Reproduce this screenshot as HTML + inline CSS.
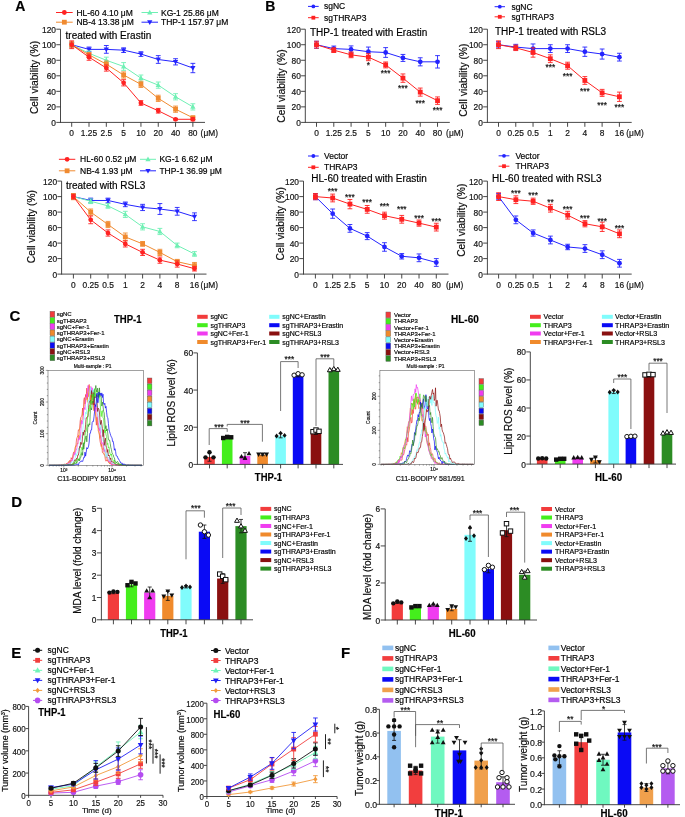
<!DOCTYPE html>
<html><head><meta charset="utf-8"><style>
html,body{margin:0;padding:0;background:#fff;width:685px;height:817px;overflow:hidden}
svg{display:block;filter:blur(0.35px)}
text{font-family:"Liberation Sans", sans-serif;stroke:currentColor;stroke-width:0.18px}
</style></head><body>
<svg width="685" height="817" viewBox="0 0 685 817">
<text x="15.30" y="10.70" font-size="14" font-weight="bold" fill="#000">A</text>
<line x1="56.00" y1="12.50" x2="72.70" y2="12.50" stroke="#ff2222" stroke-width="1.0"/>
<circle cx="64.35" cy="12.50" r="2.4" fill="#ff2222" stroke="#ff2222" stroke-width="0"/>
<text x="76.40" y="15.56" font-size="8.5" text-anchor="start" font-weight="normal" fill="#000">HL-60 4.10 μM</text>
<line x1="56.00" y1="22.20" x2="72.70" y2="22.20" stroke="#f08a30" stroke-width="1.0"/>
<rect x="61.95" y="19.80" width="4.8" height="4.8" fill="#f08a30" stroke="#f08a30" stroke-width="0"/>
<text x="76.40" y="25.26" font-size="8.5" text-anchor="start" font-weight="normal" fill="#000">NB-4 13.38 μM</text>
<line x1="141.50" y1="12.50" x2="158.00" y2="12.50" stroke="#6ff0b4" stroke-width="1.0"/>
<polygon points="149.75,9.74 147.11,14.42 152.39,14.42" fill="#6ff0b4" stroke="#6ff0b4" stroke-width="0"/>
<text x="161.00" y="15.56" font-size="8.5" text-anchor="start" font-weight="normal" fill="#000">KG-1 25.86 μM</text>
<line x1="141.50" y1="22.20" x2="158.00" y2="22.20" stroke="#2424ff" stroke-width="1.0"/>
<polygon points="149.75,24.96 147.11,20.28 152.39,20.28" fill="#2424ff" stroke="#2424ff" stroke-width="0"/>
<text x="161.00" y="25.26" font-size="8.5" text-anchor="start" font-weight="normal" fill="#000">THP-1 157.97 μM</text>
<line x1="60.50" y1="122.90" x2="60.50" y2="29.20" stroke="#333" stroke-width="0.9"/>
<line x1="56.30" y1="122.40" x2="60.50" y2="122.40" stroke="#333" stroke-width="0.9"/>
<text x="56.00" y="125.92" font-size="8.4" text-anchor="end" font-weight="normal" fill="#222">0</text>
<line x1="56.30" y1="106.87" x2="60.50" y2="106.87" stroke="#333" stroke-width="0.9"/>
<text x="56.00" y="110.39" font-size="8.4" text-anchor="end" font-weight="normal" fill="#222">20</text>
<line x1="56.30" y1="91.33" x2="60.50" y2="91.33" stroke="#333" stroke-width="0.9"/>
<text x="56.00" y="94.86" font-size="8.4" text-anchor="end" font-weight="normal" fill="#222">40</text>
<line x1="56.30" y1="75.80" x2="60.50" y2="75.80" stroke="#333" stroke-width="0.9"/>
<text x="56.00" y="79.32" font-size="8.4" text-anchor="end" font-weight="normal" fill="#222">60</text>
<line x1="56.30" y1="60.27" x2="60.50" y2="60.27" stroke="#333" stroke-width="0.9"/>
<text x="56.00" y="63.79" font-size="8.4" text-anchor="end" font-weight="normal" fill="#222">80</text>
<line x1="56.30" y1="44.73" x2="60.50" y2="44.73" stroke="#333" stroke-width="0.9"/>
<text x="56.00" y="48.26" font-size="8.4" text-anchor="end" font-weight="normal" fill="#222">100</text>
<line x1="56.30" y1="29.20" x2="60.50" y2="29.20" stroke="#333" stroke-width="0.9"/>
<text x="56.00" y="32.72" font-size="8.4" text-anchor="end" font-weight="normal" fill="#222">120</text>
<line x1="60.50" y1="122.40" x2="205.00" y2="122.40" stroke="#333" stroke-width="0.9"/>
<line x1="71.70" y1="122.40" x2="71.70" y2="126.80" stroke="#333" stroke-width="0.9"/>
<text x="71.70" y="136.32" font-size="8.4" text-anchor="middle" font-weight="normal" fill="#222">0</text>
<line x1="89.01" y1="122.40" x2="89.01" y2="126.80" stroke="#333" stroke-width="0.9"/>
<text x="89.01" y="136.32" font-size="8.4" text-anchor="middle" font-weight="normal" fill="#222">1.25</text>
<line x1="106.32" y1="122.40" x2="106.32" y2="126.80" stroke="#333" stroke-width="0.9"/>
<text x="106.32" y="136.32" font-size="8.4" text-anchor="middle" font-weight="normal" fill="#222">2.5</text>
<line x1="123.63" y1="122.40" x2="123.63" y2="126.80" stroke="#333" stroke-width="0.9"/>
<text x="123.63" y="136.32" font-size="8.4" text-anchor="middle" font-weight="normal" fill="#222">5</text>
<line x1="140.94" y1="122.40" x2="140.94" y2="126.80" stroke="#333" stroke-width="0.9"/>
<text x="140.94" y="136.32" font-size="8.4" text-anchor="middle" font-weight="normal" fill="#222">10</text>
<line x1="158.25" y1="122.40" x2="158.25" y2="126.80" stroke="#333" stroke-width="0.9"/>
<text x="158.25" y="136.32" font-size="8.4" text-anchor="middle" font-weight="normal" fill="#222">20</text>
<line x1="175.56" y1="122.40" x2="175.56" y2="126.80" stroke="#333" stroke-width="0.9"/>
<text x="175.56" y="136.32" font-size="8.4" text-anchor="middle" font-weight="normal" fill="#222">40</text>
<line x1="192.87" y1="122.40" x2="192.87" y2="126.80" stroke="#333" stroke-width="0.9"/>
<text x="192.87" y="136.32" font-size="8.4" text-anchor="middle" font-weight="normal" fill="#222">80</text>
<text x="200.60" y="136.32" font-size="8.4" text-anchor="start" font-weight="normal" fill="#222">(μM)</text>
<polyline points="71.70,44.73 89.01,49.39 106.32,49.39 123.63,50.17 140.94,54.05 158.25,59.49 175.56,61.82 192.87,68.03" fill="none" stroke="#2424ff" stroke-width="1.0"/>
<line x1="71.70" y1="42.40" x2="71.70" y2="47.06" stroke="#2424ff" stroke-width="0.9"/>
<line x1="69.30" y1="42.40" x2="74.10" y2="42.40" stroke="#2424ff" stroke-width="0.9"/>
<line x1="69.30" y1="47.06" x2="74.10" y2="47.06" stroke="#2424ff" stroke-width="0.9"/>
<line x1="89.01" y1="47.06" x2="89.01" y2="51.72" stroke="#2424ff" stroke-width="0.9"/>
<line x1="86.61" y1="47.06" x2="91.41" y2="47.06" stroke="#2424ff" stroke-width="0.9"/>
<line x1="86.61" y1="51.72" x2="91.41" y2="51.72" stroke="#2424ff" stroke-width="0.9"/>
<line x1="106.32" y1="45.51" x2="106.32" y2="53.28" stroke="#2424ff" stroke-width="0.9"/>
<line x1="103.92" y1="45.51" x2="108.72" y2="45.51" stroke="#2424ff" stroke-width="0.9"/>
<line x1="103.92" y1="53.28" x2="108.72" y2="53.28" stroke="#2424ff" stroke-width="0.9"/>
<line x1="123.63" y1="47.84" x2="123.63" y2="52.50" stroke="#2424ff" stroke-width="0.9"/>
<line x1="121.23" y1="47.84" x2="126.03" y2="47.84" stroke="#2424ff" stroke-width="0.9"/>
<line x1="121.23" y1="52.50" x2="126.03" y2="52.50" stroke="#2424ff" stroke-width="0.9"/>
<line x1="140.94" y1="51.72" x2="140.94" y2="56.38" stroke="#2424ff" stroke-width="0.9"/>
<line x1="138.54" y1="51.72" x2="143.34" y2="51.72" stroke="#2424ff" stroke-width="0.9"/>
<line x1="138.54" y1="56.38" x2="143.34" y2="56.38" stroke="#2424ff" stroke-width="0.9"/>
<line x1="158.25" y1="55.61" x2="158.25" y2="63.37" stroke="#2424ff" stroke-width="0.9"/>
<line x1="155.85" y1="55.61" x2="160.65" y2="55.61" stroke="#2424ff" stroke-width="0.9"/>
<line x1="155.85" y1="63.37" x2="160.65" y2="63.37" stroke="#2424ff" stroke-width="0.9"/>
<line x1="175.56" y1="58.71" x2="175.56" y2="64.93" stroke="#2424ff" stroke-width="0.9"/>
<line x1="173.16" y1="58.71" x2="177.96" y2="58.71" stroke="#2424ff" stroke-width="0.9"/>
<line x1="173.16" y1="64.93" x2="177.96" y2="64.93" stroke="#2424ff" stroke-width="0.9"/>
<line x1="192.87" y1="63.37" x2="192.87" y2="72.69" stroke="#2424ff" stroke-width="0.9"/>
<line x1="190.47" y1="63.37" x2="195.27" y2="63.37" stroke="#2424ff" stroke-width="0.9"/>
<line x1="190.47" y1="72.69" x2="195.27" y2="72.69" stroke="#2424ff" stroke-width="0.9"/>
<polygon points="71.70,47.49 69.06,42.81 74.34,42.81" fill="#2424ff" stroke="#2424ff" stroke-width="0"/>
<polygon points="89.01,52.15 86.37,47.47 91.65,47.47" fill="#2424ff" stroke="#2424ff" stroke-width="0"/>
<polygon points="106.32,52.15 103.68,47.47 108.96,47.47" fill="#2424ff" stroke="#2424ff" stroke-width="0"/>
<polygon points="123.63,52.93 120.99,48.25 126.27,48.25" fill="#2424ff" stroke="#2424ff" stroke-width="0"/>
<polygon points="140.94,56.81 138.30,52.13 143.58,52.13" fill="#2424ff" stroke="#2424ff" stroke-width="0"/>
<polygon points="158.25,62.25 155.61,57.57 160.89,57.57" fill="#2424ff" stroke="#2424ff" stroke-width="0"/>
<polygon points="175.56,64.58 172.92,59.90 178.20,59.90" fill="#2424ff" stroke="#2424ff" stroke-width="0"/>
<polygon points="192.87,70.79 190.23,66.11 195.51,66.11" fill="#2424ff" stroke="#2424ff" stroke-width="0"/>
<polyline points="71.70,44.73 89.01,53.28 106.32,60.27 123.63,66.48 140.94,78.13 158.25,85.12 175.56,96.77 192.87,106.87" fill="none" stroke="#6ff0b4" stroke-width="1.0"/>
<line x1="71.70" y1="42.40" x2="71.70" y2="47.06" stroke="#6ff0b4" stroke-width="0.9"/>
<line x1="69.30" y1="42.40" x2="74.10" y2="42.40" stroke="#6ff0b4" stroke-width="0.9"/>
<line x1="69.30" y1="47.06" x2="74.10" y2="47.06" stroke="#6ff0b4" stroke-width="0.9"/>
<line x1="89.01" y1="50.95" x2="89.01" y2="55.61" stroke="#6ff0b4" stroke-width="0.9"/>
<line x1="86.61" y1="50.95" x2="91.41" y2="50.95" stroke="#6ff0b4" stroke-width="0.9"/>
<line x1="86.61" y1="55.61" x2="91.41" y2="55.61" stroke="#6ff0b4" stroke-width="0.9"/>
<line x1="106.32" y1="57.16" x2="106.32" y2="63.37" stroke="#6ff0b4" stroke-width="0.9"/>
<line x1="103.92" y1="57.16" x2="108.72" y2="57.16" stroke="#6ff0b4" stroke-width="0.9"/>
<line x1="103.92" y1="63.37" x2="108.72" y2="63.37" stroke="#6ff0b4" stroke-width="0.9"/>
<line x1="123.63" y1="62.60" x2="123.63" y2="70.36" stroke="#6ff0b4" stroke-width="0.9"/>
<line x1="121.23" y1="62.60" x2="126.03" y2="62.60" stroke="#6ff0b4" stroke-width="0.9"/>
<line x1="121.23" y1="70.36" x2="126.03" y2="70.36" stroke="#6ff0b4" stroke-width="0.9"/>
<line x1="140.94" y1="75.02" x2="140.94" y2="81.24" stroke="#6ff0b4" stroke-width="0.9"/>
<line x1="138.54" y1="75.02" x2="143.34" y2="75.02" stroke="#6ff0b4" stroke-width="0.9"/>
<line x1="138.54" y1="81.24" x2="143.34" y2="81.24" stroke="#6ff0b4" stroke-width="0.9"/>
<line x1="158.25" y1="82.01" x2="158.25" y2="88.23" stroke="#6ff0b4" stroke-width="0.9"/>
<line x1="155.85" y1="82.01" x2="160.65" y2="82.01" stroke="#6ff0b4" stroke-width="0.9"/>
<line x1="155.85" y1="88.23" x2="160.65" y2="88.23" stroke="#6ff0b4" stroke-width="0.9"/>
<line x1="175.56" y1="93.66" x2="175.56" y2="99.88" stroke="#6ff0b4" stroke-width="0.9"/>
<line x1="173.16" y1="93.66" x2="177.96" y2="93.66" stroke="#6ff0b4" stroke-width="0.9"/>
<line x1="173.16" y1="99.88" x2="177.96" y2="99.88" stroke="#6ff0b4" stroke-width="0.9"/>
<line x1="192.87" y1="103.76" x2="192.87" y2="109.97" stroke="#6ff0b4" stroke-width="0.9"/>
<line x1="190.47" y1="103.76" x2="195.27" y2="103.76" stroke="#6ff0b4" stroke-width="0.9"/>
<line x1="190.47" y1="109.97" x2="195.27" y2="109.97" stroke="#6ff0b4" stroke-width="0.9"/>
<polygon points="71.70,41.97 69.06,46.65 74.34,46.65" fill="#6ff0b4" stroke="#6ff0b4" stroke-width="0"/>
<polygon points="89.01,50.52 86.37,55.20 91.65,55.20" fill="#6ff0b4" stroke="#6ff0b4" stroke-width="0"/>
<polygon points="106.32,57.51 103.68,62.19 108.96,62.19" fill="#6ff0b4" stroke="#6ff0b4" stroke-width="0"/>
<polygon points="123.63,63.72 120.99,68.40 126.27,68.40" fill="#6ff0b4" stroke="#6ff0b4" stroke-width="0"/>
<polygon points="140.94,75.37 138.30,80.05 143.58,80.05" fill="#6ff0b4" stroke="#6ff0b4" stroke-width="0"/>
<polygon points="158.25,82.36 155.61,87.04 160.89,87.04" fill="#6ff0b4" stroke="#6ff0b4" stroke-width="0"/>
<polygon points="175.56,94.01 172.92,98.69 178.20,98.69" fill="#6ff0b4" stroke="#6ff0b4" stroke-width="0"/>
<polygon points="192.87,104.11 190.23,108.79 195.51,108.79" fill="#6ff0b4" stroke="#6ff0b4" stroke-width="0"/>
<polyline points="71.70,44.73 89.01,54.83 106.32,64.15 123.63,75.02 140.94,84.34 158.25,98.32 175.56,109.20 192.87,117.74" fill="none" stroke="#f08a30" stroke-width="1.0"/>
<line x1="71.70" y1="41.63" x2="71.70" y2="47.84" stroke="#f08a30" stroke-width="0.9"/>
<line x1="69.30" y1="41.63" x2="74.10" y2="41.63" stroke="#f08a30" stroke-width="0.9"/>
<line x1="69.30" y1="47.84" x2="74.10" y2="47.84" stroke="#f08a30" stroke-width="0.9"/>
<line x1="89.01" y1="52.50" x2="89.01" y2="57.16" stroke="#f08a30" stroke-width="0.9"/>
<line x1="86.61" y1="52.50" x2="91.41" y2="52.50" stroke="#f08a30" stroke-width="0.9"/>
<line x1="86.61" y1="57.16" x2="91.41" y2="57.16" stroke="#f08a30" stroke-width="0.9"/>
<line x1="106.32" y1="61.04" x2="106.32" y2="67.26" stroke="#f08a30" stroke-width="0.9"/>
<line x1="103.92" y1="61.04" x2="108.72" y2="61.04" stroke="#f08a30" stroke-width="0.9"/>
<line x1="103.92" y1="67.26" x2="108.72" y2="67.26" stroke="#f08a30" stroke-width="0.9"/>
<line x1="123.63" y1="71.92" x2="123.63" y2="78.13" stroke="#f08a30" stroke-width="0.9"/>
<line x1="121.23" y1="71.92" x2="126.03" y2="71.92" stroke="#f08a30" stroke-width="0.9"/>
<line x1="121.23" y1="78.13" x2="126.03" y2="78.13" stroke="#f08a30" stroke-width="0.9"/>
<line x1="140.94" y1="81.24" x2="140.94" y2="87.45" stroke="#f08a30" stroke-width="0.9"/>
<line x1="138.54" y1="81.24" x2="143.34" y2="81.24" stroke="#f08a30" stroke-width="0.9"/>
<line x1="138.54" y1="87.45" x2="143.34" y2="87.45" stroke="#f08a30" stroke-width="0.9"/>
<line x1="158.25" y1="95.22" x2="158.25" y2="101.43" stroke="#f08a30" stroke-width="0.9"/>
<line x1="155.85" y1="95.22" x2="160.65" y2="95.22" stroke="#f08a30" stroke-width="0.9"/>
<line x1="155.85" y1="101.43" x2="160.65" y2="101.43" stroke="#f08a30" stroke-width="0.9"/>
<line x1="175.56" y1="106.09" x2="175.56" y2="112.30" stroke="#f08a30" stroke-width="0.9"/>
<line x1="173.16" y1="106.09" x2="177.96" y2="106.09" stroke="#f08a30" stroke-width="0.9"/>
<line x1="173.16" y1="112.30" x2="177.96" y2="112.30" stroke="#f08a30" stroke-width="0.9"/>
<line x1="192.87" y1="116.19" x2="192.87" y2="119.29" stroke="#f08a30" stroke-width="0.9"/>
<line x1="190.47" y1="116.19" x2="195.27" y2="116.19" stroke="#f08a30" stroke-width="0.9"/>
<line x1="190.47" y1="119.29" x2="195.27" y2="119.29" stroke="#f08a30" stroke-width="0.9"/>
<rect x="69.30" y="42.33" width="4.8" height="4.8" fill="#f08a30" stroke="#f08a30" stroke-width="0"/>
<rect x="86.61" y="52.43" width="4.8" height="4.8" fill="#f08a30" stroke="#f08a30" stroke-width="0"/>
<rect x="103.92" y="61.75" width="4.8" height="4.8" fill="#f08a30" stroke="#f08a30" stroke-width="0"/>
<rect x="121.23" y="72.62" width="4.8" height="4.8" fill="#f08a30" stroke="#f08a30" stroke-width="0"/>
<rect x="138.54" y="81.94" width="4.8" height="4.8" fill="#f08a30" stroke="#f08a30" stroke-width="0"/>
<rect x="155.85" y="95.92" width="4.8" height="4.8" fill="#f08a30" stroke="#f08a30" stroke-width="0"/>
<rect x="173.16" y="106.80" width="4.8" height="4.8" fill="#f08a30" stroke="#f08a30" stroke-width="0"/>
<rect x="190.47" y="115.34" width="4.8" height="4.8" fill="#f08a30" stroke="#f08a30" stroke-width="0"/>
<polyline points="71.70,44.73 89.01,57.16 106.32,68.03 123.63,82.79 140.94,102.98 158.25,110.75 175.56,119.29 192.87,119.29" fill="none" stroke="#ff2222" stroke-width="1.0"/>
<line x1="71.70" y1="40.85" x2="71.70" y2="48.62" stroke="#ff2222" stroke-width="0.9"/>
<line x1="69.30" y1="40.85" x2="74.10" y2="40.85" stroke="#ff2222" stroke-width="0.9"/>
<line x1="69.30" y1="48.62" x2="74.10" y2="48.62" stroke="#ff2222" stroke-width="0.9"/>
<line x1="89.01" y1="54.05" x2="89.01" y2="60.27" stroke="#ff2222" stroke-width="0.9"/>
<line x1="86.61" y1="54.05" x2="91.41" y2="54.05" stroke="#ff2222" stroke-width="0.9"/>
<line x1="86.61" y1="60.27" x2="91.41" y2="60.27" stroke="#ff2222" stroke-width="0.9"/>
<line x1="106.32" y1="64.93" x2="106.32" y2="71.14" stroke="#ff2222" stroke-width="0.9"/>
<line x1="103.92" y1="64.93" x2="108.72" y2="64.93" stroke="#ff2222" stroke-width="0.9"/>
<line x1="103.92" y1="71.14" x2="108.72" y2="71.14" stroke="#ff2222" stroke-width="0.9"/>
<line x1="123.63" y1="79.68" x2="123.63" y2="85.90" stroke="#ff2222" stroke-width="0.9"/>
<line x1="121.23" y1="79.68" x2="126.03" y2="79.68" stroke="#ff2222" stroke-width="0.9"/>
<line x1="121.23" y1="85.90" x2="126.03" y2="85.90" stroke="#ff2222" stroke-width="0.9"/>
<line x1="140.94" y1="100.65" x2="140.94" y2="105.31" stroke="#ff2222" stroke-width="0.9"/>
<line x1="138.54" y1="100.65" x2="143.34" y2="100.65" stroke="#ff2222" stroke-width="0.9"/>
<line x1="138.54" y1="105.31" x2="143.34" y2="105.31" stroke="#ff2222" stroke-width="0.9"/>
<line x1="158.25" y1="108.42" x2="158.25" y2="113.08" stroke="#ff2222" stroke-width="0.9"/>
<line x1="155.85" y1="108.42" x2="160.65" y2="108.42" stroke="#ff2222" stroke-width="0.9"/>
<line x1="155.85" y1="113.08" x2="160.65" y2="113.08" stroke="#ff2222" stroke-width="0.9"/>
<line x1="175.56" y1="118.52" x2="175.56" y2="120.07" stroke="#ff2222" stroke-width="0.9"/>
<line x1="173.16" y1="118.52" x2="177.96" y2="118.52" stroke="#ff2222" stroke-width="0.9"/>
<line x1="173.16" y1="120.07" x2="177.96" y2="120.07" stroke="#ff2222" stroke-width="0.9"/>
<line x1="192.87" y1="117.74" x2="192.87" y2="120.85" stroke="#ff2222" stroke-width="0.9"/>
<line x1="190.47" y1="117.74" x2="195.27" y2="117.74" stroke="#ff2222" stroke-width="0.9"/>
<line x1="190.47" y1="120.85" x2="195.27" y2="120.85" stroke="#ff2222" stroke-width="0.9"/>
<circle cx="71.70" cy="44.73" r="2.4" fill="#ff2222" stroke="#ff2222" stroke-width="0"/>
<circle cx="89.01" cy="57.16" r="2.4" fill="#ff2222" stroke="#ff2222" stroke-width="0"/>
<circle cx="106.32" cy="68.03" r="2.4" fill="#ff2222" stroke="#ff2222" stroke-width="0"/>
<circle cx="123.63" cy="82.79" r="2.4" fill="#ff2222" stroke="#ff2222" stroke-width="0"/>
<circle cx="140.94" cy="102.98" r="2.4" fill="#ff2222" stroke="#ff2222" stroke-width="0"/>
<circle cx="158.25" cy="110.75" r="2.4" fill="#ff2222" stroke="#ff2222" stroke-width="0"/>
<circle cx="175.56" cy="119.29" r="2.4" fill="#ff2222" stroke="#ff2222" stroke-width="0"/>
<circle cx="192.87" cy="119.29" r="2.4" fill="#ff2222" stroke="#ff2222" stroke-width="0"/>
<text x="65.60" y="39.00" font-size="10" text-anchor="start" font-weight="normal" fill="#000">treated with Erastin</text>
<text x="34.60" y="81.21" font-size="10.3" text-anchor="middle" fill="#111" transform="rotate(-90 34.60 77.50)">Cell viability (%)</text>
<line x1="58.90" y1="159.30" x2="75.30" y2="159.30" stroke="#ff2222" stroke-width="1.0"/>
<circle cx="67.10" cy="159.30" r="2.4" fill="#ff2222" stroke="#ff2222" stroke-width="0"/>
<text x="80.00" y="162.36" font-size="8.5" text-anchor="start" font-weight="normal" fill="#000">HL-60 0.52 μM</text>
<line x1="58.90" y1="170.80" x2="75.30" y2="170.80" stroke="#f08a30" stroke-width="1.0"/>
<rect x="64.70" y="168.40" width="4.8" height="4.8" fill="#f08a30" stroke="#f08a30" stroke-width="0"/>
<text x="80.00" y="173.86" font-size="8.5" text-anchor="start" font-weight="normal" fill="#000">NB-4 1.93 μM</text>
<line x1="140.00" y1="159.30" x2="156.00" y2="159.30" stroke="#6ff0b4" stroke-width="1.0"/>
<polygon points="148.00,156.54 145.36,161.22 150.64,161.22" fill="#6ff0b4" stroke="#6ff0b4" stroke-width="0"/>
<text x="159.40" y="162.36" font-size="8.5" text-anchor="start" font-weight="normal" fill="#000">KG-1 6.62 μM</text>
<line x1="140.00" y1="170.80" x2="156.00" y2="170.80" stroke="#2424ff" stroke-width="1.0"/>
<polygon points="148.00,173.56 145.36,168.88 150.64,168.88" fill="#2424ff" stroke="#2424ff" stroke-width="0"/>
<text x="159.40" y="173.86" font-size="8.5" text-anchor="start" font-weight="normal" fill="#000">THP-1 36.99 μM</text>
<line x1="61.60" y1="274.60" x2="61.60" y2="181.10" stroke="#333" stroke-width="0.9"/>
<line x1="57.40" y1="274.10" x2="61.60" y2="274.10" stroke="#333" stroke-width="0.9"/>
<text x="57.10" y="277.62" font-size="8.4" text-anchor="end" font-weight="normal" fill="#222">0</text>
<line x1="57.40" y1="258.60" x2="61.60" y2="258.60" stroke="#333" stroke-width="0.9"/>
<text x="57.10" y="262.12" font-size="8.4" text-anchor="end" font-weight="normal" fill="#222">20</text>
<line x1="57.40" y1="243.10" x2="61.60" y2="243.10" stroke="#333" stroke-width="0.9"/>
<text x="57.10" y="246.62" font-size="8.4" text-anchor="end" font-weight="normal" fill="#222">40</text>
<line x1="57.40" y1="227.60" x2="61.60" y2="227.60" stroke="#333" stroke-width="0.9"/>
<text x="57.10" y="231.12" font-size="8.4" text-anchor="end" font-weight="normal" fill="#222">60</text>
<line x1="57.40" y1="212.10" x2="61.60" y2="212.10" stroke="#333" stroke-width="0.9"/>
<text x="57.10" y="215.62" font-size="8.4" text-anchor="end" font-weight="normal" fill="#222">80</text>
<line x1="57.40" y1="196.60" x2="61.60" y2="196.60" stroke="#333" stroke-width="0.9"/>
<text x="57.10" y="200.12" font-size="8.4" text-anchor="end" font-weight="normal" fill="#222">100</text>
<line x1="57.40" y1="181.10" x2="61.60" y2="181.10" stroke="#333" stroke-width="0.9"/>
<text x="57.10" y="184.62" font-size="8.4" text-anchor="end" font-weight="normal" fill="#222">120</text>
<line x1="61.60" y1="274.10" x2="206.50" y2="274.10" stroke="#333" stroke-width="0.9"/>
<line x1="73.40" y1="274.10" x2="73.40" y2="278.50" stroke="#333" stroke-width="0.9"/>
<text x="73.40" y="288.02" font-size="8.4" text-anchor="middle" font-weight="normal" fill="#222">0</text>
<line x1="90.70" y1="274.10" x2="90.70" y2="278.50" stroke="#333" stroke-width="0.9"/>
<text x="90.70" y="288.02" font-size="8.4" text-anchor="middle" font-weight="normal" fill="#222">0.25</text>
<line x1="108.00" y1="274.10" x2="108.00" y2="278.50" stroke="#333" stroke-width="0.9"/>
<text x="108.00" y="288.02" font-size="8.4" text-anchor="middle" font-weight="normal" fill="#222">0.5</text>
<line x1="125.30" y1="274.10" x2="125.30" y2="278.50" stroke="#333" stroke-width="0.9"/>
<text x="125.30" y="288.02" font-size="8.4" text-anchor="middle" font-weight="normal" fill="#222">1</text>
<line x1="142.60" y1="274.10" x2="142.60" y2="278.50" stroke="#333" stroke-width="0.9"/>
<text x="142.60" y="288.02" font-size="8.4" text-anchor="middle" font-weight="normal" fill="#222">2</text>
<line x1="159.90" y1="274.10" x2="159.90" y2="278.50" stroke="#333" stroke-width="0.9"/>
<text x="159.90" y="288.02" font-size="8.4" text-anchor="middle" font-weight="normal" fill="#222">4</text>
<line x1="177.20" y1="274.10" x2="177.20" y2="278.50" stroke="#333" stroke-width="0.9"/>
<text x="177.20" y="288.02" font-size="8.4" text-anchor="middle" font-weight="normal" fill="#222">8</text>
<line x1="194.50" y1="274.10" x2="194.50" y2="278.50" stroke="#333" stroke-width="0.9"/>
<text x="194.50" y="288.02" font-size="8.4" text-anchor="middle" font-weight="normal" fill="#222">16</text>
<text x="200.60" y="288.02" font-size="8.4" text-anchor="start" font-weight="normal" fill="#222">(μM)</text>
<polyline points="73.40,196.60 90.70,200.48 108.00,200.48 125.30,204.35 142.60,207.45 159.90,209.00 177.20,211.32 194.50,216.75" fill="none" stroke="#2424ff" stroke-width="1.0"/>
<line x1="73.40" y1="194.27" x2="73.40" y2="198.93" stroke="#2424ff" stroke-width="0.9"/>
<line x1="71.00" y1="194.27" x2="75.80" y2="194.27" stroke="#2424ff" stroke-width="0.9"/>
<line x1="71.00" y1="198.93" x2="75.80" y2="198.93" stroke="#2424ff" stroke-width="0.9"/>
<line x1="90.70" y1="198.15" x2="90.70" y2="202.80" stroke="#2424ff" stroke-width="0.9"/>
<line x1="88.30" y1="198.15" x2="93.10" y2="198.15" stroke="#2424ff" stroke-width="0.9"/>
<line x1="88.30" y1="202.80" x2="93.10" y2="202.80" stroke="#2424ff" stroke-width="0.9"/>
<line x1="108.00" y1="198.15" x2="108.00" y2="202.80" stroke="#2424ff" stroke-width="0.9"/>
<line x1="105.60" y1="198.15" x2="110.40" y2="198.15" stroke="#2424ff" stroke-width="0.9"/>
<line x1="105.60" y1="202.80" x2="110.40" y2="202.80" stroke="#2424ff" stroke-width="0.9"/>
<line x1="125.30" y1="202.03" x2="125.30" y2="206.68" stroke="#2424ff" stroke-width="0.9"/>
<line x1="122.90" y1="202.03" x2="127.70" y2="202.03" stroke="#2424ff" stroke-width="0.9"/>
<line x1="122.90" y1="206.68" x2="127.70" y2="206.68" stroke="#2424ff" stroke-width="0.9"/>
<line x1="142.60" y1="204.35" x2="142.60" y2="210.55" stroke="#2424ff" stroke-width="0.9"/>
<line x1="140.20" y1="204.35" x2="145.00" y2="204.35" stroke="#2424ff" stroke-width="0.9"/>
<line x1="140.20" y1="210.55" x2="145.00" y2="210.55" stroke="#2424ff" stroke-width="0.9"/>
<line x1="159.90" y1="203.57" x2="159.90" y2="214.43" stroke="#2424ff" stroke-width="0.9"/>
<line x1="157.50" y1="203.57" x2="162.30" y2="203.57" stroke="#2424ff" stroke-width="0.9"/>
<line x1="157.50" y1="214.43" x2="162.30" y2="214.43" stroke="#2424ff" stroke-width="0.9"/>
<line x1="177.20" y1="207.45" x2="177.20" y2="215.20" stroke="#2424ff" stroke-width="0.9"/>
<line x1="174.80" y1="207.45" x2="179.60" y2="207.45" stroke="#2424ff" stroke-width="0.9"/>
<line x1="174.80" y1="215.20" x2="179.60" y2="215.20" stroke="#2424ff" stroke-width="0.9"/>
<line x1="194.50" y1="212.88" x2="194.50" y2="220.62" stroke="#2424ff" stroke-width="0.9"/>
<line x1="192.10" y1="212.88" x2="196.90" y2="212.88" stroke="#2424ff" stroke-width="0.9"/>
<line x1="192.10" y1="220.62" x2="196.90" y2="220.62" stroke="#2424ff" stroke-width="0.9"/>
<polygon points="73.40,199.36 70.76,194.68 76.04,194.68" fill="#2424ff" stroke="#2424ff" stroke-width="0"/>
<polygon points="90.70,203.24 88.06,198.56 93.34,198.56" fill="#2424ff" stroke="#2424ff" stroke-width="0"/>
<polygon points="108.00,203.24 105.36,198.56 110.64,198.56" fill="#2424ff" stroke="#2424ff" stroke-width="0"/>
<polygon points="125.30,207.11 122.66,202.43 127.94,202.43" fill="#2424ff" stroke="#2424ff" stroke-width="0"/>
<polygon points="142.60,210.21 139.96,205.53 145.24,205.53" fill="#2424ff" stroke="#2424ff" stroke-width="0"/>
<polygon points="159.90,211.76 157.26,207.08 162.54,207.08" fill="#2424ff" stroke="#2424ff" stroke-width="0"/>
<polygon points="177.20,214.08 174.56,209.41 179.84,209.41" fill="#2424ff" stroke="#2424ff" stroke-width="0"/>
<polygon points="194.50,219.51 191.86,214.83 197.14,214.83" fill="#2424ff" stroke="#2424ff" stroke-width="0"/>
<polyline points="73.40,196.60 90.70,201.25 108.00,205.90 125.30,214.43 142.60,226.83 159.90,231.48 177.20,245.43 194.50,253.95" fill="none" stroke="#6ff0b4" stroke-width="1.0"/>
<line x1="73.40" y1="194.27" x2="73.40" y2="198.93" stroke="#6ff0b4" stroke-width="0.9"/>
<line x1="71.00" y1="194.27" x2="75.80" y2="194.27" stroke="#6ff0b4" stroke-width="0.9"/>
<line x1="71.00" y1="198.93" x2="75.80" y2="198.93" stroke="#6ff0b4" stroke-width="0.9"/>
<line x1="90.70" y1="198.93" x2="90.70" y2="203.57" stroke="#6ff0b4" stroke-width="0.9"/>
<line x1="88.30" y1="198.93" x2="93.10" y2="198.93" stroke="#6ff0b4" stroke-width="0.9"/>
<line x1="88.30" y1="203.57" x2="93.10" y2="203.57" stroke="#6ff0b4" stroke-width="0.9"/>
<line x1="108.00" y1="203.57" x2="108.00" y2="208.22" stroke="#6ff0b4" stroke-width="0.9"/>
<line x1="105.60" y1="203.57" x2="110.40" y2="203.57" stroke="#6ff0b4" stroke-width="0.9"/>
<line x1="105.60" y1="208.22" x2="110.40" y2="208.22" stroke="#6ff0b4" stroke-width="0.9"/>
<line x1="125.30" y1="211.32" x2="125.30" y2="217.53" stroke="#6ff0b4" stroke-width="0.9"/>
<line x1="122.90" y1="211.32" x2="127.70" y2="211.32" stroke="#6ff0b4" stroke-width="0.9"/>
<line x1="122.90" y1="217.53" x2="127.70" y2="217.53" stroke="#6ff0b4" stroke-width="0.9"/>
<line x1="142.60" y1="223.73" x2="142.60" y2="229.93" stroke="#6ff0b4" stroke-width="0.9"/>
<line x1="140.20" y1="223.73" x2="145.00" y2="223.73" stroke="#6ff0b4" stroke-width="0.9"/>
<line x1="140.20" y1="229.93" x2="145.00" y2="229.93" stroke="#6ff0b4" stroke-width="0.9"/>
<line x1="159.90" y1="228.38" x2="159.90" y2="234.58" stroke="#6ff0b4" stroke-width="0.9"/>
<line x1="157.50" y1="228.38" x2="162.30" y2="228.38" stroke="#6ff0b4" stroke-width="0.9"/>
<line x1="157.50" y1="234.58" x2="162.30" y2="234.58" stroke="#6ff0b4" stroke-width="0.9"/>
<line x1="177.20" y1="243.10" x2="177.20" y2="247.75" stroke="#6ff0b4" stroke-width="0.9"/>
<line x1="174.80" y1="243.10" x2="179.60" y2="243.10" stroke="#6ff0b4" stroke-width="0.9"/>
<line x1="174.80" y1="247.75" x2="179.60" y2="247.75" stroke="#6ff0b4" stroke-width="0.9"/>
<line x1="194.50" y1="251.62" x2="194.50" y2="256.28" stroke="#6ff0b4" stroke-width="0.9"/>
<line x1="192.10" y1="251.62" x2="196.90" y2="251.62" stroke="#6ff0b4" stroke-width="0.9"/>
<line x1="192.10" y1="256.28" x2="196.90" y2="256.28" stroke="#6ff0b4" stroke-width="0.9"/>
<polygon points="73.40,193.84 70.76,198.52 76.04,198.52" fill="#6ff0b4" stroke="#6ff0b4" stroke-width="0"/>
<polygon points="90.70,198.49 88.06,203.17 93.34,203.17" fill="#6ff0b4" stroke="#6ff0b4" stroke-width="0"/>
<polygon points="108.00,203.14 105.36,207.82 110.64,207.82" fill="#6ff0b4" stroke="#6ff0b4" stroke-width="0"/>
<polygon points="125.30,211.67 122.66,216.34 127.94,216.34" fill="#6ff0b4" stroke="#6ff0b4" stroke-width="0"/>
<polygon points="142.60,224.07 139.96,228.75 145.24,228.75" fill="#6ff0b4" stroke="#6ff0b4" stroke-width="0"/>
<polygon points="159.90,228.72 157.26,233.40 162.54,233.40" fill="#6ff0b4" stroke="#6ff0b4" stroke-width="0"/>
<polygon points="177.20,242.67 174.56,247.34 179.84,247.34" fill="#6ff0b4" stroke="#6ff0b4" stroke-width="0"/>
<polygon points="194.50,251.19 191.86,255.87 197.14,255.87" fill="#6ff0b4" stroke="#6ff0b4" stroke-width="0"/>
<polyline points="73.40,196.60 90.70,212.10 108.00,224.50 125.30,236.90 142.60,243.88 159.90,252.40 177.20,261.70 194.50,265.58" fill="none" stroke="#f08a30" stroke-width="1.0"/>
<line x1="73.40" y1="193.50" x2="73.40" y2="199.70" stroke="#f08a30" stroke-width="0.9"/>
<line x1="71.00" y1="193.50" x2="75.80" y2="193.50" stroke="#f08a30" stroke-width="0.9"/>
<line x1="71.00" y1="199.70" x2="75.80" y2="199.70" stroke="#f08a30" stroke-width="0.9"/>
<line x1="90.70" y1="209.00" x2="90.70" y2="215.20" stroke="#f08a30" stroke-width="0.9"/>
<line x1="88.30" y1="209.00" x2="93.10" y2="209.00" stroke="#f08a30" stroke-width="0.9"/>
<line x1="88.30" y1="215.20" x2="93.10" y2="215.20" stroke="#f08a30" stroke-width="0.9"/>
<line x1="108.00" y1="221.40" x2="108.00" y2="227.60" stroke="#f08a30" stroke-width="0.9"/>
<line x1="105.60" y1="221.40" x2="110.40" y2="221.40" stroke="#f08a30" stroke-width="0.9"/>
<line x1="105.60" y1="227.60" x2="110.40" y2="227.60" stroke="#f08a30" stroke-width="0.9"/>
<line x1="125.30" y1="233.03" x2="125.30" y2="240.78" stroke="#f08a30" stroke-width="0.9"/>
<line x1="122.90" y1="233.03" x2="127.70" y2="233.03" stroke="#f08a30" stroke-width="0.9"/>
<line x1="122.90" y1="240.78" x2="127.70" y2="240.78" stroke="#f08a30" stroke-width="0.9"/>
<line x1="142.60" y1="241.55" x2="142.60" y2="246.20" stroke="#f08a30" stroke-width="0.9"/>
<line x1="140.20" y1="241.55" x2="145.00" y2="241.55" stroke="#f08a30" stroke-width="0.9"/>
<line x1="140.20" y1="246.20" x2="145.00" y2="246.20" stroke="#f08a30" stroke-width="0.9"/>
<line x1="159.90" y1="249.30" x2="159.90" y2="255.50" stroke="#f08a30" stroke-width="0.9"/>
<line x1="157.50" y1="249.30" x2="162.30" y2="249.30" stroke="#f08a30" stroke-width="0.9"/>
<line x1="157.50" y1="255.50" x2="162.30" y2="255.50" stroke="#f08a30" stroke-width="0.9"/>
<line x1="177.20" y1="259.38" x2="177.20" y2="264.03" stroke="#f08a30" stroke-width="0.9"/>
<line x1="174.80" y1="259.38" x2="179.60" y2="259.38" stroke="#f08a30" stroke-width="0.9"/>
<line x1="174.80" y1="264.03" x2="179.60" y2="264.03" stroke="#f08a30" stroke-width="0.9"/>
<line x1="194.50" y1="262.48" x2="194.50" y2="268.68" stroke="#f08a30" stroke-width="0.9"/>
<line x1="192.10" y1="262.48" x2="196.90" y2="262.48" stroke="#f08a30" stroke-width="0.9"/>
<line x1="192.10" y1="268.68" x2="196.90" y2="268.68" stroke="#f08a30" stroke-width="0.9"/>
<rect x="71.00" y="194.20" width="4.8" height="4.8" fill="#f08a30" stroke="#f08a30" stroke-width="0"/>
<rect x="88.30" y="209.70" width="4.8" height="4.8" fill="#f08a30" stroke="#f08a30" stroke-width="0"/>
<rect x="105.60" y="222.10" width="4.8" height="4.8" fill="#f08a30" stroke="#f08a30" stroke-width="0"/>
<rect x="122.90" y="234.50" width="4.8" height="4.8" fill="#f08a30" stroke="#f08a30" stroke-width="0"/>
<rect x="140.20" y="241.47" width="4.8" height="4.8" fill="#f08a30" stroke="#f08a30" stroke-width="0"/>
<rect x="157.50" y="250.00" width="4.8" height="4.8" fill="#f08a30" stroke="#f08a30" stroke-width="0"/>
<rect x="174.80" y="259.30" width="4.8" height="4.8" fill="#f08a30" stroke="#f08a30" stroke-width="0"/>
<rect x="192.10" y="263.18" width="4.8" height="4.8" fill="#f08a30" stroke="#f08a30" stroke-width="0"/>
<polyline points="73.40,196.60 90.70,219.85 108.00,233.03 125.30,243.88 142.60,252.40 159.90,260.15 177.20,264.03 194.50,268.68" fill="none" stroke="#ff2222" stroke-width="1.0"/>
<line x1="73.40" y1="194.27" x2="73.40" y2="198.93" stroke="#ff2222" stroke-width="0.9"/>
<line x1="71.00" y1="194.27" x2="75.80" y2="194.27" stroke="#ff2222" stroke-width="0.9"/>
<line x1="71.00" y1="198.93" x2="75.80" y2="198.93" stroke="#ff2222" stroke-width="0.9"/>
<line x1="90.70" y1="215.98" x2="90.70" y2="223.73" stroke="#ff2222" stroke-width="0.9"/>
<line x1="88.30" y1="215.98" x2="93.10" y2="215.98" stroke="#ff2222" stroke-width="0.9"/>
<line x1="88.30" y1="223.73" x2="93.10" y2="223.73" stroke="#ff2222" stroke-width="0.9"/>
<line x1="108.00" y1="229.93" x2="108.00" y2="236.12" stroke="#ff2222" stroke-width="0.9"/>
<line x1="105.60" y1="229.93" x2="110.40" y2="229.93" stroke="#ff2222" stroke-width="0.9"/>
<line x1="105.60" y1="236.12" x2="110.40" y2="236.12" stroke="#ff2222" stroke-width="0.9"/>
<line x1="125.30" y1="240.78" x2="125.30" y2="246.98" stroke="#ff2222" stroke-width="0.9"/>
<line x1="122.90" y1="240.78" x2="127.70" y2="240.78" stroke="#ff2222" stroke-width="0.9"/>
<line x1="122.90" y1="246.98" x2="127.70" y2="246.98" stroke="#ff2222" stroke-width="0.9"/>
<line x1="142.60" y1="249.30" x2="142.60" y2="255.50" stroke="#ff2222" stroke-width="0.9"/>
<line x1="140.20" y1="249.30" x2="145.00" y2="249.30" stroke="#ff2222" stroke-width="0.9"/>
<line x1="140.20" y1="255.50" x2="145.00" y2="255.50" stroke="#ff2222" stroke-width="0.9"/>
<line x1="159.90" y1="257.05" x2="159.90" y2="263.25" stroke="#ff2222" stroke-width="0.9"/>
<line x1="157.50" y1="257.05" x2="162.30" y2="257.05" stroke="#ff2222" stroke-width="0.9"/>
<line x1="157.50" y1="263.25" x2="162.30" y2="263.25" stroke="#ff2222" stroke-width="0.9"/>
<line x1="177.20" y1="260.93" x2="177.20" y2="267.12" stroke="#ff2222" stroke-width="0.9"/>
<line x1="174.80" y1="260.93" x2="179.60" y2="260.93" stroke="#ff2222" stroke-width="0.9"/>
<line x1="174.80" y1="267.12" x2="179.60" y2="267.12" stroke="#ff2222" stroke-width="0.9"/>
<line x1="194.50" y1="266.35" x2="194.50" y2="271.00" stroke="#ff2222" stroke-width="0.9"/>
<line x1="192.10" y1="266.35" x2="196.90" y2="266.35" stroke="#ff2222" stroke-width="0.9"/>
<line x1="192.10" y1="271.00" x2="196.90" y2="271.00" stroke="#ff2222" stroke-width="0.9"/>
<circle cx="73.40" cy="196.60" r="2.4" fill="#ff2222" stroke="#ff2222" stroke-width="0"/>
<circle cx="90.70" cy="219.85" r="2.4" fill="#ff2222" stroke="#ff2222" stroke-width="0"/>
<circle cx="108.00" cy="233.03" r="2.4" fill="#ff2222" stroke="#ff2222" stroke-width="0"/>
<circle cx="125.30" cy="243.88" r="2.4" fill="#ff2222" stroke="#ff2222" stroke-width="0"/>
<circle cx="142.60" cy="252.40" r="2.4" fill="#ff2222" stroke="#ff2222" stroke-width="0"/>
<circle cx="159.90" cy="260.15" r="2.4" fill="#ff2222" stroke="#ff2222" stroke-width="0"/>
<circle cx="177.20" cy="264.03" r="2.4" fill="#ff2222" stroke="#ff2222" stroke-width="0"/>
<circle cx="194.50" cy="268.68" r="2.4" fill="#ff2222" stroke="#ff2222" stroke-width="0"/>
<text x="65.90" y="189.10" font-size="10" text-anchor="start" font-weight="normal" fill="#000">treated with RSL3</text>
<text x="31.50" y="230.31" font-size="10.3" text-anchor="middle" fill="#111" transform="rotate(-90 31.50 226.60)">Cell viability (%)</text>
<text x="265.30" y="10.70" font-size="14" font-weight="bold" fill="#000">B</text>
<line x1="308.00" y1="6.40" x2="318.70" y2="6.40" stroke="#2424ff" stroke-width="1.0"/>
<circle cx="313.35" cy="6.40" r="1.9" fill="#2424ff" stroke="#2424ff" stroke-width="0"/>
<text x="324.00" y="9.46" font-size="8.5" text-anchor="start" font-weight="normal" fill="#000">sgNC</text>
<line x1="308.00" y1="17.70" x2="318.70" y2="17.70" stroke="#ff2222" stroke-width="1.0"/>
<rect x="311.45" y="15.80" width="3.8" height="3.8" fill="#ff2222" stroke="#ff2222" stroke-width="0"/>
<text x="324.00" y="20.76" font-size="8.5" text-anchor="start" font-weight="normal" fill="#000">sgTHRAP3</text>
<line x1="305.30" y1="122.90" x2="305.30" y2="29.20" stroke="#333" stroke-width="0.9"/>
<line x1="301.10" y1="122.40" x2="305.30" y2="122.40" stroke="#333" stroke-width="0.9"/>
<text x="300.80" y="125.92" font-size="8.4" text-anchor="end" font-weight="normal" fill="#222">0</text>
<line x1="301.10" y1="106.87" x2="305.30" y2="106.87" stroke="#333" stroke-width="0.9"/>
<text x="300.80" y="110.39" font-size="8.4" text-anchor="end" font-weight="normal" fill="#222">20</text>
<line x1="301.10" y1="91.33" x2="305.30" y2="91.33" stroke="#333" stroke-width="0.9"/>
<text x="300.80" y="94.86" font-size="8.4" text-anchor="end" font-weight="normal" fill="#222">40</text>
<line x1="301.10" y1="75.80" x2="305.30" y2="75.80" stroke="#333" stroke-width="0.9"/>
<text x="300.80" y="79.32" font-size="8.4" text-anchor="end" font-weight="normal" fill="#222">60</text>
<line x1="301.10" y1="60.27" x2="305.30" y2="60.27" stroke="#333" stroke-width="0.9"/>
<text x="300.80" y="63.79" font-size="8.4" text-anchor="end" font-weight="normal" fill="#222">80</text>
<line x1="301.10" y1="44.73" x2="305.30" y2="44.73" stroke="#333" stroke-width="0.9"/>
<text x="300.80" y="48.26" font-size="8.4" text-anchor="end" font-weight="normal" fill="#222">100</text>
<line x1="301.10" y1="29.20" x2="305.30" y2="29.20" stroke="#333" stroke-width="0.9"/>
<text x="300.80" y="32.72" font-size="8.4" text-anchor="end" font-weight="normal" fill="#222">120</text>
<line x1="305.30" y1="122.40" x2="449.80" y2="122.40" stroke="#333" stroke-width="0.9"/>
<line x1="316.50" y1="122.40" x2="316.50" y2="126.80" stroke="#333" stroke-width="0.9"/>
<text x="316.50" y="136.32" font-size="8.4" text-anchor="middle" font-weight="normal" fill="#222">0</text>
<line x1="333.79" y1="122.40" x2="333.79" y2="126.80" stroke="#333" stroke-width="0.9"/>
<text x="333.79" y="136.32" font-size="8.4" text-anchor="middle" font-weight="normal" fill="#222">1.25</text>
<line x1="351.08" y1="122.40" x2="351.08" y2="126.80" stroke="#333" stroke-width="0.9"/>
<text x="351.08" y="136.32" font-size="8.4" text-anchor="middle" font-weight="normal" fill="#222">2.5</text>
<line x1="368.37" y1="122.40" x2="368.37" y2="126.80" stroke="#333" stroke-width="0.9"/>
<text x="368.37" y="136.32" font-size="8.4" text-anchor="middle" font-weight="normal" fill="#222">5</text>
<line x1="385.66" y1="122.40" x2="385.66" y2="126.80" stroke="#333" stroke-width="0.9"/>
<text x="385.66" y="136.32" font-size="8.4" text-anchor="middle" font-weight="normal" fill="#222">10</text>
<line x1="402.95" y1="122.40" x2="402.95" y2="126.80" stroke="#333" stroke-width="0.9"/>
<text x="402.95" y="136.32" font-size="8.4" text-anchor="middle" font-weight="normal" fill="#222">20</text>
<line x1="420.24" y1="122.40" x2="420.24" y2="126.80" stroke="#333" stroke-width="0.9"/>
<text x="420.24" y="136.32" font-size="8.4" text-anchor="middle" font-weight="normal" fill="#222">40</text>
<line x1="437.53" y1="122.40" x2="437.53" y2="126.80" stroke="#333" stroke-width="0.9"/>
<text x="437.53" y="136.32" font-size="8.4" text-anchor="middle" font-weight="normal" fill="#222">80</text>
<text x="446.10" y="136.32" font-size="8.4" text-anchor="start" font-weight="normal" fill="#222">(μM)</text>
<polyline points="316.50,44.73 333.79,48.62 351.08,49.39 368.37,51.72 385.66,52.50 402.95,57.94 420.24,61.82 437.53,61.82" fill="none" stroke="#2424ff" stroke-width="1.0"/>
<line x1="316.50" y1="41.24" x2="316.50" y2="48.23" stroke="#2424ff" stroke-width="0.9"/>
<line x1="314.10" y1="41.24" x2="318.90" y2="41.24" stroke="#2424ff" stroke-width="0.9"/>
<line x1="314.10" y1="48.23" x2="318.90" y2="48.23" stroke="#2424ff" stroke-width="0.9"/>
<line x1="333.79" y1="46.05" x2="333.79" y2="51.18" stroke="#2424ff" stroke-width="0.9"/>
<line x1="331.39" y1="46.05" x2="336.19" y2="46.05" stroke="#2424ff" stroke-width="0.9"/>
<line x1="331.39" y1="51.18" x2="336.19" y2="51.18" stroke="#2424ff" stroke-width="0.9"/>
<line x1="351.08" y1="45.90" x2="351.08" y2="52.89" stroke="#2424ff" stroke-width="0.9"/>
<line x1="348.68" y1="45.90" x2="353.48" y2="45.90" stroke="#2424ff" stroke-width="0.9"/>
<line x1="348.68" y1="52.89" x2="353.48" y2="52.89" stroke="#2424ff" stroke-width="0.9"/>
<line x1="368.37" y1="47.06" x2="368.37" y2="56.38" stroke="#2424ff" stroke-width="0.9"/>
<line x1="365.97" y1="47.06" x2="370.77" y2="47.06" stroke="#2424ff" stroke-width="0.9"/>
<line x1="365.97" y1="56.38" x2="370.77" y2="56.38" stroke="#2424ff" stroke-width="0.9"/>
<line x1="385.66" y1="47.61" x2="385.66" y2="57.39" stroke="#2424ff" stroke-width="0.9"/>
<line x1="383.26" y1="47.61" x2="388.06" y2="47.61" stroke="#2424ff" stroke-width="0.9"/>
<line x1="383.26" y1="57.39" x2="388.06" y2="57.39" stroke="#2424ff" stroke-width="0.9"/>
<line x1="402.95" y1="54.44" x2="402.95" y2="61.43" stroke="#2424ff" stroke-width="0.9"/>
<line x1="400.55" y1="54.44" x2="405.35" y2="54.44" stroke="#2424ff" stroke-width="0.9"/>
<line x1="400.55" y1="61.43" x2="405.35" y2="61.43" stroke="#2424ff" stroke-width="0.9"/>
<line x1="420.24" y1="57.78" x2="420.24" y2="65.86" stroke="#2424ff" stroke-width="0.9"/>
<line x1="417.84" y1="57.78" x2="422.64" y2="57.78" stroke="#2424ff" stroke-width="0.9"/>
<line x1="417.84" y1="65.86" x2="422.64" y2="65.86" stroke="#2424ff" stroke-width="0.9"/>
<line x1="437.53" y1="55.61" x2="437.53" y2="68.03" stroke="#2424ff" stroke-width="0.9"/>
<line x1="435.13" y1="55.61" x2="439.93" y2="55.61" stroke="#2424ff" stroke-width="0.9"/>
<line x1="435.13" y1="68.03" x2="439.93" y2="68.03" stroke="#2424ff" stroke-width="0.9"/>
<circle cx="316.50" cy="44.73" r="2.4" fill="#2424ff" stroke="#2424ff" stroke-width="0"/>
<circle cx="333.79" cy="48.62" r="2.4" fill="#2424ff" stroke="#2424ff" stroke-width="0"/>
<circle cx="351.08" cy="49.39" r="2.4" fill="#2424ff" stroke="#2424ff" stroke-width="0"/>
<circle cx="368.37" cy="51.72" r="2.4" fill="#2424ff" stroke="#2424ff" stroke-width="0"/>
<circle cx="385.66" cy="52.50" r="2.4" fill="#2424ff" stroke="#2424ff" stroke-width="0"/>
<circle cx="402.95" cy="57.94" r="2.4" fill="#2424ff" stroke="#2424ff" stroke-width="0"/>
<circle cx="420.24" cy="61.82" r="2.4" fill="#2424ff" stroke="#2424ff" stroke-width="0"/>
<circle cx="437.53" cy="61.82" r="2.4" fill="#2424ff" stroke="#2424ff" stroke-width="0"/>
<polyline points="316.50,44.73 333.79,50.17 351.08,54.83 368.37,57.16 385.66,64.93 402.95,78.13 420.24,92.11 437.53,100.65" fill="none" stroke="#ff2222" stroke-width="1.0"/>
<line x1="316.50" y1="41.24" x2="316.50" y2="48.23" stroke="#ff2222" stroke-width="0.9"/>
<line x1="314.10" y1="41.24" x2="318.90" y2="41.24" stroke="#ff2222" stroke-width="0.9"/>
<line x1="314.10" y1="48.23" x2="318.90" y2="48.23" stroke="#ff2222" stroke-width="0.9"/>
<line x1="333.79" y1="47.84" x2="333.79" y2="52.50" stroke="#ff2222" stroke-width="0.9"/>
<line x1="331.39" y1="47.84" x2="336.19" y2="47.84" stroke="#ff2222" stroke-width="0.9"/>
<line x1="331.39" y1="52.50" x2="336.19" y2="52.50" stroke="#ff2222" stroke-width="0.9"/>
<line x1="351.08" y1="51.96" x2="351.08" y2="57.70" stroke="#ff2222" stroke-width="0.9"/>
<line x1="348.68" y1="51.96" x2="353.48" y2="51.96" stroke="#ff2222" stroke-width="0.9"/>
<line x1="348.68" y1="57.70" x2="353.48" y2="57.70" stroke="#ff2222" stroke-width="0.9"/>
<line x1="368.37" y1="53.67" x2="368.37" y2="60.66" stroke="#ff2222" stroke-width="0.9"/>
<line x1="365.97" y1="53.67" x2="370.77" y2="53.67" stroke="#ff2222" stroke-width="0.9"/>
<line x1="365.97" y1="60.66" x2="370.77" y2="60.66" stroke="#ff2222" stroke-width="0.9"/>
<line x1="385.66" y1="61.98" x2="385.66" y2="67.88" stroke="#ff2222" stroke-width="0.9"/>
<line x1="383.26" y1="61.98" x2="388.06" y2="61.98" stroke="#ff2222" stroke-width="0.9"/>
<line x1="383.26" y1="67.88" x2="388.06" y2="67.88" stroke="#ff2222" stroke-width="0.9"/>
<line x1="402.95" y1="73.94" x2="402.95" y2="82.32" stroke="#ff2222" stroke-width="0.9"/>
<line x1="400.55" y1="73.94" x2="405.35" y2="73.94" stroke="#ff2222" stroke-width="0.9"/>
<line x1="400.55" y1="82.32" x2="405.35" y2="82.32" stroke="#ff2222" stroke-width="0.9"/>
<line x1="420.24" y1="88.07" x2="420.24" y2="96.15" stroke="#ff2222" stroke-width="0.9"/>
<line x1="417.84" y1="88.07" x2="422.64" y2="88.07" stroke="#ff2222" stroke-width="0.9"/>
<line x1="417.84" y1="96.15" x2="422.64" y2="96.15" stroke="#ff2222" stroke-width="0.9"/>
<line x1="437.53" y1="96.93" x2="437.53" y2="104.38" stroke="#ff2222" stroke-width="0.9"/>
<line x1="435.13" y1="96.93" x2="439.93" y2="96.93" stroke="#ff2222" stroke-width="0.9"/>
<line x1="435.13" y1="104.38" x2="439.93" y2="104.38" stroke="#ff2222" stroke-width="0.9"/>
<rect x="314.10" y="42.33" width="4.8" height="4.8" fill="#ff2222" stroke="#ff2222" stroke-width="0"/>
<rect x="331.39" y="47.77" width="4.8" height="4.8" fill="#ff2222" stroke="#ff2222" stroke-width="0"/>
<rect x="348.68" y="52.43" width="4.8" height="4.8" fill="#ff2222" stroke="#ff2222" stroke-width="0"/>
<rect x="365.97" y="54.76" width="4.8" height="4.8" fill="#ff2222" stroke="#ff2222" stroke-width="0"/>
<rect x="383.26" y="62.53" width="4.8" height="4.8" fill="#ff2222" stroke="#ff2222" stroke-width="0"/>
<rect x="400.55" y="75.73" width="4.8" height="4.8" fill="#ff2222" stroke="#ff2222" stroke-width="0"/>
<rect x="417.84" y="89.71" width="4.8" height="4.8" fill="#ff2222" stroke="#ff2222" stroke-width="0"/>
<rect x="435.13" y="98.25" width="4.8" height="4.8" fill="#ff2222" stroke="#ff2222" stroke-width="0"/>
<text x="368.37" y="68.05" font-size="8.3" text-anchor="middle" fill="#222">*</text>
<text x="385.66" y="76.45" font-size="8.3" text-anchor="middle" fill="#222">***</text>
<text x="402.95" y="90.85" font-size="8.3" text-anchor="middle" fill="#222">***</text>
<text x="420.24" y="106.25" font-size="8.3" text-anchor="middle" fill="#222">***</text>
<text x="437.53" y="113.25" font-size="8.3" text-anchor="middle" fill="#222">***</text>
<text x="310.00" y="36.10" font-size="10" text-anchor="start" font-weight="normal" fill="#000">THP-1 treated with Erastin</text>
<text x="280.80" y="89.71" font-size="10.3" text-anchor="middle" fill="#111" transform="rotate(-90 280.80 86.00)">Cell viability (%)</text>
<line x1="494.60" y1="6.70" x2="505.00" y2="6.70" stroke="#2424ff" stroke-width="1.0"/>
<circle cx="499.80" cy="6.70" r="1.9" fill="#2424ff" stroke="#2424ff" stroke-width="0"/>
<text x="511.40" y="9.76" font-size="8.5" text-anchor="start" font-weight="normal" fill="#000">sgNC</text>
<line x1="494.60" y1="16.80" x2="505.00" y2="16.80" stroke="#ff2222" stroke-width="1.0"/>
<rect x="497.90" y="14.90" width="3.8" height="3.8" fill="#ff2222" stroke="#ff2222" stroke-width="0"/>
<text x="511.40" y="19.86" font-size="8.5" text-anchor="start" font-weight="normal" fill="#000">sgTHRAP3</text>
<line x1="487.40" y1="122.90" x2="487.40" y2="29.20" stroke="#333" stroke-width="0.9"/>
<line x1="483.20" y1="122.40" x2="487.40" y2="122.40" stroke="#333" stroke-width="0.9"/>
<text x="482.90" y="125.92" font-size="8.4" text-anchor="end" font-weight="normal" fill="#222">0</text>
<line x1="483.20" y1="106.87" x2="487.40" y2="106.87" stroke="#333" stroke-width="0.9"/>
<text x="482.90" y="110.39" font-size="8.4" text-anchor="end" font-weight="normal" fill="#222">20</text>
<line x1="483.20" y1="91.33" x2="487.40" y2="91.33" stroke="#333" stroke-width="0.9"/>
<text x="482.90" y="94.86" font-size="8.4" text-anchor="end" font-weight="normal" fill="#222">40</text>
<line x1="483.20" y1="75.80" x2="487.40" y2="75.80" stroke="#333" stroke-width="0.9"/>
<text x="482.90" y="79.32" font-size="8.4" text-anchor="end" font-weight="normal" fill="#222">60</text>
<line x1="483.20" y1="60.27" x2="487.40" y2="60.27" stroke="#333" stroke-width="0.9"/>
<text x="482.90" y="63.79" font-size="8.4" text-anchor="end" font-weight="normal" fill="#222">80</text>
<line x1="483.20" y1="44.73" x2="487.40" y2="44.73" stroke="#333" stroke-width="0.9"/>
<text x="482.90" y="48.26" font-size="8.4" text-anchor="end" font-weight="normal" fill="#222">100</text>
<line x1="483.20" y1="29.20" x2="487.40" y2="29.20" stroke="#333" stroke-width="0.9"/>
<text x="482.90" y="32.72" font-size="8.4" text-anchor="end" font-weight="normal" fill="#222">120</text>
<line x1="487.40" y1="122.40" x2="631.70" y2="122.40" stroke="#333" stroke-width="0.9"/>
<line x1="498.50" y1="122.40" x2="498.50" y2="126.80" stroke="#333" stroke-width="0.9"/>
<text x="498.50" y="136.32" font-size="8.4" text-anchor="middle" font-weight="normal" fill="#222">0</text>
<line x1="515.77" y1="122.40" x2="515.77" y2="126.80" stroke="#333" stroke-width="0.9"/>
<text x="515.77" y="136.32" font-size="8.4" text-anchor="middle" font-weight="normal" fill="#222">0.25</text>
<line x1="533.04" y1="122.40" x2="533.04" y2="126.80" stroke="#333" stroke-width="0.9"/>
<text x="533.04" y="136.32" font-size="8.4" text-anchor="middle" font-weight="normal" fill="#222">0.5</text>
<line x1="550.31" y1="122.40" x2="550.31" y2="126.80" stroke="#333" stroke-width="0.9"/>
<text x="550.31" y="136.32" font-size="8.4" text-anchor="middle" font-weight="normal" fill="#222">1</text>
<line x1="567.58" y1="122.40" x2="567.58" y2="126.80" stroke="#333" stroke-width="0.9"/>
<text x="567.58" y="136.32" font-size="8.4" text-anchor="middle" font-weight="normal" fill="#222">2</text>
<line x1="584.85" y1="122.40" x2="584.85" y2="126.80" stroke="#333" stroke-width="0.9"/>
<text x="584.85" y="136.32" font-size="8.4" text-anchor="middle" font-weight="normal" fill="#222">4</text>
<line x1="602.12" y1="122.40" x2="602.12" y2="126.80" stroke="#333" stroke-width="0.9"/>
<text x="602.12" y="136.32" font-size="8.4" text-anchor="middle" font-weight="normal" fill="#222">8</text>
<line x1="619.39" y1="122.40" x2="619.39" y2="126.80" stroke="#333" stroke-width="0.9"/>
<text x="619.39" y="136.32" font-size="8.4" text-anchor="middle" font-weight="normal" fill="#222">16</text>
<text x="626.30" y="136.32" font-size="8.4" text-anchor="start" font-weight="normal" fill="#222">(μM)</text>
<polyline points="498.50,44.73 515.77,47.06 533.04,48.62 550.31,48.62 567.58,48.62 584.85,51.72 602.12,54.05 619.39,57.16" fill="none" stroke="#2424ff" stroke-width="1.0"/>
<line x1="498.50" y1="41.63" x2="498.50" y2="47.84" stroke="#2424ff" stroke-width="0.9"/>
<line x1="496.10" y1="41.63" x2="500.90" y2="41.63" stroke="#2424ff" stroke-width="0.9"/>
<line x1="496.10" y1="47.84" x2="500.90" y2="47.84" stroke="#2424ff" stroke-width="0.9"/>
<line x1="515.77" y1="44.34" x2="515.77" y2="49.78" stroke="#2424ff" stroke-width="0.9"/>
<line x1="513.37" y1="44.34" x2="518.17" y2="44.34" stroke="#2424ff" stroke-width="0.9"/>
<line x1="513.37" y1="49.78" x2="518.17" y2="49.78" stroke="#2424ff" stroke-width="0.9"/>
<line x1="533.04" y1="43.96" x2="533.04" y2="53.28" stroke="#2424ff" stroke-width="0.9"/>
<line x1="530.64" y1="43.96" x2="535.44" y2="43.96" stroke="#2424ff" stroke-width="0.9"/>
<line x1="530.64" y1="53.28" x2="535.44" y2="53.28" stroke="#2424ff" stroke-width="0.9"/>
<line x1="550.31" y1="44.73" x2="550.31" y2="52.50" stroke="#2424ff" stroke-width="0.9"/>
<line x1="547.91" y1="44.73" x2="552.71" y2="44.73" stroke="#2424ff" stroke-width="0.9"/>
<line x1="547.91" y1="52.50" x2="552.71" y2="52.50" stroke="#2424ff" stroke-width="0.9"/>
<line x1="567.58" y1="44.73" x2="567.58" y2="52.50" stroke="#2424ff" stroke-width="0.9"/>
<line x1="565.18" y1="44.73" x2="569.98" y2="44.73" stroke="#2424ff" stroke-width="0.9"/>
<line x1="565.18" y1="52.50" x2="569.98" y2="52.50" stroke="#2424ff" stroke-width="0.9"/>
<line x1="584.85" y1="47.06" x2="584.85" y2="56.38" stroke="#2424ff" stroke-width="0.9"/>
<line x1="582.45" y1="47.06" x2="587.25" y2="47.06" stroke="#2424ff" stroke-width="0.9"/>
<line x1="582.45" y1="56.38" x2="587.25" y2="56.38" stroke="#2424ff" stroke-width="0.9"/>
<line x1="602.12" y1="49.01" x2="602.12" y2="59.10" stroke="#2424ff" stroke-width="0.9"/>
<line x1="599.72" y1="49.01" x2="604.52" y2="49.01" stroke="#2424ff" stroke-width="0.9"/>
<line x1="599.72" y1="59.10" x2="604.52" y2="59.10" stroke="#2424ff" stroke-width="0.9"/>
<line x1="619.39" y1="53.28" x2="619.39" y2="61.04" stroke="#2424ff" stroke-width="0.9"/>
<line x1="616.99" y1="53.28" x2="621.79" y2="53.28" stroke="#2424ff" stroke-width="0.9"/>
<line x1="616.99" y1="61.04" x2="621.79" y2="61.04" stroke="#2424ff" stroke-width="0.9"/>
<circle cx="498.50" cy="44.73" r="2.4" fill="#2424ff" stroke="#2424ff" stroke-width="0"/>
<circle cx="515.77" cy="47.06" r="2.4" fill="#2424ff" stroke="#2424ff" stroke-width="0"/>
<circle cx="533.04" cy="48.62" r="2.4" fill="#2424ff" stroke="#2424ff" stroke-width="0"/>
<circle cx="550.31" cy="48.62" r="2.4" fill="#2424ff" stroke="#2424ff" stroke-width="0"/>
<circle cx="567.58" cy="48.62" r="2.4" fill="#2424ff" stroke="#2424ff" stroke-width="0"/>
<circle cx="584.85" cy="51.72" r="2.4" fill="#2424ff" stroke="#2424ff" stroke-width="0"/>
<circle cx="602.12" cy="54.05" r="2.4" fill="#2424ff" stroke="#2424ff" stroke-width="0"/>
<circle cx="619.39" cy="57.16" r="2.4" fill="#2424ff" stroke="#2424ff" stroke-width="0"/>
<polyline points="498.50,44.73 515.77,47.84 533.04,52.50 550.31,58.71 567.58,65.70 584.85,80.46 602.12,92.89 619.39,96.77" fill="none" stroke="#ff2222" stroke-width="1.0"/>
<line x1="498.50" y1="40.85" x2="498.50" y2="48.62" stroke="#ff2222" stroke-width="0.9"/>
<line x1="496.10" y1="40.85" x2="500.90" y2="40.85" stroke="#ff2222" stroke-width="0.9"/>
<line x1="496.10" y1="48.62" x2="500.90" y2="48.62" stroke="#ff2222" stroke-width="0.9"/>
<line x1="515.77" y1="45.12" x2="515.77" y2="50.56" stroke="#ff2222" stroke-width="0.9"/>
<line x1="513.37" y1="45.12" x2="518.17" y2="45.12" stroke="#ff2222" stroke-width="0.9"/>
<line x1="513.37" y1="50.56" x2="518.17" y2="50.56" stroke="#ff2222" stroke-width="0.9"/>
<line x1="533.04" y1="47.84" x2="533.04" y2="57.16" stroke="#ff2222" stroke-width="0.9"/>
<line x1="530.64" y1="47.84" x2="535.44" y2="47.84" stroke="#ff2222" stroke-width="0.9"/>
<line x1="530.64" y1="57.16" x2="535.44" y2="57.16" stroke="#ff2222" stroke-width="0.9"/>
<line x1="550.31" y1="54.83" x2="550.31" y2="62.60" stroke="#ff2222" stroke-width="0.9"/>
<line x1="547.91" y1="54.83" x2="552.71" y2="54.83" stroke="#ff2222" stroke-width="0.9"/>
<line x1="547.91" y1="62.60" x2="552.71" y2="62.60" stroke="#ff2222" stroke-width="0.9"/>
<line x1="567.58" y1="62.21" x2="567.58" y2="69.20" stroke="#ff2222" stroke-width="0.9"/>
<line x1="565.18" y1="62.21" x2="569.98" y2="62.21" stroke="#ff2222" stroke-width="0.9"/>
<line x1="565.18" y1="69.20" x2="569.98" y2="69.20" stroke="#ff2222" stroke-width="0.9"/>
<line x1="584.85" y1="76.58" x2="584.85" y2="84.34" stroke="#ff2222" stroke-width="0.9"/>
<line x1="582.45" y1="76.58" x2="587.25" y2="76.58" stroke="#ff2222" stroke-width="0.9"/>
<line x1="582.45" y1="84.34" x2="587.25" y2="84.34" stroke="#ff2222" stroke-width="0.9"/>
<line x1="602.12" y1="89.39" x2="602.12" y2="96.38" stroke="#ff2222" stroke-width="0.9"/>
<line x1="599.72" y1="89.39" x2="604.52" y2="89.39" stroke="#ff2222" stroke-width="0.9"/>
<line x1="599.72" y1="96.38" x2="604.52" y2="96.38" stroke="#ff2222" stroke-width="0.9"/>
<line x1="619.39" y1="92.11" x2="619.39" y2="101.43" stroke="#ff2222" stroke-width="0.9"/>
<line x1="616.99" y1="92.11" x2="621.79" y2="92.11" stroke="#ff2222" stroke-width="0.9"/>
<line x1="616.99" y1="101.43" x2="621.79" y2="101.43" stroke="#ff2222" stroke-width="0.9"/>
<rect x="496.10" y="42.33" width="4.8" height="4.8" fill="#ff2222" stroke="#ff2222" stroke-width="0"/>
<rect x="513.37" y="45.44" width="4.8" height="4.8" fill="#ff2222" stroke="#ff2222" stroke-width="0"/>
<rect x="530.64" y="50.10" width="4.8" height="4.8" fill="#ff2222" stroke="#ff2222" stroke-width="0"/>
<rect x="547.91" y="56.31" width="4.8" height="4.8" fill="#ff2222" stroke="#ff2222" stroke-width="0"/>
<rect x="565.18" y="63.30" width="4.8" height="4.8" fill="#ff2222" stroke="#ff2222" stroke-width="0"/>
<rect x="582.45" y="78.06" width="4.8" height="4.8" fill="#ff2222" stroke="#ff2222" stroke-width="0"/>
<rect x="599.72" y="90.49" width="4.8" height="4.8" fill="#ff2222" stroke="#ff2222" stroke-width="0"/>
<rect x="616.99" y="94.37" width="4.8" height="4.8" fill="#ff2222" stroke="#ff2222" stroke-width="0"/>
<text x="550.31" y="69.65" font-size="8.3" text-anchor="middle" fill="#222">***</text>
<text x="567.58" y="78.65" font-size="8.3" text-anchor="middle" fill="#222">***</text>
<text x="584.85" y="94.15" font-size="8.3" text-anchor="middle" fill="#222">***</text>
<text x="602.12" y="107.55" font-size="8.3" text-anchor="middle" fill="#222">***</text>
<text x="619.39" y="110.45" font-size="8.3" text-anchor="middle" fill="#222">***</text>
<text x="495.00" y="34.60" font-size="10" text-anchor="start" font-weight="normal" fill="#000">THP-1 treated with RSL3</text>
<text x="462.90" y="83.91" font-size="10.3" text-anchor="middle" fill="#111" transform="rotate(-90 462.90 80.20)">Cell viability (%)</text>
<line x1="308.00" y1="156.00" x2="318.70" y2="156.00" stroke="#2424ff" stroke-width="1.0"/>
<circle cx="313.35" cy="156.00" r="1.9" fill="#2424ff" stroke="#2424ff" stroke-width="0"/>
<text x="324.00" y="159.06" font-size="8.5" text-anchor="start" font-weight="normal" fill="#000">Vector</text>
<line x1="308.00" y1="167.30" x2="318.70" y2="167.30" stroke="#ff2222" stroke-width="1.0"/>
<rect x="311.45" y="165.40" width="3.8" height="3.8" fill="#ff2222" stroke="#ff2222" stroke-width="0"/>
<text x="324.00" y="170.36" font-size="8.5" text-anchor="start" font-weight="normal" fill="#000">THRAP3</text>
<line x1="303.50" y1="274.60" x2="303.50" y2="181.10" stroke="#333" stroke-width="0.9"/>
<line x1="299.30" y1="274.10" x2="303.50" y2="274.10" stroke="#333" stroke-width="0.9"/>
<text x="299.00" y="277.62" font-size="8.4" text-anchor="end" font-weight="normal" fill="#222">0</text>
<line x1="299.30" y1="258.60" x2="303.50" y2="258.60" stroke="#333" stroke-width="0.9"/>
<text x="299.00" y="262.12" font-size="8.4" text-anchor="end" font-weight="normal" fill="#222">20</text>
<line x1="299.30" y1="243.10" x2="303.50" y2="243.10" stroke="#333" stroke-width="0.9"/>
<text x="299.00" y="246.62" font-size="8.4" text-anchor="end" font-weight="normal" fill="#222">40</text>
<line x1="299.30" y1="227.60" x2="303.50" y2="227.60" stroke="#333" stroke-width="0.9"/>
<text x="299.00" y="231.12" font-size="8.4" text-anchor="end" font-weight="normal" fill="#222">60</text>
<line x1="299.30" y1="212.10" x2="303.50" y2="212.10" stroke="#333" stroke-width="0.9"/>
<text x="299.00" y="215.62" font-size="8.4" text-anchor="end" font-weight="normal" fill="#222">80</text>
<line x1="299.30" y1="196.60" x2="303.50" y2="196.60" stroke="#333" stroke-width="0.9"/>
<text x="299.00" y="200.12" font-size="8.4" text-anchor="end" font-weight="normal" fill="#222">100</text>
<line x1="299.30" y1="181.10" x2="303.50" y2="181.10" stroke="#333" stroke-width="0.9"/>
<text x="299.00" y="184.62" font-size="8.4" text-anchor="end" font-weight="normal" fill="#222">120</text>
<line x1="303.50" y1="274.10" x2="448.50" y2="274.10" stroke="#333" stroke-width="0.9"/>
<line x1="315.40" y1="274.10" x2="315.40" y2="278.50" stroke="#333" stroke-width="0.9"/>
<text x="315.40" y="288.02" font-size="8.4" text-anchor="middle" font-weight="normal" fill="#222">0</text>
<line x1="332.67" y1="274.10" x2="332.67" y2="278.50" stroke="#333" stroke-width="0.9"/>
<text x="332.67" y="288.02" font-size="8.4" text-anchor="middle" font-weight="normal" fill="#222">1.25</text>
<line x1="349.94" y1="274.10" x2="349.94" y2="278.50" stroke="#333" stroke-width="0.9"/>
<text x="349.94" y="288.02" font-size="8.4" text-anchor="middle" font-weight="normal" fill="#222">2.5</text>
<line x1="367.21" y1="274.10" x2="367.21" y2="278.50" stroke="#333" stroke-width="0.9"/>
<text x="367.21" y="288.02" font-size="8.4" text-anchor="middle" font-weight="normal" fill="#222">5</text>
<line x1="384.48" y1="274.10" x2="384.48" y2="278.50" stroke="#333" stroke-width="0.9"/>
<text x="384.48" y="288.02" font-size="8.4" text-anchor="middle" font-weight="normal" fill="#222">10</text>
<line x1="401.75" y1="274.10" x2="401.75" y2="278.50" stroke="#333" stroke-width="0.9"/>
<text x="401.75" y="288.02" font-size="8.4" text-anchor="middle" font-weight="normal" fill="#222">20</text>
<line x1="419.02" y1="274.10" x2="419.02" y2="278.50" stroke="#333" stroke-width="0.9"/>
<text x="419.02" y="288.02" font-size="8.4" text-anchor="middle" font-weight="normal" fill="#222">40</text>
<line x1="436.29" y1="274.10" x2="436.29" y2="278.50" stroke="#333" stroke-width="0.9"/>
<text x="436.29" y="288.02" font-size="8.4" text-anchor="middle" font-weight="normal" fill="#222">80</text>
<text x="445.90" y="288.02" font-size="8.4" text-anchor="start" font-weight="normal" fill="#222">(μM)</text>
<polyline points="315.40,196.60 332.67,213.65 349.94,228.38 367.21,236.12 384.48,246.98 401.75,256.28 419.02,257.83 436.29,262.48" fill="none" stroke="#2424ff" stroke-width="1.0"/>
<line x1="315.40" y1="193.50" x2="315.40" y2="199.70" stroke="#2424ff" stroke-width="0.9"/>
<line x1="313.00" y1="193.50" x2="317.80" y2="193.50" stroke="#2424ff" stroke-width="0.9"/>
<line x1="313.00" y1="199.70" x2="317.80" y2="199.70" stroke="#2424ff" stroke-width="0.9"/>
<line x1="332.67" y1="209.00" x2="332.67" y2="218.30" stroke="#2424ff" stroke-width="0.9"/>
<line x1="330.27" y1="209.00" x2="335.07" y2="209.00" stroke="#2424ff" stroke-width="0.9"/>
<line x1="330.27" y1="218.30" x2="335.07" y2="218.30" stroke="#2424ff" stroke-width="0.9"/>
<line x1="349.94" y1="224.50" x2="349.94" y2="232.25" stroke="#2424ff" stroke-width="0.9"/>
<line x1="347.54" y1="224.50" x2="352.34" y2="224.50" stroke="#2424ff" stroke-width="0.9"/>
<line x1="347.54" y1="232.25" x2="352.34" y2="232.25" stroke="#2424ff" stroke-width="0.9"/>
<line x1="367.21" y1="232.64" x2="367.21" y2="239.61" stroke="#2424ff" stroke-width="0.9"/>
<line x1="364.81" y1="232.64" x2="369.61" y2="232.64" stroke="#2424ff" stroke-width="0.9"/>
<line x1="364.81" y1="239.61" x2="369.61" y2="239.61" stroke="#2424ff" stroke-width="0.9"/>
<line x1="384.48" y1="242.71" x2="384.48" y2="251.24" stroke="#2424ff" stroke-width="0.9"/>
<line x1="382.08" y1="242.71" x2="386.88" y2="242.71" stroke="#2424ff" stroke-width="0.9"/>
<line x1="382.08" y1="251.24" x2="386.88" y2="251.24" stroke="#2424ff" stroke-width="0.9"/>
<line x1="401.75" y1="253.56" x2="401.75" y2="258.99" stroke="#2424ff" stroke-width="0.9"/>
<line x1="399.35" y1="253.56" x2="404.15" y2="253.56" stroke="#2424ff" stroke-width="0.9"/>
<line x1="399.35" y1="258.99" x2="404.15" y2="258.99" stroke="#2424ff" stroke-width="0.9"/>
<line x1="419.02" y1="253.95" x2="419.02" y2="261.70" stroke="#2424ff" stroke-width="0.9"/>
<line x1="416.62" y1="253.95" x2="421.42" y2="253.95" stroke="#2424ff" stroke-width="0.9"/>
<line x1="416.62" y1="261.70" x2="421.42" y2="261.70" stroke="#2424ff" stroke-width="0.9"/>
<line x1="436.29" y1="258.60" x2="436.29" y2="266.35" stroke="#2424ff" stroke-width="0.9"/>
<line x1="433.89" y1="258.60" x2="438.69" y2="258.60" stroke="#2424ff" stroke-width="0.9"/>
<line x1="433.89" y1="266.35" x2="438.69" y2="266.35" stroke="#2424ff" stroke-width="0.9"/>
<circle cx="315.40" cy="196.60" r="2.4" fill="#2424ff" stroke="#2424ff" stroke-width="0"/>
<circle cx="332.67" cy="213.65" r="2.4" fill="#2424ff" stroke="#2424ff" stroke-width="0"/>
<circle cx="349.94" cy="228.38" r="2.4" fill="#2424ff" stroke="#2424ff" stroke-width="0"/>
<circle cx="367.21" cy="236.12" r="2.4" fill="#2424ff" stroke="#2424ff" stroke-width="0"/>
<circle cx="384.48" cy="246.98" r="2.4" fill="#2424ff" stroke="#2424ff" stroke-width="0"/>
<circle cx="401.75" cy="256.28" r="2.4" fill="#2424ff" stroke="#2424ff" stroke-width="0"/>
<circle cx="419.02" cy="257.83" r="2.4" fill="#2424ff" stroke="#2424ff" stroke-width="0"/>
<circle cx="436.29" cy="262.48" r="2.4" fill="#2424ff" stroke="#2424ff" stroke-width="0"/>
<polyline points="315.40,196.60 332.67,198.00 349.94,204.12 367.21,209.39 384.48,215.66 401.75,219.31 419.02,223.11 436.29,227.13" fill="none" stroke="#ff2222" stroke-width="1.0"/>
<line x1="315.40" y1="193.50" x2="315.40" y2="199.70" stroke="#ff2222" stroke-width="0.9"/>
<line x1="313.00" y1="193.50" x2="317.80" y2="193.50" stroke="#ff2222" stroke-width="0.9"/>
<line x1="313.00" y1="199.70" x2="317.80" y2="199.70" stroke="#ff2222" stroke-width="0.9"/>
<line x1="332.67" y1="194.12" x2="332.67" y2="201.87" stroke="#ff2222" stroke-width="0.9"/>
<line x1="330.27" y1="194.12" x2="335.07" y2="194.12" stroke="#ff2222" stroke-width="0.9"/>
<line x1="330.27" y1="201.87" x2="335.07" y2="201.87" stroke="#ff2222" stroke-width="0.9"/>
<line x1="349.94" y1="199.47" x2="349.94" y2="208.77" stroke="#ff2222" stroke-width="0.9"/>
<line x1="347.54" y1="199.47" x2="352.34" y2="199.47" stroke="#ff2222" stroke-width="0.9"/>
<line x1="347.54" y1="208.77" x2="352.34" y2="208.77" stroke="#ff2222" stroke-width="0.9"/>
<line x1="367.21" y1="205.51" x2="367.21" y2="213.26" stroke="#ff2222" stroke-width="0.9"/>
<line x1="364.81" y1="205.51" x2="369.61" y2="205.51" stroke="#ff2222" stroke-width="0.9"/>
<line x1="364.81" y1="213.26" x2="369.61" y2="213.26" stroke="#ff2222" stroke-width="0.9"/>
<line x1="384.48" y1="212.18" x2="384.48" y2="219.15" stroke="#ff2222" stroke-width="0.9"/>
<line x1="382.08" y1="212.18" x2="386.88" y2="212.18" stroke="#ff2222" stroke-width="0.9"/>
<line x1="382.08" y1="219.15" x2="386.88" y2="219.15" stroke="#ff2222" stroke-width="0.9"/>
<line x1="401.75" y1="215.43" x2="401.75" y2="223.18" stroke="#ff2222" stroke-width="0.9"/>
<line x1="399.35" y1="215.43" x2="404.15" y2="215.43" stroke="#ff2222" stroke-width="0.9"/>
<line x1="399.35" y1="223.18" x2="404.15" y2="223.18" stroke="#ff2222" stroke-width="0.9"/>
<line x1="419.02" y1="220.00" x2="419.02" y2="226.21" stroke="#ff2222" stroke-width="0.9"/>
<line x1="416.62" y1="220.00" x2="421.42" y2="220.00" stroke="#ff2222" stroke-width="0.9"/>
<line x1="416.62" y1="226.21" x2="421.42" y2="226.21" stroke="#ff2222" stroke-width="0.9"/>
<line x1="436.29" y1="223.26" x2="436.29" y2="231.01" stroke="#ff2222" stroke-width="0.9"/>
<line x1="433.89" y1="223.26" x2="438.69" y2="223.26" stroke="#ff2222" stroke-width="0.9"/>
<line x1="433.89" y1="231.01" x2="438.69" y2="231.01" stroke="#ff2222" stroke-width="0.9"/>
<rect x="313.00" y="194.20" width="4.8" height="4.8" fill="#ff2222" stroke="#ff2222" stroke-width="0"/>
<rect x="330.27" y="195.59" width="4.8" height="4.8" fill="#ff2222" stroke="#ff2222" stroke-width="0"/>
<rect x="347.54" y="201.72" width="4.8" height="4.8" fill="#ff2222" stroke="#ff2222" stroke-width="0"/>
<rect x="364.81" y="206.99" width="4.8" height="4.8" fill="#ff2222" stroke="#ff2222" stroke-width="0"/>
<rect x="382.08" y="213.26" width="4.8" height="4.8" fill="#ff2222" stroke="#ff2222" stroke-width="0"/>
<rect x="399.35" y="216.91" width="4.8" height="4.8" fill="#ff2222" stroke="#ff2222" stroke-width="0"/>
<rect x="416.62" y="220.71" width="4.8" height="4.8" fill="#ff2222" stroke="#ff2222" stroke-width="0"/>
<rect x="433.89" y="224.73" width="4.8" height="4.8" fill="#ff2222" stroke="#ff2222" stroke-width="0"/>
<text x="332.67" y="194.05" font-size="8.3" text-anchor="middle" fill="#222">***</text>
<text x="349.94" y="200.25" font-size="8.3" text-anchor="middle" fill="#222">***</text>
<text x="367.21" y="205.05" font-size="8.3" text-anchor="middle" fill="#222">***</text>
<text x="384.48" y="209.35" font-size="8.3" text-anchor="middle" fill="#222">***</text>
<text x="401.75" y="212.25" font-size="8.3" text-anchor="middle" fill="#222">***</text>
<text x="419.02" y="220.75" font-size="8.3" text-anchor="middle" fill="#222">***</text>
<text x="436.29" y="224.35" font-size="8.3" text-anchor="middle" fill="#222">***</text>
<text x="311.30" y="181.60" font-size="10" text-anchor="start" font-weight="normal" fill="#000">HL-60 treated with Erastin</text>
<text x="280.80" y="227.51" font-size="10.3" text-anchor="middle" fill="#111" transform="rotate(-90 280.80 223.80)">Cell viability (%)</text>
<line x1="498.60" y1="155.80" x2="509.40" y2="155.80" stroke="#2424ff" stroke-width="1.0"/>
<circle cx="504.00" cy="155.80" r="1.9" fill="#2424ff" stroke="#2424ff" stroke-width="0"/>
<text x="515.40" y="158.86" font-size="8.5" text-anchor="start" font-weight="normal" fill="#000">Vector</text>
<line x1="498.60" y1="166.20" x2="509.40" y2="166.20" stroke="#ff2222" stroke-width="1.0"/>
<rect x="502.10" y="164.30" width="3.8" height="3.8" fill="#ff2222" stroke="#ff2222" stroke-width="0"/>
<text x="515.40" y="169.26" font-size="8.5" text-anchor="start" font-weight="normal" fill="#000">THRAP3</text>
<line x1="487.40" y1="274.60" x2="487.40" y2="181.10" stroke="#333" stroke-width="0.9"/>
<line x1="483.20" y1="274.10" x2="487.40" y2="274.10" stroke="#333" stroke-width="0.9"/>
<text x="482.90" y="277.62" font-size="8.4" text-anchor="end" font-weight="normal" fill="#222">0</text>
<line x1="483.20" y1="258.60" x2="487.40" y2="258.60" stroke="#333" stroke-width="0.9"/>
<text x="482.90" y="262.12" font-size="8.4" text-anchor="end" font-weight="normal" fill="#222">20</text>
<line x1="483.20" y1="243.10" x2="487.40" y2="243.10" stroke="#333" stroke-width="0.9"/>
<text x="482.90" y="246.62" font-size="8.4" text-anchor="end" font-weight="normal" fill="#222">40</text>
<line x1="483.20" y1="227.60" x2="487.40" y2="227.60" stroke="#333" stroke-width="0.9"/>
<text x="482.90" y="231.12" font-size="8.4" text-anchor="end" font-weight="normal" fill="#222">60</text>
<line x1="483.20" y1="212.10" x2="487.40" y2="212.10" stroke="#333" stroke-width="0.9"/>
<text x="482.90" y="215.62" font-size="8.4" text-anchor="end" font-weight="normal" fill="#222">80</text>
<line x1="483.20" y1="196.60" x2="487.40" y2="196.60" stroke="#333" stroke-width="0.9"/>
<text x="482.90" y="200.12" font-size="8.4" text-anchor="end" font-weight="normal" fill="#222">100</text>
<line x1="483.20" y1="181.10" x2="487.40" y2="181.10" stroke="#333" stroke-width="0.9"/>
<text x="482.90" y="184.62" font-size="8.4" text-anchor="end" font-weight="normal" fill="#222">120</text>
<line x1="487.40" y1="274.10" x2="631.70" y2="274.10" stroke="#333" stroke-width="0.9"/>
<line x1="498.60" y1="274.10" x2="498.60" y2="278.50" stroke="#333" stroke-width="0.9"/>
<text x="498.60" y="288.02" font-size="8.4" text-anchor="middle" font-weight="normal" fill="#222">0</text>
<line x1="515.87" y1="274.10" x2="515.87" y2="278.50" stroke="#333" stroke-width="0.9"/>
<text x="515.87" y="288.02" font-size="8.4" text-anchor="middle" font-weight="normal" fill="#222">0.25</text>
<line x1="533.14" y1="274.10" x2="533.14" y2="278.50" stroke="#333" stroke-width="0.9"/>
<text x="533.14" y="288.02" font-size="8.4" text-anchor="middle" font-weight="normal" fill="#222">0.5</text>
<line x1="550.41" y1="274.10" x2="550.41" y2="278.50" stroke="#333" stroke-width="0.9"/>
<text x="550.41" y="288.02" font-size="8.4" text-anchor="middle" font-weight="normal" fill="#222">1</text>
<line x1="567.68" y1="274.10" x2="567.68" y2="278.50" stroke="#333" stroke-width="0.9"/>
<text x="567.68" y="288.02" font-size="8.4" text-anchor="middle" font-weight="normal" fill="#222">2</text>
<line x1="584.95" y1="274.10" x2="584.95" y2="278.50" stroke="#333" stroke-width="0.9"/>
<text x="584.95" y="288.02" font-size="8.4" text-anchor="middle" font-weight="normal" fill="#222">4</text>
<line x1="602.22" y1="274.10" x2="602.22" y2="278.50" stroke="#333" stroke-width="0.9"/>
<text x="602.22" y="288.02" font-size="8.4" text-anchor="middle" font-weight="normal" fill="#222">8</text>
<line x1="619.49" y1="274.10" x2="619.49" y2="278.50" stroke="#333" stroke-width="0.9"/>
<text x="619.49" y="288.02" font-size="8.4" text-anchor="middle" font-weight="normal" fill="#222">16</text>
<text x="626.30" y="288.02" font-size="8.4" text-anchor="start" font-weight="normal" fill="#222">(μM)</text>
<polyline points="498.60,196.60 515.87,219.85 533.14,233.03 550.41,240.00 567.68,246.98 584.95,248.53 602.22,254.73 619.49,263.25" fill="none" stroke="#2424ff" stroke-width="1.0"/>
<line x1="498.60" y1="193.50" x2="498.60" y2="199.70" stroke="#2424ff" stroke-width="0.9"/>
<line x1="496.20" y1="193.50" x2="501.00" y2="193.50" stroke="#2424ff" stroke-width="0.9"/>
<line x1="496.20" y1="199.70" x2="501.00" y2="199.70" stroke="#2424ff" stroke-width="0.9"/>
<line x1="515.87" y1="215.98" x2="515.87" y2="223.73" stroke="#2424ff" stroke-width="0.9"/>
<line x1="513.47" y1="215.98" x2="518.27" y2="215.98" stroke="#2424ff" stroke-width="0.9"/>
<line x1="513.47" y1="223.73" x2="518.27" y2="223.73" stroke="#2424ff" stroke-width="0.9"/>
<line x1="533.14" y1="229.93" x2="533.14" y2="236.12" stroke="#2424ff" stroke-width="0.9"/>
<line x1="530.74" y1="229.93" x2="535.54" y2="229.93" stroke="#2424ff" stroke-width="0.9"/>
<line x1="530.74" y1="236.12" x2="535.54" y2="236.12" stroke="#2424ff" stroke-width="0.9"/>
<line x1="550.41" y1="236.12" x2="550.41" y2="243.88" stroke="#2424ff" stroke-width="0.9"/>
<line x1="548.01" y1="236.12" x2="552.81" y2="236.12" stroke="#2424ff" stroke-width="0.9"/>
<line x1="548.01" y1="243.88" x2="552.81" y2="243.88" stroke="#2424ff" stroke-width="0.9"/>
<line x1="567.68" y1="244.26" x2="567.68" y2="249.69" stroke="#2424ff" stroke-width="0.9"/>
<line x1="565.28" y1="244.26" x2="570.08" y2="244.26" stroke="#2424ff" stroke-width="0.9"/>
<line x1="565.28" y1="249.69" x2="570.08" y2="249.69" stroke="#2424ff" stroke-width="0.9"/>
<line x1="584.95" y1="244.65" x2="584.95" y2="252.40" stroke="#2424ff" stroke-width="0.9"/>
<line x1="582.55" y1="244.65" x2="587.35" y2="244.65" stroke="#2424ff" stroke-width="0.9"/>
<line x1="582.55" y1="252.40" x2="587.35" y2="252.40" stroke="#2424ff" stroke-width="0.9"/>
<line x1="602.22" y1="250.85" x2="602.22" y2="258.60" stroke="#2424ff" stroke-width="0.9"/>
<line x1="599.82" y1="250.85" x2="604.62" y2="250.85" stroke="#2424ff" stroke-width="0.9"/>
<line x1="599.82" y1="258.60" x2="604.62" y2="258.60" stroke="#2424ff" stroke-width="0.9"/>
<line x1="619.49" y1="259.38" x2="619.49" y2="267.12" stroke="#2424ff" stroke-width="0.9"/>
<line x1="617.09" y1="259.38" x2="621.89" y2="259.38" stroke="#2424ff" stroke-width="0.9"/>
<line x1="617.09" y1="267.12" x2="621.89" y2="267.12" stroke="#2424ff" stroke-width="0.9"/>
<circle cx="498.60" cy="196.60" r="2.4" fill="#2424ff" stroke="#2424ff" stroke-width="0"/>
<circle cx="515.87" cy="219.85" r="2.4" fill="#2424ff" stroke="#2424ff" stroke-width="0"/>
<circle cx="533.14" cy="233.03" r="2.4" fill="#2424ff" stroke="#2424ff" stroke-width="0"/>
<circle cx="550.41" cy="240.00" r="2.4" fill="#2424ff" stroke="#2424ff" stroke-width="0"/>
<circle cx="567.68" cy="246.98" r="2.4" fill="#2424ff" stroke="#2424ff" stroke-width="0"/>
<circle cx="584.95" cy="248.53" r="2.4" fill="#2424ff" stroke="#2424ff" stroke-width="0"/>
<circle cx="602.22" cy="254.73" r="2.4" fill="#2424ff" stroke="#2424ff" stroke-width="0"/>
<circle cx="619.49" cy="263.25" r="2.4" fill="#2424ff" stroke="#2424ff" stroke-width="0"/>
<polyline points="498.60,196.60 515.87,199.70 533.14,201.25 550.41,208.22 567.68,215.20 584.95,223.73 602.22,226.83 619.49,233.80" fill="none" stroke="#ff2222" stroke-width="1.0"/>
<line x1="498.60" y1="192.72" x2="498.60" y2="200.48" stroke="#ff2222" stroke-width="0.9"/>
<line x1="496.20" y1="192.72" x2="501.00" y2="192.72" stroke="#ff2222" stroke-width="0.9"/>
<line x1="496.20" y1="200.48" x2="501.00" y2="200.48" stroke="#ff2222" stroke-width="0.9"/>
<line x1="515.87" y1="195.82" x2="515.87" y2="203.57" stroke="#ff2222" stroke-width="0.9"/>
<line x1="513.47" y1="195.82" x2="518.27" y2="195.82" stroke="#ff2222" stroke-width="0.9"/>
<line x1="513.47" y1="203.57" x2="518.27" y2="203.57" stroke="#ff2222" stroke-width="0.9"/>
<line x1="533.14" y1="198.15" x2="533.14" y2="204.35" stroke="#ff2222" stroke-width="0.9"/>
<line x1="530.74" y1="198.15" x2="535.54" y2="198.15" stroke="#ff2222" stroke-width="0.9"/>
<line x1="530.74" y1="204.35" x2="535.54" y2="204.35" stroke="#ff2222" stroke-width="0.9"/>
<line x1="550.41" y1="204.35" x2="550.41" y2="212.10" stroke="#ff2222" stroke-width="0.9"/>
<line x1="548.01" y1="204.35" x2="552.81" y2="204.35" stroke="#ff2222" stroke-width="0.9"/>
<line x1="548.01" y1="212.10" x2="552.81" y2="212.10" stroke="#ff2222" stroke-width="0.9"/>
<line x1="567.68" y1="211.32" x2="567.68" y2="219.08" stroke="#ff2222" stroke-width="0.9"/>
<line x1="565.28" y1="211.32" x2="570.08" y2="211.32" stroke="#ff2222" stroke-width="0.9"/>
<line x1="565.28" y1="219.08" x2="570.08" y2="219.08" stroke="#ff2222" stroke-width="0.9"/>
<line x1="584.95" y1="220.62" x2="584.95" y2="226.83" stroke="#ff2222" stroke-width="0.9"/>
<line x1="582.55" y1="220.62" x2="587.35" y2="220.62" stroke="#ff2222" stroke-width="0.9"/>
<line x1="582.55" y1="226.83" x2="587.35" y2="226.83" stroke="#ff2222" stroke-width="0.9"/>
<line x1="602.22" y1="222.18" x2="602.22" y2="231.48" stroke="#ff2222" stroke-width="0.9"/>
<line x1="599.82" y1="222.18" x2="604.62" y2="222.18" stroke="#ff2222" stroke-width="0.9"/>
<line x1="599.82" y1="231.48" x2="604.62" y2="231.48" stroke="#ff2222" stroke-width="0.9"/>
<line x1="619.49" y1="229.93" x2="619.49" y2="237.68" stroke="#ff2222" stroke-width="0.9"/>
<line x1="617.09" y1="229.93" x2="621.89" y2="229.93" stroke="#ff2222" stroke-width="0.9"/>
<line x1="617.09" y1="237.68" x2="621.89" y2="237.68" stroke="#ff2222" stroke-width="0.9"/>
<rect x="496.20" y="194.20" width="4.8" height="4.8" fill="#ff2222" stroke="#ff2222" stroke-width="0"/>
<rect x="513.47" y="197.30" width="4.8" height="4.8" fill="#ff2222" stroke="#ff2222" stroke-width="0"/>
<rect x="530.74" y="198.85" width="4.8" height="4.8" fill="#ff2222" stroke="#ff2222" stroke-width="0"/>
<rect x="548.01" y="205.82" width="4.8" height="4.8" fill="#ff2222" stroke="#ff2222" stroke-width="0"/>
<rect x="565.28" y="212.80" width="4.8" height="4.8" fill="#ff2222" stroke="#ff2222" stroke-width="0"/>
<rect x="582.55" y="221.33" width="4.8" height="4.8" fill="#ff2222" stroke="#ff2222" stroke-width="0"/>
<rect x="599.82" y="224.43" width="4.8" height="4.8" fill="#ff2222" stroke="#ff2222" stroke-width="0"/>
<rect x="617.09" y="231.40" width="4.8" height="4.8" fill="#ff2222" stroke="#ff2222" stroke-width="0"/>
<text x="515.87" y="196.15" font-size="8.3" text-anchor="middle" fill="#222">***</text>
<text x="533.14" y="197.85" font-size="8.3" text-anchor="middle" fill="#222">***</text>
<text x="550.41" y="204.55" font-size="8.3" text-anchor="middle" fill="#222">**</text>
<text x="567.68" y="212.35" font-size="8.3" text-anchor="middle" fill="#222">***</text>
<text x="584.95" y="221.35" font-size="8.3" text-anchor="middle" fill="#222">***</text>
<text x="602.22" y="223.75" font-size="8.3" text-anchor="middle" fill="#222">***</text>
<text x="619.49" y="230.75" font-size="8.3" text-anchor="middle" fill="#222">***</text>
<text x="492.00" y="182.20" font-size="10" text-anchor="start" font-weight="normal" fill="#000">HL-60 treated with RSL3</text>
<text x="461.50" y="223.91" font-size="10.3" text-anchor="middle" fill="#111" transform="rotate(-90 461.50 220.20)">Cell viability (%)</text>
<text x="9.60" y="321.20" font-size="15" font-weight="bold" fill="#000">C</text>
<rect x="50.00" y="311.28" width="4.8" height="5.83" fill="#f23c3c" stroke="#666" stroke-width="0.4"/>
<text x="56.70" y="316.36" font-size="6.0" text-anchor="start" font-weight="normal" fill="#111">sgNC</text>
<rect x="50.00" y="317.51" width="4.8" height="5.83" fill="#44ee1c" stroke="#666" stroke-width="0.4"/>
<text x="56.70" y="322.59" font-size="6.0" text-anchor="start" font-weight="normal" fill="#111">sgTHRAP3</text>
<rect x="50.00" y="323.74" width="4.8" height="5.83" fill="#f03cf0" stroke="#666" stroke-width="0.4"/>
<text x="56.70" y="328.82" font-size="6.0" text-anchor="start" font-weight="normal" fill="#111">sgNC+Fer-1</text>
<rect x="50.00" y="329.97" width="4.8" height="5.83" fill="#f08a2c" stroke="#666" stroke-width="0.4"/>
<text x="56.70" y="335.05" font-size="6.0" text-anchor="start" font-weight="normal" fill="#111">sgTHRAP3+Fer-1</text>
<rect x="50.00" y="336.20" width="4.8" height="5.83" fill="#80fcfc" stroke="#666" stroke-width="0.4"/>
<text x="56.70" y="341.28" font-size="6.0" text-anchor="start" font-weight="normal" fill="#111">sgNC+Erastin</text>
<rect x="50.00" y="342.43" width="4.8" height="5.83" fill="#0a0af5" stroke="#666" stroke-width="0.4"/>
<text x="56.70" y="347.51" font-size="6.0" text-anchor="start" font-weight="normal" fill="#111">sgTHRAP3+Erastin</text>
<rect x="50.00" y="348.66" width="4.8" height="5.83" fill="#8a1010" stroke="#666" stroke-width="0.4"/>
<text x="56.70" y="353.74" font-size="6.0" text-anchor="start" font-weight="normal" fill="#111">sgNC+RSL3</text>
<rect x="50.00" y="354.89" width="4.8" height="5.83" fill="#2c8c24" stroke="#666" stroke-width="0.4"/>
<text x="56.70" y="359.97" font-size="6.0" text-anchor="start" font-weight="normal" fill="#111">sgTHRAP3+RSL3</text>
<text x="0" y="0" font-size="11" text-anchor="start" font-weight="bold" fill="#000" transform="translate(114.00 322.96) scale(0.87 1)">THP-1</text>
<polyline points="49.0,465.3 49.6,465.3 50.2,465.3 50.8,465.3 51.4,465.3 52.0,465.3 52.6,465.3 53.2,465.3 53.8,465.3 54.4,465.2 55.0,465.3 55.6,465.3 56.2,465.3 56.8,465.3 57.4,465.3 58.0,465.3 58.6,465.2 59.2,465.3 59.8,465.1 60.4,465.2 61.0,465.2 61.6,464.8 62.2,464.9 62.8,465.1 63.4,464.9 64.0,464.6 64.6,463.8 65.2,464.6 65.8,464.4 66.4,463.4 67.0,464.2 67.6,463.5 68.2,462.1 68.8,461.8 69.4,461.5 70.0,460.2 70.6,463.3 71.2,457.7 71.8,459.2 72.4,459.0 73.0,454.6 73.6,452.1 74.2,452.3 74.8,451.6 75.4,447.1 76.0,444.8 76.6,438.6 77.2,437.3 77.8,435.7 78.4,429.8 79.0,430.3 79.6,429.2 80.2,420.9 80.8,417.3 81.4,416.5 82.0,415.1 82.6,408.0 83.2,415.3 83.8,399.7 84.4,397.6 85.0,403.9 85.6,394.5 86.2,397.0 86.8,388.1 87.4,399.2 88.0,393.6 88.6,386.3 89.2,384.5 89.8,399.7 90.4,393.5 91.0,391.5 91.6,397.4 92.2,390.4 92.8,404.5 93.4,401.1 94.0,409.7 94.6,403.5 95.2,412.3 95.8,417.0 96.4,425.2 97.0,417.2 97.6,423.9 98.2,427.4 98.8,429.7 99.4,435.2 100.0,440.9 100.6,444.0 101.2,446.5 101.8,444.2 102.4,452.4 103.0,452.6 103.6,453.9 104.2,454.7 104.8,455.7 105.4,459.6 106.0,461.2 106.6,460.0 107.2,459.6 107.8,460.9 108.4,462.1 109.0,463.1 109.6,463.1 110.2,463.8 110.8,463.5 111.4,464.7 112.0,464.4 112.6,464.7 113.2,464.6 113.8,464.8 114.4,464.3 115.0,464.7 115.6,464.8 116.2,465.3 116.8,465.2 117.4,465.3 118.0,465.2 118.6,465.3 119.2,465.2 119.8,465.2 120.4,465.3 121.0,465.3 121.6,465.3 122.2,465.3 122.8,465.3 123.4,465.2 124.0,465.3 124.6,465.3 125.2,465.3 125.8,465.3 126.4,465.3 127.0,465.3 127.6,465.3 128.2,465.3 128.8,465.3 129.4,465.3 130.0,465.3 130.6,465.3 131.2,465.3 131.8,465.3 132.4,465.3 133.0,465.3 133.6,465.3 134.2,465.3 134.8,465.3 135.4,465.3 136.0,465.3 136.6,465.3 137.2,465.3 137.8,465.3 138.4,465.3 139.0,465.3 139.6,465.3 140.2,465.3 140.8,465.3 141.4,465.3 142.0,465.3" fill="none" stroke="#f23c3c" stroke-width="0.7" stroke-linejoin="round"/>
<polyline points="49.0,465.3 49.6,465.3 50.2,465.3 50.8,465.3 51.4,465.3 52.0,465.3 52.6,465.3 53.2,465.3 53.8,465.3 54.4,465.2 55.0,465.3 55.6,465.3 56.2,465.3 56.8,465.3 57.4,465.2 58.0,465.2 58.6,465.2 59.2,465.2 59.8,465.0 60.4,465.3 61.0,465.2 61.6,465.0 62.2,465.2 62.8,464.5 63.4,464.7 64.0,464.2 64.6,464.8 65.2,464.8 65.8,464.4 66.4,463.9 67.0,464.3 67.6,463.5 68.2,463.3 68.8,461.6 69.4,462.9 70.0,460.7 70.6,461.7 71.2,461.2 71.8,460.0 72.4,459.6 73.0,456.5 73.6,453.6 74.2,453.4 74.8,450.7 75.4,446.6 76.0,447.0 76.6,444.8 77.2,443.3 77.8,444.0 78.4,434.9 79.0,438.8 79.6,428.6 80.2,427.3 80.8,420.2 81.4,420.6 82.0,419.9 82.6,412.2 83.2,412.3 83.8,407.8 84.4,403.9 85.0,401.8 85.6,399.5 86.2,400.0 86.8,395.5 87.4,402.4 88.0,392.8 88.6,396.7 89.2,386.4 89.8,386.0 90.4,400.6 91.0,392.6 91.6,395.2 92.2,400.9 92.8,396.6 93.4,403.1 94.0,411.0 94.6,408.1 95.2,410.8 95.8,413.2 96.4,421.3 97.0,418.3 97.6,421.5 98.2,430.8 98.8,432.6 99.4,434.0 100.0,438.4 100.6,435.4 101.2,442.1 101.8,447.5 102.4,449.3 103.0,449.9 103.6,447.6 104.2,454.0 104.8,455.1 105.4,456.0 106.0,458.1 106.6,456.3 107.2,460.7 107.8,460.2 108.4,461.6 109.0,461.8 109.6,463.8 110.2,462.1 110.8,463.8 111.4,464.0 112.0,464.7 112.6,464.8 113.2,464.4 113.8,464.4 114.4,464.7 115.0,464.6 115.6,464.9 116.2,465.1 116.8,465.0 117.4,465.1 118.0,465.2 118.6,465.1 119.2,465.1 119.8,465.2 120.4,465.3 121.0,465.2 121.6,465.2 122.2,465.3 122.8,465.3 123.4,465.3 124.0,465.3 124.6,465.3 125.2,465.3 125.8,465.3 126.4,465.3 127.0,465.3 127.6,465.3 128.2,465.3 128.8,465.3 129.4,465.3 130.0,465.3 130.6,465.3 131.2,465.3 131.8,465.3 132.4,465.3 133.0,465.3 133.6,465.3 134.2,465.3 134.8,465.3 135.4,465.3 136.0,465.3 136.6,465.3 137.2,465.3 137.8,465.3 138.4,465.3 139.0,465.3 139.6,465.3 140.2,465.3 140.8,465.3 141.4,465.3 142.0,465.3" fill="none" stroke="#f08a2c" stroke-width="0.7" stroke-linejoin="round"/>
<polyline points="49.0,465.3 49.6,465.3 50.2,465.3 50.8,465.3 51.4,465.3 52.0,465.3 52.6,465.3 53.2,465.3 53.8,465.3 54.4,465.3 55.0,465.3 55.6,465.3 56.2,465.3 56.8,465.3 57.4,465.3 58.0,465.2 58.6,465.3 59.2,465.0 59.8,465.2 60.4,465.3 61.0,465.1 61.6,465.2 62.2,465.3 62.8,464.9 63.4,465.3 64.0,465.3 64.6,464.7 65.2,465.1 65.8,464.2 66.4,464.9 67.0,465.0 67.6,463.3 68.2,464.5 68.8,463.4 69.4,462.1 70.0,462.6 70.6,462.2 71.2,461.3 71.8,459.7 72.4,460.7 73.0,457.9 73.6,456.7 74.2,452.5 74.8,455.1 75.4,454.5 76.0,449.5 76.6,449.7 77.2,445.9 77.8,443.7 78.4,438.4 79.0,440.2 79.6,435.7 80.2,439.6 80.8,431.6 81.4,420.6 82.0,424.2 82.6,420.9 83.2,419.3 83.8,409.4 84.4,407.5 85.0,409.7 85.6,399.3 86.2,398.2 86.8,393.7 87.4,397.4 88.0,385.5 88.6,389.8 89.2,391.1 89.8,392.4 90.4,391.1 91.0,386.6 91.6,392.4 92.2,387.8 92.8,391.6 93.4,390.4 94.0,395.1 94.6,401.3 95.2,411.6 95.8,406.0 96.4,407.4 97.0,413.2 97.6,415.3 98.2,422.4 98.8,425.5 99.4,430.7 100.0,427.1 100.6,433.9 101.2,438.8 101.8,443.8 102.4,443.5 103.0,442.5 103.6,447.1 104.2,451.7 104.8,449.6 105.4,451.6 106.0,454.1 106.6,455.9 107.2,456.7 107.8,458.7 108.4,459.5 109.0,462.0 109.6,460.5 110.2,462.3 110.8,461.4 111.4,464.8 112.0,463.3 112.6,463.5 113.2,464.5 113.8,464.3 114.4,464.4 115.0,464.6 115.6,465.1 116.2,465.0 116.8,464.8 117.4,464.9 118.0,465.2 118.6,465.2 119.2,465.2 119.8,465.1 120.4,465.3 121.0,465.3 121.6,465.3 122.2,465.3 122.8,465.3 123.4,465.3 124.0,465.3 124.6,465.3 125.2,465.3 125.8,465.3 126.4,465.3 127.0,465.3 127.6,465.3 128.2,465.3 128.8,465.3 129.4,465.3 130.0,465.3 130.6,465.3 131.2,465.3 131.8,465.3 132.4,465.3 133.0,465.3 133.6,465.3 134.2,465.3 134.8,465.3 135.4,465.3 136.0,465.3 136.6,465.3 137.2,465.3 137.8,465.3 138.4,465.3 139.0,465.3 139.6,465.3 140.2,465.3 140.8,465.3 141.4,465.3 142.0,465.3" fill="none" stroke="#f03cf0" stroke-width="0.7" stroke-linejoin="round"/>
<polyline points="49.0,465.3 49.6,465.3 50.2,465.3 50.8,465.3 51.4,465.3 52.0,465.3 52.6,465.3 53.2,465.3 53.8,465.3 54.4,465.3 55.0,465.3 55.6,465.3 56.2,465.3 56.8,465.3 57.4,465.3 58.0,465.3 58.6,465.3 59.2,465.3 59.8,465.3 60.4,465.3 61.0,465.3 61.6,465.3 62.2,465.2 62.8,465.2 63.4,464.9 64.0,464.9 64.6,465.0 65.2,464.9 65.8,464.7 66.4,464.8 67.0,465.3 67.6,464.4 68.2,464.6 68.8,463.7 69.4,464.2 70.0,463.6 70.6,463.4 71.2,462.0 71.8,462.6 72.4,462.5 73.0,461.3 73.6,461.3 74.2,459.8 74.8,459.0 75.4,457.4 76.0,453.6 76.6,455.7 77.2,453.3 77.8,451.9 78.4,448.2 79.0,449.9 79.6,446.5 80.2,442.4 80.8,438.2 81.4,436.8 82.0,435.0 82.6,433.0 83.2,425.5 83.8,419.1 84.4,419.3 85.0,416.4 85.6,412.2 86.2,414.1 86.8,408.7 87.4,405.7 88.0,400.9 88.6,399.8 89.2,402.7 89.8,391.2 90.4,387.5 91.0,394.9 91.6,391.6 92.2,392.1 92.8,390.2 93.4,400.6 94.0,388.7 94.6,399.0 95.2,393.8 95.8,400.9 96.4,405.3 97.0,407.1 97.6,406.2 98.2,415.9 98.8,417.3 99.4,421.0 100.0,428.3 100.6,421.9 101.2,427.6 101.8,432.6 102.4,432.4 103.0,441.1 103.6,441.6 104.2,440.1 104.8,444.4 105.4,453.4 106.0,457.3 106.6,454.6 107.2,452.7 107.8,456.8 108.4,457.7 109.0,457.8 109.6,460.7 110.2,460.3 110.8,460.6 111.4,461.6 112.0,462.3 112.6,463.5 113.2,463.2 113.8,464.1 114.4,463.4 115.0,463.1 115.6,464.9 116.2,465.3 116.8,465.0 117.4,464.8 118.0,464.7 118.6,464.8 119.2,465.3 119.8,465.3 120.4,465.0 121.0,465.3 121.6,465.1 122.2,465.3 122.8,465.2 123.4,465.2 124.0,465.2 124.6,465.2 125.2,465.3 125.8,465.3 126.4,465.3 127.0,465.3 127.6,465.3 128.2,465.3 128.8,465.3 129.4,465.3 130.0,465.3 130.6,465.3 131.2,465.3 131.8,465.3 132.4,465.3 133.0,465.3 133.6,465.3 134.2,465.3 134.8,465.3 135.4,465.3 136.0,465.3 136.6,465.3 137.2,465.3 137.8,465.3 138.4,465.3 139.0,465.3 139.6,465.3 140.2,465.3 140.8,465.3 141.4,465.3 142.0,465.3" fill="none" stroke="#80fcfc" stroke-width="0.7" stroke-linejoin="round"/>
<polyline points="49.0,465.3 49.6,465.3 50.2,465.3 50.8,465.3 51.4,465.3 52.0,465.3 52.6,465.3 53.2,465.3 53.8,465.3 54.4,465.3 55.0,465.3 55.6,465.3 56.2,465.3 56.8,465.3 57.4,465.3 58.0,465.3 58.6,465.3 59.2,465.3 59.8,465.3 60.4,465.3 61.0,465.2 61.6,465.3 62.2,465.3 62.8,465.3 63.4,465.2 64.0,465.3 64.6,465.3 65.2,465.2 65.8,465.3 66.4,465.3 67.0,465.1 67.6,465.1 68.2,465.0 68.8,464.3 69.4,464.3 70.0,464.1 70.6,464.4 71.2,464.4 71.8,464.8 72.4,463.8 73.0,464.7 73.6,463.2 74.2,461.5 74.8,459.9 75.4,459.7 76.0,460.9 76.6,458.2 77.2,458.8 77.8,455.1 78.4,455.1 79.0,451.7 79.6,446.5 80.2,447.5 80.8,442.2 81.4,444.4 82.0,443.1 82.6,436.1 83.2,432.0 83.8,435.3 84.4,430.4 85.0,431.9 85.6,424.8 86.2,417.9 86.8,418.0 87.4,416.6 88.0,416.7 88.6,407.2 89.2,402.8 89.8,401.1 90.4,400.3 91.0,404.7 91.6,390.6 92.2,397.1 92.8,396.7 93.4,392.6 94.0,404.9 94.6,396.5 95.2,397.7 95.8,396.9 96.4,394.5 97.0,400.1 97.6,411.5 98.2,408.1 98.8,408.8 99.4,412.0 100.0,420.2 100.6,424.5 101.2,420.2 101.8,424.2 102.4,428.5 103.0,436.7 103.6,429.7 104.2,445.4 104.8,441.4 105.4,438.2 106.0,446.0 106.6,447.5 107.2,452.4 107.8,449.5 108.4,456.0 109.0,455.0 109.6,456.6 110.2,459.5 110.8,458.1 111.4,461.8 112.0,461.7 112.6,461.7 113.2,462.7 113.8,462.5 114.4,462.7 115.0,463.9 115.6,464.3 116.2,464.5 116.8,464.6 117.4,464.3 118.0,464.9 118.6,464.8 119.2,465.0 119.8,465.3 120.4,464.9 121.0,465.3 121.6,465.2 122.2,465.0 122.8,465.3 123.4,465.3 124.0,465.3 124.6,465.3 125.2,465.3 125.8,465.3 126.4,465.3 127.0,465.3 127.6,465.2 128.2,465.3 128.8,465.3 129.4,465.3 130.0,465.3 130.6,465.3 131.2,465.3 131.8,465.3 132.4,465.3 133.0,465.3 133.6,465.3 134.2,465.3 134.8,465.3 135.4,465.3 136.0,465.3 136.6,465.3 137.2,465.3 137.8,465.3 138.4,465.3 139.0,465.3 139.6,465.3 140.2,465.3 140.8,465.3 141.4,465.3 142.0,465.3" fill="none" stroke="#8a1010" stroke-width="0.7" stroke-linejoin="round"/>
<polyline points="49.0,465.3 49.6,465.3 50.2,465.3 50.8,465.3 51.4,465.3 52.0,465.3 52.6,465.3 53.2,465.3 53.8,465.3 54.4,465.3 55.0,465.3 55.6,465.3 56.2,465.3 56.8,465.3 57.4,465.3 58.0,465.3 58.6,465.3 59.2,465.3 59.8,465.3 60.4,465.3 61.0,465.3 61.6,465.3 62.2,465.3 62.8,465.3 63.4,465.2 64.0,465.3 64.6,465.2 65.2,465.2 65.8,465.2 66.4,465.0 67.0,465.3 67.6,465.0 68.2,465.3 68.8,465.3 69.4,465.3 70.0,464.8 70.6,465.2 71.2,464.7 71.8,465.1 72.4,463.8 73.0,463.1 73.6,463.7 74.2,462.4 74.8,462.7 75.4,460.8 76.0,461.9 76.6,462.9 77.2,458.9 77.8,459.8 78.4,459.9 79.0,458.3 79.6,458.5 80.2,454.7 80.8,454.6 81.4,447.9 82.0,447.2 82.6,449.9 83.2,447.3 83.8,442.5 84.4,443.3 85.0,435.4 85.6,432.1 86.2,431.0 86.8,427.0 87.4,420.1 88.0,413.3 88.6,409.4 89.2,411.3 89.8,404.9 90.4,407.9 91.0,400.4 91.6,403.4 92.2,394.0 92.8,400.2 93.4,397.4 94.0,392.0 94.6,388.7 95.2,397.0 95.8,393.0 96.4,390.6 97.0,391.0 97.6,396.9 98.2,394.6 98.8,398.2 99.4,393.6 100.0,399.8 100.6,410.2 101.2,416.6 101.8,411.1 102.4,410.6 103.0,417.7 103.6,418.8 104.2,426.8 104.8,432.8 105.4,429.7 106.0,434.9 106.6,436.4 107.2,444.5 107.8,443.3 108.4,447.7 109.0,446.9 109.6,451.9 110.2,453.8 110.8,455.4 111.4,454.0 112.0,457.3 112.6,459.5 113.2,460.8 113.8,461.7 114.4,459.9 115.0,463.7 115.6,463.3 116.2,462.6 116.8,462.7 117.4,463.9 118.0,463.7 118.6,464.0 119.2,464.1 119.8,464.7 120.4,464.3 121.0,464.9 121.6,464.6 122.2,465.3 122.8,464.9 123.4,465.3 124.0,465.3 124.6,465.2 125.2,465.3 125.8,465.2 126.4,465.3 127.0,465.2 127.6,465.3 128.2,465.3 128.8,465.3 129.4,465.3 130.0,465.3 130.6,465.3 131.2,465.2 131.8,465.3 132.4,465.3 133.0,465.3 133.6,465.3 134.2,465.3 134.8,465.3 135.4,465.3 136.0,465.3 136.6,465.3 137.2,465.3 137.8,465.3 138.4,465.3 139.0,465.3 139.6,465.3 140.2,465.3 140.8,465.3 141.4,465.3 142.0,465.3" fill="none" stroke="#44ee1c" stroke-width="0.7" stroke-linejoin="round"/>
<polyline points="49.0,465.3 49.6,465.3 50.2,465.3 50.8,465.3 51.4,465.3 52.0,465.3 52.6,465.3 53.2,465.3 53.8,465.3 54.4,465.3 55.0,465.3 55.6,465.3 56.2,465.3 56.8,465.3 57.4,465.3 58.0,465.3 58.6,465.3 59.2,465.3 59.8,465.3 60.4,465.3 61.0,465.3 61.6,465.3 62.2,465.2 62.8,465.3 63.4,465.3 64.0,465.3 64.6,465.2 65.2,465.1 65.8,465.3 66.4,465.2 67.0,465.3 67.6,465.0 68.2,465.1 68.8,465.3 69.4,464.9 70.0,465.0 70.6,464.9 71.2,464.8 71.8,465.1 72.4,464.9 73.0,464.3 73.6,464.4 74.2,464.7 74.8,462.7 75.4,463.7 76.0,463.6 76.6,463.3 77.2,461.6 77.8,460.6 78.4,460.5 79.0,458.9 79.6,460.8 80.2,458.3 80.8,457.2 81.4,455.0 82.0,452.5 82.6,455.3 83.2,443.2 83.8,449.2 84.4,444.1 85.0,440.3 85.6,437.3 86.2,435.9 86.8,441.8 87.4,433.5 88.0,424.5 88.6,426.5 89.2,423.6 89.8,424.9 90.4,408.7 91.0,407.9 91.6,410.0 92.2,404.0 92.8,401.1 93.4,402.7 94.0,397.0 94.6,392.8 95.2,389.9 95.8,385.5 96.4,390.1 97.0,392.0 97.6,388.2 98.2,393.3 98.8,396.9 99.4,387.9 100.0,396.1 100.6,396.1 101.2,396.3 101.8,406.1 102.4,402.1 103.0,406.0 103.6,411.4 104.2,413.0 104.8,420.5 105.4,428.7 106.0,425.7 106.6,431.0 107.2,428.9 107.8,433.9 108.4,439.1 109.0,440.5 109.6,440.1 110.2,443.3 110.8,447.4 111.4,449.5 112.0,452.8 112.6,454.2 113.2,454.7 113.8,457.2 114.4,457.8 115.0,460.7 115.6,462.2 116.2,462.9 116.8,462.2 117.4,461.3 118.0,462.0 118.6,464.1 119.2,464.7 119.8,463.6 120.4,464.0 121.0,465.1 121.6,464.2 122.2,464.7 122.8,464.5 123.4,464.9 124.0,464.8 124.6,465.0 125.2,465.3 125.8,465.2 126.4,465.3 127.0,465.1 127.6,465.3 128.2,465.3 128.8,465.2 129.4,465.2 130.0,465.2 130.6,465.2 131.2,465.3 131.8,465.3 132.4,465.3 133.0,465.3 133.6,465.3 134.2,465.3 134.8,465.3 135.4,465.3 136.0,465.3 136.6,465.3 137.2,465.3 137.8,465.3 138.4,465.3 139.0,465.3 139.6,465.3 140.2,465.3 140.8,465.3 141.4,465.3 142.0,465.3" fill="none" stroke="#2c8c24" stroke-width="0.7" stroke-linejoin="round"/>
<polyline points="49.0,465.3 49.6,465.3 50.2,465.3 50.8,465.3 51.4,465.3 52.0,465.3 52.6,465.3 53.2,465.3 53.8,465.3 54.4,465.3 55.0,465.3 55.6,465.3 56.2,465.3 56.8,465.3 57.4,465.3 58.0,465.3 58.6,465.3 59.2,465.3 59.8,465.3 60.4,465.3 61.0,465.3 61.6,465.3 62.2,465.3 62.8,465.3 63.4,465.3 64.0,465.3 64.6,465.3 65.2,465.3 65.8,465.3 66.4,465.3 67.0,465.2 67.6,465.2 68.2,465.2 68.8,465.2 69.4,465.3 70.0,465.3 70.6,465.2 71.2,465.2 71.8,465.2 72.4,465.3 73.0,465.2 73.6,465.3 74.2,465.0 74.8,465.3 75.4,464.9 76.0,464.6 76.6,464.5 77.2,463.8 77.8,464.8 78.4,465.2 79.0,463.0 79.6,462.2 80.2,461.6 80.8,462.0 81.4,461.1 82.0,460.7 82.6,461.5 83.2,459.7 83.8,457.2 84.4,457.5 85.0,452.1 85.6,456.2 86.2,452.6 86.8,447.6 87.4,449.0 88.0,447.9 88.6,446.1 89.2,442.0 89.8,433.4 90.4,433.3 91.0,429.8 91.6,429.8 92.2,422.2 92.8,421.3 93.4,421.6 94.0,416.8 94.6,411.3 95.2,404.6 95.8,406.5 96.4,401.7 97.0,393.1 97.6,402.5 98.2,402.7 98.8,392.0 99.4,393.3 100.0,394.9 100.6,393.2 101.2,395.9 101.8,392.9 102.4,397.5 103.0,394.2 103.6,404.0 104.2,404.6 104.8,403.2 105.4,408.1 106.0,406.4 106.6,412.2 107.2,417.1 107.8,417.7 108.4,423.4 109.0,429.9 109.6,431.7 110.2,433.7 110.8,435.7 111.4,437.1 112.0,437.9 112.6,441.5 113.2,441.3 113.8,445.0 114.4,450.2 115.0,448.7 115.6,451.5 116.2,455.9 116.8,456.1 117.4,456.3 118.0,458.7 118.6,458.8 119.2,460.4 119.8,460.9 120.4,462.5 121.0,462.4 121.6,463.5 122.2,463.1 122.8,464.9 123.4,464.0 124.0,463.8 124.6,464.3 125.2,464.7 125.8,464.7 126.4,465.2 127.0,465.2 127.6,465.2 128.2,465.2 128.8,465.0 129.4,465.3 130.0,465.1 130.6,465.3 131.2,465.3 131.8,465.3 132.4,465.2 133.0,465.3 133.6,465.3 134.2,465.3 134.8,465.3 135.4,465.3 136.0,465.3 136.6,465.3 137.2,465.3 137.8,465.3 138.4,465.3 139.0,465.3 139.6,465.3 140.2,465.3 140.8,465.3 141.4,465.3 142.0,465.3" fill="none" stroke="#0a0af5" stroke-width="0.7" stroke-linejoin="round"/>
<rect x="48.00" y="370.40" width="95.50" height="94.90" fill="none" stroke="#555" stroke-width="0.55"/>
<line x1="45.80" y1="465.30" x2="48.00" y2="465.30" stroke="#444" stroke-width="0.5"/>
<line x1="46.80" y1="458.97" x2="48.00" y2="458.97" stroke="#444" stroke-width="0.5"/>
<line x1="46.80" y1="452.65" x2="48.00" y2="452.65" stroke="#444" stroke-width="0.5"/>
<line x1="46.80" y1="446.32" x2="48.00" y2="446.32" stroke="#444" stroke-width="0.5"/>
<line x1="46.80" y1="439.99" x2="48.00" y2="439.99" stroke="#444" stroke-width="0.5"/>
<line x1="45.80" y1="433.67" x2="48.00" y2="433.67" stroke="#444" stroke-width="0.5"/>
<line x1="46.80" y1="427.34" x2="48.00" y2="427.34" stroke="#444" stroke-width="0.5"/>
<line x1="46.80" y1="421.01" x2="48.00" y2="421.01" stroke="#444" stroke-width="0.5"/>
<line x1="46.80" y1="414.69" x2="48.00" y2="414.69" stroke="#444" stroke-width="0.5"/>
<line x1="46.80" y1="408.36" x2="48.00" y2="408.36" stroke="#444" stroke-width="0.5"/>
<line x1="45.80" y1="402.03" x2="48.00" y2="402.03" stroke="#444" stroke-width="0.5"/>
<line x1="46.80" y1="395.71" x2="48.00" y2="395.71" stroke="#444" stroke-width="0.5"/>
<line x1="46.80" y1="389.38" x2="48.00" y2="389.38" stroke="#444" stroke-width="0.5"/>
<line x1="46.80" y1="383.05" x2="48.00" y2="383.05" stroke="#444" stroke-width="0.5"/>
<line x1="46.80" y1="376.73" x2="48.00" y2="376.73" stroke="#444" stroke-width="0.5"/>
<line x1="45.80" y1="370.40" x2="48.00" y2="370.40" stroke="#444" stroke-width="0.5"/>
<text x="43.90" y="465.30" font-size="4.9" text-anchor="middle" fill="#222" transform="rotate(-90 43.90 465.30)">0</text>
<text x="43.90" y="433.67" font-size="4.9" text-anchor="middle" fill="#222" transform="rotate(-90 43.90 433.67)">100</text>
<text x="43.90" y="402.03" font-size="4.9" text-anchor="middle" fill="#222" transform="rotate(-90 43.90 402.03)">200</text>
<text x="43.90" y="370.40" font-size="4.9" text-anchor="middle" fill="#222" transform="rotate(-90 43.90 370.40)">300</text>
<text x="37.30" y="418.05" font-size="4.8" text-anchor="middle" fill="#222" transform="rotate(-90 37.30 418.05)">Count</text>
<line x1="63.80" y1="465.30" x2="63.80" y2="467.50" stroke="#444" stroke-width="0.5"/>
<text x="63.80" y="471.90" font-size="4.9" text-anchor="middle" fill="#222">10³</text>
<line x1="112.00" y1="465.30" x2="112.00" y2="467.50" stroke="#444" stroke-width="0.5"/>
<text x="112.00" y="471.90" font-size="4.9" text-anchor="middle" fill="#222">10⁴</text>
<line x1="49.29" y1="465.30" x2="49.29" y2="466.60" stroke="#444" stroke-width="0.45"/>
<line x1="53.11" y1="465.30" x2="53.11" y2="466.60" stroke="#444" stroke-width="0.45"/>
<line x1="56.33" y1="465.30" x2="56.33" y2="466.60" stroke="#444" stroke-width="0.45"/>
<line x1="59.13" y1="465.30" x2="59.13" y2="466.60" stroke="#444" stroke-width="0.45"/>
<line x1="61.59" y1="465.30" x2="61.59" y2="466.60" stroke="#444" stroke-width="0.45"/>
<line x1="78.31" y1="465.30" x2="78.31" y2="466.60" stroke="#444" stroke-width="0.45"/>
<line x1="86.80" y1="465.30" x2="86.80" y2="466.60" stroke="#444" stroke-width="0.45"/>
<line x1="92.82" y1="465.30" x2="92.82" y2="466.60" stroke="#444" stroke-width="0.45"/>
<line x1="97.49" y1="465.30" x2="97.49" y2="466.60" stroke="#444" stroke-width="0.45"/>
<line x1="101.31" y1="465.30" x2="101.31" y2="466.60" stroke="#444" stroke-width="0.45"/>
<line x1="104.53" y1="465.30" x2="104.53" y2="466.60" stroke="#444" stroke-width="0.45"/>
<line x1="107.33" y1="465.30" x2="107.33" y2="466.60" stroke="#444" stroke-width="0.45"/>
<line x1="109.79" y1="465.30" x2="109.79" y2="466.60" stroke="#444" stroke-width="0.45"/>
<line x1="126.51" y1="465.30" x2="126.51" y2="466.60" stroke="#444" stroke-width="0.45"/>
<line x1="135.00" y1="465.30" x2="135.00" y2="466.60" stroke="#444" stroke-width="0.45"/>
<line x1="141.02" y1="465.30" x2="141.02" y2="466.60" stroke="#444" stroke-width="0.45"/>
<text x="91.70" y="480.56" font-size="7.1" text-anchor="middle" font-weight="normal" fill="#111">C11-BODIPY 581/591</text>
<text x="92.60" y="367.96" font-size="4.9" text-anchor="middle" font-weight="normal" fill="#222">Multi-sample : P1</text>
<rect x="147.30" y="378.00" width="4.6" height="5.55" fill="#f23c3c" stroke="#555" stroke-width="0.4"/>
<rect x="147.30" y="384.05" width="4.6" height="5.55" fill="#44ee1c" stroke="#555" stroke-width="0.4"/>
<rect x="147.30" y="390.10" width="4.6" height="5.55" fill="#f03cf0" stroke="#555" stroke-width="0.4"/>
<rect x="147.30" y="396.15" width="4.6" height="5.55" fill="#f08a2c" stroke="#555" stroke-width="0.4"/>
<rect x="147.30" y="402.20" width="4.6" height="5.55" fill="#80fcfc" stroke="#555" stroke-width="0.4"/>
<rect x="147.30" y="408.25" width="4.6" height="5.55" fill="#0a0af5" stroke="#555" stroke-width="0.4"/>
<rect x="147.30" y="414.30" width="4.6" height="5.55" fill="#8a1010" stroke="#555" stroke-width="0.4"/>
<rect x="147.30" y="420.35" width="4.6" height="5.55" fill="#2c8c24" stroke="#555" stroke-width="0.4"/>
<rect x="197.20" y="314.80" width="10.50" height="4.00" fill="#f23c3c"/>
<text x="210.40" y="319.32" font-size="7.0" text-anchor="start" font-weight="normal" fill="#000">sgNC</text>
<rect x="269.20" y="314.80" width="10.30" height="4.00" fill="#80fcfc"/>
<text x="282.30" y="319.32" font-size="7.0" text-anchor="start" font-weight="normal" fill="#000">sgNC+Erastin</text>
<rect x="197.20" y="323.20" width="10.50" height="4.00" fill="#44ee1c"/>
<text x="210.40" y="327.72" font-size="7.0" text-anchor="start" font-weight="normal" fill="#000">sgTHRAP3</text>
<rect x="269.20" y="323.20" width="10.30" height="4.00" fill="#0a0af5"/>
<text x="282.30" y="327.72" font-size="7.0" text-anchor="start" font-weight="normal" fill="#000">sgTHRAP3+Erastin</text>
<rect x="197.20" y="331.50" width="10.50" height="4.00" fill="#f03cf0"/>
<text x="210.40" y="336.02" font-size="7.0" text-anchor="start" font-weight="normal" fill="#000">sgNC+Fer-1</text>
<rect x="269.20" y="331.50" width="10.30" height="4.00" fill="#8a1010"/>
<text x="282.30" y="336.02" font-size="7.0" text-anchor="start" font-weight="normal" fill="#000">sgNC+RSL3</text>
<rect x="197.20" y="340.00" width="10.50" height="4.00" fill="#f08a2c"/>
<text x="210.40" y="344.52" font-size="7.0" text-anchor="start" font-weight="normal" fill="#000">sgTHRAP3+Fer-1</text>
<rect x="269.20" y="340.00" width="10.30" height="4.00" fill="#2c8c24"/>
<text x="282.30" y="344.52" font-size="7.0" text-anchor="start" font-weight="normal" fill="#000">sgTHRAP3+RSL3</text>
<rect x="204.20" y="456.97" width="10.60" height="7.43" fill="#f23c3c"/>
<rect x="221.90" y="437.45" width="10.60" height="26.95" fill="#44ee1c"/>
<rect x="239.70" y="456.04" width="10.60" height="8.36" fill="#f03cf0"/>
<rect x="257.30" y="454.74" width="10.60" height="9.66" fill="#f08a2c"/>
<rect x="275.30" y="435.60" width="10.60" height="28.80" fill="#80fcfc"/>
<rect x="292.80" y="375.20" width="10.60" height="89.20" fill="#0a0af5"/>
<rect x="310.70" y="432.44" width="10.60" height="31.96" fill="#8a1010"/>
<rect x="328.50" y="369.62" width="10.60" height="94.77" fill="#2c8c24"/>
<line x1="209.50" y1="452.69" x2="209.50" y2="461.24" stroke="#111" stroke-width="0.8"/>
<line x1="207.50" y1="452.69" x2="211.50" y2="452.69" stroke="#111" stroke-width="0.8"/>
<line x1="207.50" y1="461.24" x2="211.50" y2="461.24" stroke="#111" stroke-width="0.8"/>
<line x1="227.20" y1="435.97" x2="227.20" y2="438.94" stroke="#111" stroke-width="0.8"/>
<line x1="225.20" y1="435.97" x2="229.20" y2="435.97" stroke="#111" stroke-width="0.8"/>
<line x1="225.20" y1="438.94" x2="229.20" y2="438.94" stroke="#111" stroke-width="0.8"/>
<line x1="245.00" y1="452.69" x2="245.00" y2="459.38" stroke="#111" stroke-width="0.8"/>
<line x1="243.00" y1="452.69" x2="247.00" y2="452.69" stroke="#111" stroke-width="0.8"/>
<line x1="243.00" y1="459.38" x2="247.00" y2="459.38" stroke="#111" stroke-width="0.8"/>
<line x1="262.60" y1="453.81" x2="262.60" y2="455.67" stroke="#111" stroke-width="0.8"/>
<line x1="260.60" y1="453.81" x2="264.60" y2="453.81" stroke="#111" stroke-width="0.8"/>
<line x1="260.60" y1="455.67" x2="264.60" y2="455.67" stroke="#111" stroke-width="0.8"/>
<line x1="280.60" y1="433.37" x2="280.60" y2="437.83" stroke="#111" stroke-width="0.8"/>
<line x1="278.60" y1="433.37" x2="282.60" y2="433.37" stroke="#111" stroke-width="0.8"/>
<line x1="278.60" y1="437.83" x2="282.60" y2="437.83" stroke="#111" stroke-width="0.8"/>
<line x1="298.10" y1="373.53" x2="298.10" y2="376.87" stroke="#111" stroke-width="0.8"/>
<line x1="296.10" y1="373.53" x2="300.10" y2="373.53" stroke="#111" stroke-width="0.8"/>
<line x1="296.10" y1="376.87" x2="300.10" y2="376.87" stroke="#111" stroke-width="0.8"/>
<line x1="316.00" y1="430.39" x2="316.00" y2="434.48" stroke="#111" stroke-width="0.8"/>
<line x1="314.00" y1="430.39" x2="318.00" y2="430.39" stroke="#111" stroke-width="0.8"/>
<line x1="314.00" y1="434.48" x2="318.00" y2="434.48" stroke="#111" stroke-width="0.8"/>
<line x1="333.80" y1="368.51" x2="333.80" y2="370.74" stroke="#111" stroke-width="0.8"/>
<line x1="331.80" y1="368.51" x2="335.80" y2="368.51" stroke="#111" stroke-width="0.8"/>
<line x1="331.80" y1="370.74" x2="335.80" y2="370.74" stroke="#111" stroke-width="0.8"/>
<circle cx="205.50" cy="457.34" r="2.2" fill="#111" stroke="#111" stroke-width="0"/>
<circle cx="209.50" cy="452.32" r="2.2" fill="#111" stroke="#111" stroke-width="0"/>
<circle cx="213.50" cy="457.34" r="2.2" fill="#111" stroke="#111" stroke-width="0"/>
<rect x="221.00" y="435.81" width="4.4" height="4.4" fill="#111" stroke="#111" stroke-width="0"/>
<rect x="225.00" y="434.70" width="4.4" height="4.4" fill="#111" stroke="#111" stroke-width="0"/>
<rect x="229.00" y="435.07" width="4.4" height="4.4" fill="#111" stroke="#111" stroke-width="0"/>
<polygon points="245.00,455.37 242.58,459.66 247.42,459.66" fill="#111" stroke="#111" stroke-width="0"/>
<polygon points="249.00,450.91 246.58,455.20 251.42,455.20" fill="#111" stroke="#111" stroke-width="0"/>
<polygon points="241.50,453.88 239.08,458.17 243.92,458.17" fill="#111" stroke="#111" stroke-width="0"/>
<polygon points="258.60,456.89 256.18,452.60 261.02,452.60" fill="#111" stroke="#111" stroke-width="0"/>
<polygon points="262.60,456.71 260.18,452.42 265.02,452.42" fill="#111" stroke="#111" stroke-width="0"/>
<polygon points="266.60,456.89 264.18,452.60 269.02,452.60" fill="#111" stroke="#111" stroke-width="0"/>
<polygon points="276.60,433.55 278.58,435.97 276.60,438.39 274.62,435.97" fill="#111" stroke="#111" stroke-width="0"/>
<polygon points="280.60,430.76 282.58,433.18 280.60,435.60 278.62,433.18" fill="#111" stroke="#111" stroke-width="0"/>
<polygon points="284.60,432.99 286.58,435.41 284.60,437.83 282.62,435.41" fill="#111" stroke="#111" stroke-width="0"/>
<circle cx="294.10" cy="375.20" r="2.2" fill="#fff" stroke="#111" stroke-width="1.0"/>
<circle cx="298.10" cy="373.71" r="2.2" fill="#fff" stroke="#111" stroke-width="1.0"/>
<circle cx="302.10" cy="374.83" r="2.2" fill="#fff" stroke="#111" stroke-width="1.0"/>
<rect x="310.80" y="429.49" width="4.4" height="4.4" fill="#fff" stroke="#111" stroke-width="1.0"/>
<rect x="313.80" y="427.82" width="4.4" height="4.4" fill="#fff" stroke="#111" stroke-width="1.0"/>
<rect x="316.80" y="429.12" width="4.4" height="4.4" fill="#fff" stroke="#111" stroke-width="1.0"/>
<polygon points="329.80,367.47 327.38,371.76 332.22,371.76" fill="#fff" stroke="#111" stroke-width="1.0"/>
<polygon points="333.80,366.35 331.38,370.64 336.22,370.64" fill="#fff" stroke="#111" stroke-width="1.0"/>
<polygon points="337.80,367.10 335.38,371.38 340.22,371.38" fill="#fff" stroke="#111" stroke-width="1.0"/>
<line x1="197.40" y1="464.90" x2="197.40" y2="352.90" stroke="#333" stroke-width="0.9"/>
<line x1="193.40" y1="464.40" x2="197.40" y2="464.40" stroke="#333" stroke-width="0.9"/>
<text x="193.10" y="467.92" font-size="8.4" text-anchor="end" font-weight="normal" fill="#222">0</text>
<line x1="193.40" y1="427.23" x2="197.40" y2="427.23" stroke="#333" stroke-width="0.9"/>
<text x="193.10" y="430.76" font-size="8.4" text-anchor="end" font-weight="normal" fill="#222">20</text>
<line x1="193.40" y1="390.07" x2="197.40" y2="390.07" stroke="#333" stroke-width="0.9"/>
<text x="193.10" y="393.59" font-size="8.4" text-anchor="end" font-weight="normal" fill="#222">40</text>
<line x1="193.40" y1="352.90" x2="197.40" y2="352.90" stroke="#333" stroke-width="0.9"/>
<text x="193.10" y="356.42" font-size="8.4" text-anchor="end" font-weight="normal" fill="#222">60</text>
<line x1="197.40" y1="464.40" x2="343.00" y2="464.40" stroke="#333" stroke-width="0.9"/>
<line x1="209.50" y1="464.40" x2="209.50" y2="468.40" stroke="#333" stroke-width="0.9"/>
<line x1="227.20" y1="464.40" x2="227.20" y2="468.40" stroke="#333" stroke-width="0.9"/>
<line x1="245.00" y1="464.40" x2="245.00" y2="468.40" stroke="#333" stroke-width="0.9"/>
<line x1="262.60" y1="464.40" x2="262.60" y2="468.40" stroke="#333" stroke-width="0.9"/>
<line x1="280.60" y1="464.40" x2="280.60" y2="468.40" stroke="#333" stroke-width="0.9"/>
<line x1="298.10" y1="464.40" x2="298.10" y2="468.40" stroke="#333" stroke-width="0.9"/>
<line x1="316.00" y1="464.40" x2="316.00" y2="468.40" stroke="#333" stroke-width="0.9"/>
<line x1="333.80" y1="464.40" x2="333.80" y2="468.40" stroke="#333" stroke-width="0.9"/>
<text x="171.90" y="406.40" font-size="10" text-anchor="middle" fill="#111" transform="rotate(-90 171.90 402.80)">Lipid ROS level (%)</text>
<text x="0" y="0" font-size="10.5" text-anchor="middle" font-weight="bold" fill="#000" transform="translate(268.50 480.78) scale(0.9 1)">THP-1</text>
<polyline points="209.20,445.00 209.20,428.60 227.20,428.60 227.20,431.90" fill="none" stroke="#555" stroke-width="0.8"/>
<text x="219.00" y="429.95" font-size="8.3" text-anchor="middle" fill="#222">***</text>
<polyline points="227.20,426.40 227.20,424.40 262.40,424.40 262.40,441.70" fill="none" stroke="#555" stroke-width="0.8"/>
<text x="245.00" y="425.55" font-size="8.3" text-anchor="middle" fill="#222">***</text>
<polyline points="280.60,411.00 280.60,361.60 298.10,361.60 298.10,368.00" fill="none" stroke="#555" stroke-width="0.8"/>
<text x="289.30" y="362.45" font-size="8.3" text-anchor="middle" fill="#222">***</text>
<polyline points="316.00,426.00 316.00,358.80 333.80,358.80 333.80,366.60" fill="none" stroke="#555" stroke-width="0.8"/>
<text x="325.00" y="359.65" font-size="8.3" text-anchor="middle" fill="#222">***</text>
<rect x="385.90" y="311.98" width="4.8" height="5.83" fill="#f23c3c" stroke="#666" stroke-width="0.4"/>
<text x="394.10" y="317.06" font-size="6.0" text-anchor="start" font-weight="normal" fill="#111">Vector</text>
<rect x="385.90" y="318.21" width="4.8" height="5.83" fill="#44ee1c" stroke="#666" stroke-width="0.4"/>
<text x="394.10" y="323.29" font-size="6.0" text-anchor="start" font-weight="normal" fill="#111">THRAP3</text>
<rect x="385.90" y="324.44" width="4.8" height="5.83" fill="#f03cf0" stroke="#666" stroke-width="0.4"/>
<text x="394.10" y="329.52" font-size="6.0" text-anchor="start" font-weight="normal" fill="#111">Vector+Fer-1</text>
<rect x="385.90" y="330.67" width="4.8" height="5.83" fill="#f08a2c" stroke="#666" stroke-width="0.4"/>
<text x="394.10" y="335.75" font-size="6.0" text-anchor="start" font-weight="normal" fill="#111">THRAP3+Fer-1</text>
<rect x="385.90" y="336.90" width="4.8" height="5.83" fill="#80fcfc" stroke="#666" stroke-width="0.4"/>
<text x="394.10" y="341.98" font-size="6.0" text-anchor="start" font-weight="normal" fill="#111">Vector+Erastin</text>
<rect x="385.90" y="343.13" width="4.8" height="5.83" fill="#0a0af5" stroke="#666" stroke-width="0.4"/>
<text x="394.10" y="348.21" font-size="6.0" text-anchor="start" font-weight="normal" fill="#111">THRAP3+Erastin</text>
<rect x="385.90" y="349.36" width="4.8" height="5.83" fill="#8a1010" stroke="#666" stroke-width="0.4"/>
<text x="394.10" y="354.44" font-size="6.0" text-anchor="start" font-weight="normal" fill="#111">Vector+RSL3</text>
<rect x="385.90" y="355.59" width="4.8" height="5.83" fill="#2c8c24" stroke="#666" stroke-width="0.4"/>
<text x="394.10" y="360.67" font-size="6.0" text-anchor="start" font-weight="normal" fill="#111">THRAP3+RSL3</text>
<text x="0" y="0" font-size="11" text-anchor="start" font-weight="bold" fill="#000" transform="translate(451.00 322.96) scale(0.91 1)">HL-60</text>
<polyline points="380.9,464.4 381.5,464.4 382.1,464.4 382.7,464.4 383.3,464.4 383.9,464.4 384.5,464.4 385.1,464.3 385.7,464.4 386.3,464.4 386.9,464.3 387.5,464.3 388.1,464.3 388.7,464.4 389.3,464.3 389.9,464.1 390.5,464.4 391.1,464.2 391.7,464.4 392.3,464.4 392.9,464.4 393.5,463.7 394.1,464.1 394.7,463.0 395.3,462.7 395.9,462.6 396.5,464.0 397.1,461.9 397.7,460.9 398.3,460.0 398.9,461.1 399.5,458.9 400.1,458.5 400.7,457.1 401.3,452.7 401.9,454.3 402.5,451.1 403.1,447.3 403.7,448.2 404.3,444.9 404.9,441.9 405.5,439.3 406.1,440.1 406.7,433.6 407.3,426.7 407.9,432.7 408.5,421.8 409.1,421.1 409.7,420.8 410.3,408.2 410.9,409.9 411.5,414.7 412.1,407.4 412.7,403.2 413.3,404.4 413.9,399.3 414.5,401.2 415.1,397.3 415.7,393.7 416.3,402.6 416.9,399.3 417.5,402.9 418.1,401.6 418.7,408.5 419.3,407.8 419.9,408.4 420.5,406.6 421.1,408.4 421.7,420.4 422.3,421.3 422.9,419.3 423.5,431.2 424.1,429.2 424.7,431.1 425.3,430.1 425.9,434.8 426.5,440.3 427.1,443.0 427.7,445.2 428.3,443.6 428.9,450.0 429.5,451.6 430.1,452.2 430.7,454.6 431.3,456.2 431.9,458.7 432.5,458.3 433.1,459.8 433.7,458.8 434.3,460.2 434.9,461.5 435.5,461.4 436.1,462.7 436.7,462.1 437.3,463.1 437.9,463.1 438.5,464.2 439.1,463.6 439.7,464.4 440.3,464.4 440.9,464.2 441.5,464.4 442.1,464.2 442.7,463.8 443.3,464.4 443.9,464.4 444.5,464.3 445.1,464.3 445.7,464.4 446.3,464.4 446.9,464.3 447.5,464.4 448.1,464.4 448.7,464.4 449.3,464.4 449.9,464.4 450.5,464.4 451.1,464.4 451.7,464.4 452.3,464.4 452.9,464.4 453.5,464.4 454.1,464.4 454.7,464.4 455.3,464.4 455.9,464.4 456.5,464.4 457.1,464.4 457.7,464.4 458.3,464.4 458.9,464.4 459.5,464.4 460.1,464.4 460.7,464.4 461.3,464.4 461.9,464.4 462.5,464.4 463.1,464.4 463.7,464.4 464.3,464.4 464.9,464.4 465.5,464.4 466.1,464.4 466.7,464.4 467.3,464.4 467.9,464.4 468.5,464.4 469.1,464.4 469.7,464.4 470.3,464.4 470.9,464.4 471.5,464.4 472.1,464.4 472.7,464.4 473.3,464.4" fill="none" stroke="#f08a2c" stroke-width="0.7" stroke-linejoin="round"/>
<polyline points="380.9,464.4 381.5,464.4 382.1,464.4 382.7,464.4 383.3,464.4 383.9,464.4 384.5,464.4 385.1,464.4 385.7,464.4 386.3,464.4 386.9,464.4 387.5,464.4 388.1,464.3 388.7,464.4 389.3,464.4 389.9,464.4 390.5,464.3 391.1,464.4 391.7,464.3 392.3,464.4 392.9,464.4 393.5,463.8 394.1,464.2 394.7,463.9 395.3,463.9 395.9,463.9 396.5,463.8 397.1,462.9 397.7,463.2 398.3,462.7 398.9,462.2 399.5,460.7 400.1,460.4 400.7,459.9 401.3,460.1 401.9,460.2 402.5,456.0 403.1,454.5 403.7,454.7 404.3,451.8 404.9,449.4 405.5,447.1 406.1,444.5 406.7,445.1 407.3,437.5 407.9,441.8 408.5,433.1 409.1,430.9 409.7,426.3 410.3,419.6 410.9,417.3 411.5,423.1 412.1,421.9 412.7,409.5 413.3,413.5 413.9,406.9 414.5,400.9 415.1,408.9 415.7,409.1 416.3,397.7 416.9,397.5 417.5,398.2 418.1,396.8 418.7,401.0 419.3,404.5 419.9,399.9 420.5,404.9 421.1,409.6 421.7,403.0 422.3,407.9 422.9,409.0 423.5,417.3 424.1,419.2 424.7,423.6 425.3,426.5 425.9,426.2 426.5,432.6 427.1,432.4 427.7,435.6 428.3,434.2 428.9,445.7 429.5,442.8 430.1,447.5 430.7,449.6 431.3,454.3 431.9,454.2 432.5,453.8 433.1,456.6 433.7,457.6 434.3,459.2 434.9,458.5 435.5,460.6 436.1,463.3 436.7,462.4 437.3,463.8 437.9,464.4 438.5,463.4 439.1,462.7 439.7,463.6 440.3,464.3 440.9,464.3 441.5,463.7 442.1,464.1 442.7,464.2 443.3,464.2 443.9,464.3 444.5,464.2 445.1,464.3 445.7,464.3 446.3,464.4 446.9,464.3 447.5,464.4 448.1,464.3 448.7,464.4 449.3,464.4 449.9,464.4 450.5,464.4 451.1,464.4 451.7,464.4 452.3,464.4 452.9,464.4 453.5,464.4 454.1,464.4 454.7,464.4 455.3,464.4 455.9,464.4 456.5,464.4 457.1,464.4 457.7,464.4 458.3,464.4 458.9,464.4 459.5,464.4 460.1,464.4 460.7,464.4 461.3,464.4 461.9,464.4 462.5,464.4 463.1,464.4 463.7,464.4 464.3,464.4 464.9,464.4 465.5,464.4 466.1,464.4 466.7,464.4 467.3,464.4 467.9,464.4 468.5,464.4 469.1,464.4 469.7,464.4 470.3,464.4 470.9,464.4 471.5,464.4 472.1,464.4 472.7,464.4 473.3,464.4" fill="none" stroke="#f23c3c" stroke-width="0.7" stroke-linejoin="round"/>
<polyline points="380.9,464.4 381.5,464.4 382.1,464.4 382.7,464.4 383.3,464.4 383.9,464.4 384.5,464.4 385.1,464.4 385.7,464.4 386.3,464.3 386.9,464.4 387.5,464.3 388.1,464.2 388.7,464.4 389.3,464.4 389.9,464.3 390.5,464.3 391.1,464.4 391.7,464.0 392.3,463.5 392.9,464.1 393.5,463.9 394.1,464.2 394.7,463.4 395.3,464.0 395.9,463.7 396.5,461.7 397.1,462.9 397.7,460.8 398.3,459.6 398.9,460.1 399.5,458.9 400.1,456.1 400.7,457.7 401.3,457.0 401.9,456.9 402.5,452.9 403.1,448.4 403.7,447.2 404.3,449.0 404.9,446.5 405.5,443.1 406.1,438.3 406.7,436.6 407.3,432.3 407.9,428.8 408.5,427.4 409.1,423.2 409.7,419.0 410.3,416.8 410.9,411.4 411.5,403.0 412.1,405.0 412.7,404.5 413.3,409.3 413.9,398.7 414.5,407.0 415.1,403.5 415.7,393.0 416.3,393.2 416.9,397.0 417.5,404.3 418.1,399.4 418.7,402.1 419.3,398.3 419.9,393.8 420.5,404.7 421.1,411.3 421.7,415.7 422.3,414.5 422.9,418.2 423.5,424.8 424.1,423.8 424.7,431.2 425.3,427.4 425.9,430.9 426.5,434.1 427.1,441.2 427.7,441.5 428.3,445.6 428.9,448.5 429.5,450.5 430.1,454.2 430.7,456.1 431.3,453.9 431.9,456.9 432.5,457.5 433.1,457.7 433.7,461.8 434.3,461.4 434.9,461.1 435.5,461.6 436.1,462.6 436.7,462.1 437.3,463.0 437.9,464.0 438.5,464.0 439.1,463.4 439.7,463.7 440.3,464.4 440.9,463.7 441.5,464.0 442.1,463.9 442.7,464.3 443.3,464.4 443.9,464.4 444.5,464.0 445.1,464.4 445.7,464.2 446.3,464.4 446.9,464.4 447.5,464.4 448.1,464.4 448.7,464.4 449.3,464.4 449.9,464.4 450.5,464.4 451.1,464.4 451.7,464.4 452.3,464.4 452.9,464.4 453.5,464.4 454.1,464.4 454.7,464.4 455.3,464.4 455.9,464.4 456.5,464.4 457.1,464.4 457.7,464.4 458.3,464.4 458.9,464.4 459.5,464.4 460.1,464.4 460.7,464.4 461.3,464.4 461.9,464.4 462.5,464.4 463.1,464.4 463.7,464.4 464.3,464.4 464.9,464.4 465.5,464.4 466.1,464.4 466.7,464.4 467.3,464.4 467.9,464.4 468.5,464.4 469.1,464.4 469.7,464.4 470.3,464.4 470.9,464.4 471.5,464.4 472.1,464.4 472.7,464.4 473.3,464.4" fill="none" stroke="#44ee1c" stroke-width="0.7" stroke-linejoin="round"/>
<polyline points="380.9,464.4 381.5,464.4 382.1,464.4 382.7,464.4 383.3,464.4 383.9,464.4 384.5,464.4 385.1,464.4 385.7,464.4 386.3,464.4 386.9,464.4 387.5,464.4 388.1,464.4 388.7,464.2 389.3,464.4 389.9,464.3 390.5,464.3 391.1,464.3 391.7,464.2 392.3,463.7 392.9,464.4 393.5,464.4 394.1,464.3 394.7,464.3 395.3,463.2 395.9,462.8 396.5,463.6 397.1,463.6 397.7,462.4 398.3,460.4 398.9,463.7 399.5,459.5 400.1,460.4 400.7,456.6 401.3,458.2 401.9,455.6 402.5,456.0 403.1,453.2 403.7,446.3 404.3,444.9 404.9,444.9 405.5,443.2 406.1,442.9 406.7,435.5 407.3,430.8 407.9,427.2 408.5,423.3 409.1,423.0 409.7,415.3 410.3,411.2 410.9,402.1 411.5,395.9 412.1,400.7 412.7,400.3 413.3,394.5 413.9,394.5 414.5,393.3 415.1,388.8 415.7,392.5 416.3,384.6 416.9,388.2 417.5,387.4 418.1,390.8 418.7,395.1 419.3,398.4 419.9,398.0 420.5,402.4 421.1,402.6 421.7,407.3 422.3,416.3 422.9,414.8 423.5,423.8 424.1,425.1 424.7,427.9 425.3,437.0 425.9,434.1 426.5,437.4 427.1,441.4 427.7,445.0 428.3,447.5 428.9,451.2 429.5,451.9 430.1,454.3 430.7,455.0 431.3,458.4 431.9,457.7 432.5,458.9 433.1,460.2 433.7,461.3 434.3,461.1 434.9,463.5 435.5,462.3 436.1,462.8 436.7,463.1 437.3,463.4 437.9,464.0 438.5,464.0 439.1,463.8 439.7,464.0 440.3,464.1 440.9,464.4 441.5,464.2 442.1,464.1 442.7,464.2 443.3,464.3 443.9,464.4 444.5,464.3 445.1,464.4 445.7,464.4 446.3,464.4 446.9,464.4 447.5,464.4 448.1,464.4 448.7,464.4 449.3,464.4 449.9,464.4 450.5,464.4 451.1,464.4 451.7,464.4 452.3,464.4 452.9,464.4 453.5,464.4 454.1,464.4 454.7,464.4 455.3,464.4 455.9,464.4 456.5,464.4 457.1,464.4 457.7,464.4 458.3,464.4 458.9,464.4 459.5,464.4 460.1,464.4 460.7,464.4 461.3,464.4 461.9,464.4 462.5,464.4 463.1,464.4 463.7,464.4 464.3,464.4 464.9,464.4 465.5,464.4 466.1,464.4 466.7,464.4 467.3,464.4 467.9,464.4 468.5,464.4 469.1,464.4 469.7,464.4 470.3,464.4 470.9,464.4 471.5,464.4 472.1,464.4 472.7,464.4 473.3,464.4" fill="none" stroke="#f03cf0" stroke-width="0.7" stroke-linejoin="round"/>
<polyline points="380.9,464.4 381.5,464.4 382.1,464.4 382.7,464.4 383.3,464.4 383.9,464.4 384.5,464.4 385.1,464.4 385.7,464.4 386.3,464.4 386.9,464.4 387.5,464.4 388.1,464.4 388.7,464.4 389.3,464.4 389.9,464.4 390.5,464.4 391.1,464.4 391.7,464.4 392.3,464.4 392.9,464.4 393.5,464.4 394.1,464.4 394.7,464.4 395.3,464.2 395.9,464.3 396.5,464.2 397.1,464.4 397.7,464.1 398.3,464.3 398.9,463.9 399.5,464.3 400.1,464.3 400.7,463.8 401.3,464.0 401.9,463.2 402.5,463.1 403.1,463.6 403.7,462.6 404.3,462.5 404.9,461.0 405.5,461.7 406.1,460.9 406.7,458.2 407.3,455.9 407.9,454.9 408.5,456.3 409.1,454.6 409.7,450.7 410.3,451.9 410.9,451.7 411.5,447.3 412.1,444.2 412.7,444.8 413.3,444.4 413.9,441.3 414.5,432.6 415.1,433.8 415.7,428.9 416.3,424.7 416.9,420.2 417.5,420.5 418.1,414.6 418.7,417.0 419.3,412.4 419.9,412.7 420.5,402.2 421.1,405.1 421.7,406.6 422.3,404.0 422.9,402.9 423.5,398.8 424.1,408.6 424.7,406.8 425.3,405.1 425.9,394.7 426.5,402.9 427.1,409.2 427.7,408.3 428.3,405.9 428.9,417.2 429.5,420.6 430.1,418.2 430.7,423.7 431.3,426.3 431.9,433.0 432.5,429.0 433.1,432.7 433.7,438.7 434.3,441.1 434.9,449.9 435.5,446.2 436.1,450.1 436.7,450.8 437.3,452.2 437.9,455.5 438.5,458.9 439.1,457.1 439.7,459.6 440.3,460.0 440.9,461.1 441.5,461.5 442.1,463.7 442.7,461.3 443.3,462.5 443.9,462.3 444.5,462.2 445.1,463.5 445.7,464.4 446.3,464.2 446.9,464.4 447.5,464.2 448.1,464.1 448.7,464.4 449.3,464.2 449.9,464.4 450.5,464.3 451.1,464.4 451.7,464.4 452.3,464.4 452.9,464.4 453.5,464.4 454.1,464.4 454.7,464.4 455.3,464.3 455.9,464.3 456.5,464.4 457.1,464.4 457.7,464.4 458.3,464.4 458.9,464.4 459.5,464.4 460.1,464.4 460.7,464.4 461.3,464.4 461.9,464.4 462.5,464.4 463.1,464.4 463.7,464.4 464.3,464.4 464.9,464.4 465.5,464.4 466.1,464.4 466.7,464.4 467.3,464.4 467.9,464.4 468.5,464.4 469.1,464.4 469.7,464.4 470.3,464.4 470.9,464.4 471.5,464.4 472.1,464.4 472.7,464.4 473.3,464.4" fill="none" stroke="#0a0af5" stroke-width="0.7" stroke-linejoin="round"/>
<polyline points="380.9,464.4 381.5,464.4 382.1,464.4 382.7,464.4 383.3,464.4 383.9,464.4 384.5,464.4 385.1,464.4 385.7,464.4 386.3,464.4 386.9,464.4 387.5,464.4 388.1,464.4 388.7,464.4 389.3,464.4 389.9,464.4 390.5,464.4 391.1,464.4 391.7,464.4 392.3,464.4 392.9,464.4 393.5,464.4 394.1,464.4 394.7,464.4 395.3,464.4 395.9,464.3 396.5,464.4 397.1,464.3 397.7,464.3 398.3,464.1 398.9,464.2 399.5,463.8 400.1,464.0 400.7,463.9 401.3,463.7 401.9,464.4 402.5,463.6 403.1,463.5 403.7,463.0 404.3,463.7 404.9,461.1 405.5,461.8 406.1,462.4 406.7,462.4 407.3,460.2 407.9,459.1 408.5,458.9 409.1,456.6 409.7,456.4 410.3,452.9 410.9,453.5 411.5,450.3 412.1,446.0 412.7,440.0 413.3,445.8 413.9,441.9 414.5,440.2 415.1,432.7 415.7,435.3 416.3,430.3 416.9,425.6 417.5,425.6 418.1,422.5 418.7,417.7 419.3,420.8 419.9,415.6 420.5,409.0 421.1,404.3 421.7,403.5 422.3,408.4 422.9,401.5 423.5,395.1 424.1,395.5 424.7,398.0 425.3,401.7 425.9,395.8 426.5,402.0 427.1,405.9 427.7,406.1 428.3,399.0 428.9,406.5 429.5,405.5 430.1,414.7 430.7,412.5 431.3,421.2 431.9,422.8 432.5,417.4 433.1,426.3 433.7,433.4 434.3,435.2 434.9,437.0 435.5,437.6 436.1,444.6 436.7,449.8 437.3,448.7 437.9,450.2 438.5,451.9 439.1,451.6 439.7,454.9 440.3,455.5 440.9,459.4 441.5,457.9 442.1,457.5 442.7,459.9 443.3,461.1 443.9,461.8 444.5,461.0 445.1,463.4 445.7,463.1 446.3,463.1 446.9,463.2 447.5,463.9 448.1,463.8 448.7,464.1 449.3,464.1 449.9,464.2 450.5,464.4 451.1,464.3 451.7,464.2 452.3,464.4 452.9,464.4 453.5,464.3 454.1,464.4 454.7,464.4 455.3,464.4 455.9,464.3 456.5,464.3 457.1,464.3 457.7,464.4 458.3,464.4 458.9,464.4 459.5,464.4 460.1,464.4 460.7,464.4 461.3,464.4 461.9,464.4 462.5,464.4 463.1,464.4 463.7,464.4 464.3,464.4 464.9,464.4 465.5,464.4 466.1,464.4 466.7,464.4 467.3,464.4 467.9,464.4 468.5,464.4 469.1,464.4 469.7,464.4 470.3,464.4 470.9,464.4 471.5,464.4 472.1,464.4 472.7,464.4 473.3,464.4" fill="none" stroke="#2c8c24" stroke-width="0.7" stroke-linejoin="round"/>
<polyline points="380.9,464.4 381.5,464.4 382.1,464.4 382.7,464.4 383.3,464.4 383.9,464.4 384.5,464.4 385.1,464.4 385.7,464.4 386.3,464.4 386.9,464.4 387.5,464.4 388.1,464.4 388.7,464.4 389.3,464.4 389.9,464.4 390.5,464.4 391.1,464.4 391.7,464.4 392.3,464.4 392.9,464.4 393.5,464.4 394.1,464.4 394.7,464.4 395.3,464.4 395.9,464.4 396.5,464.3 397.1,464.4 397.7,464.4 398.3,464.4 398.9,464.3 399.5,464.3 400.1,464.4 400.7,464.4 401.3,464.3 401.9,464.3 402.5,464.2 403.1,464.3 403.7,464.2 404.3,464.1 404.9,464.2 405.5,463.9 406.1,464.4 406.7,463.7 407.3,464.2 407.9,463.3 408.5,463.6 409.1,463.8 409.7,462.8 410.3,463.3 410.9,462.9 411.5,463.1 412.1,461.2 412.7,460.0 413.3,458.5 413.9,458.9 414.5,456.2 415.1,456.4 415.7,455.2 416.3,452.5 416.9,449.7 417.5,450.5 418.1,448.2 418.7,445.7 419.3,442.6 419.9,442.5 420.5,434.5 421.1,435.4 421.7,429.8 422.3,430.6 422.9,423.5 423.5,420.0 424.1,419.6 424.7,407.4 425.3,410.3 425.9,401.8 426.5,402.1 427.1,406.1 427.7,402.7 428.3,397.3 428.9,397.4 429.5,396.2 430.1,396.9 430.7,403.2 431.3,396.3 431.9,405.5 432.5,395.2 433.1,401.2 433.7,402.8 434.3,402.8 434.9,403.1 435.5,412.5 436.1,416.5 436.7,416.8 437.3,423.4 437.9,422.6 438.5,417.1 439.1,429.2 439.7,427.0 440.3,436.3 440.9,434.5 441.5,439.1 442.1,441.2 442.7,442.3 443.3,442.2 443.9,448.0 444.5,450.2 445.1,454.1 445.7,453.0 446.3,455.9 446.9,455.7 447.5,458.1 448.1,456.9 448.7,462.1 449.3,461.0 449.9,460.6 450.5,462.2 451.1,463.0 451.7,462.9 452.3,463.9 452.9,463.3 453.5,462.4 454.1,463.3 454.7,464.3 455.3,464.3 455.9,464.2 456.5,463.9 457.1,464.4 457.7,464.4 458.3,464.1 458.9,464.2 459.5,464.4 460.1,464.4 460.7,464.4 461.3,464.4 461.9,464.4 462.5,464.3 463.1,464.4 463.7,464.4 464.3,464.3 464.9,464.4 465.5,464.4 466.1,464.4 466.7,464.4 467.3,464.4 467.9,464.4 468.5,464.4 469.1,464.4 469.7,464.4 470.3,464.4 470.9,464.4 471.5,464.4 472.1,464.4 472.7,464.4 473.3,464.4" fill="none" stroke="#80fcfc" stroke-width="0.7" stroke-linejoin="round"/>
<polyline points="380.9,464.4 381.5,464.4 382.1,464.4 382.7,464.4 383.3,464.4 383.9,464.4 384.5,464.4 385.1,464.4 385.7,464.4 386.3,464.4 386.9,464.4 387.5,464.4 388.1,464.4 388.7,464.4 389.3,464.4 389.9,464.4 390.5,464.4 391.1,464.4 391.7,464.4 392.3,464.4 392.9,464.4 393.5,464.4 394.1,464.4 394.7,464.4 395.3,464.4 395.9,464.4 396.5,464.4 397.1,464.4 397.7,464.4 398.3,464.4 398.9,464.4 399.5,464.4 400.1,464.4 400.7,464.4 401.3,464.4 401.9,464.4 402.5,464.4 403.1,464.3 403.7,464.4 404.3,464.1 404.9,464.3 405.5,464.4 406.1,464.3 406.7,464.3 407.3,464.0 407.9,464.2 408.5,463.5 409.1,464.1 409.7,464.4 410.3,463.8 410.9,464.3 411.5,462.9 412.1,461.7 412.7,461.5 413.3,462.7 413.9,461.6 414.5,458.2 415.1,458.9 415.7,458.3 416.3,455.7 416.9,452.2 417.5,452.4 418.1,452.7 418.7,450.5 419.3,447.9 419.9,448.3 420.5,447.1 421.1,442.0 421.7,441.8 422.3,436.6 422.9,433.1 423.5,423.0 424.1,429.7 424.7,424.0 425.3,420.8 425.9,415.2 426.5,409.5 427.1,412.1 427.7,410.3 428.3,410.8 428.9,405.2 429.5,396.6 430.1,396.5 430.7,399.3 431.3,395.1 431.9,392.2 432.5,389.5 433.1,394.2 433.7,392.9 434.3,400.5 434.9,398.5 435.5,387.8 436.1,406.2 436.7,400.3 437.3,400.4 437.9,405.6 438.5,410.3 439.1,410.4 439.7,413.5 440.3,417.1 440.9,426.8 441.5,424.1 442.1,429.7 442.7,431.9 443.3,432.7 443.9,434.7 444.5,437.0 445.1,443.3 445.7,442.5 446.3,444.4 446.9,446.8 447.5,448.5 448.1,453.2 448.7,454.8 449.3,454.7 449.9,459.2 450.5,458.1 451.1,459.9 451.7,460.6 452.3,462.6 452.9,462.3 453.5,462.0 454.1,461.8 454.7,462.2 455.3,463.2 455.9,463.5 456.5,464.0 457.1,463.6 457.7,464.0 458.3,463.8 458.9,463.6 459.5,464.2 460.1,464.4 460.7,464.4 461.3,464.4 461.9,464.4 462.5,464.2 463.1,464.3 463.7,464.4 464.3,464.3 464.9,464.3 465.5,464.4 466.1,464.4 466.7,464.4 467.3,464.4 467.9,464.4 468.5,464.4 469.1,464.4 469.7,464.4 470.3,464.4 470.9,464.4 471.5,464.4 472.1,464.4 472.7,464.4 473.3,464.4" fill="none" stroke="#8a1010" stroke-width="0.7" stroke-linejoin="round"/>
<rect x="379.90" y="370.40" width="94.50" height="94.00" fill="none" stroke="#555" stroke-width="0.55"/>
<line x1="377.70" y1="464.40" x2="379.90" y2="464.40" stroke="#444" stroke-width="0.5"/>
<line x1="378.70" y1="457.59" x2="379.90" y2="457.59" stroke="#444" stroke-width="0.5"/>
<line x1="378.70" y1="450.78" x2="379.90" y2="450.78" stroke="#444" stroke-width="0.5"/>
<line x1="378.70" y1="443.97" x2="379.90" y2="443.97" stroke="#444" stroke-width="0.5"/>
<line x1="378.70" y1="437.15" x2="379.90" y2="437.15" stroke="#444" stroke-width="0.5"/>
<line x1="377.70" y1="430.34" x2="379.90" y2="430.34" stroke="#444" stroke-width="0.5"/>
<line x1="378.70" y1="423.53" x2="379.90" y2="423.53" stroke="#444" stroke-width="0.5"/>
<line x1="378.70" y1="416.72" x2="379.90" y2="416.72" stroke="#444" stroke-width="0.5"/>
<line x1="378.70" y1="409.91" x2="379.90" y2="409.91" stroke="#444" stroke-width="0.5"/>
<line x1="378.70" y1="403.10" x2="379.90" y2="403.10" stroke="#444" stroke-width="0.5"/>
<line x1="377.70" y1="396.28" x2="379.90" y2="396.28" stroke="#444" stroke-width="0.5"/>
<line x1="378.70" y1="389.47" x2="379.90" y2="389.47" stroke="#444" stroke-width="0.5"/>
<line x1="378.70" y1="382.66" x2="379.90" y2="382.66" stroke="#444" stroke-width="0.5"/>
<line x1="378.70" y1="375.85" x2="379.90" y2="375.85" stroke="#444" stroke-width="0.5"/>
<text x="376.40" y="464.40" font-size="4.9" text-anchor="middle" fill="#222" transform="rotate(-90 376.40 464.40)">0</text>
<text x="376.40" y="430.34" font-size="4.9" text-anchor="middle" fill="#222" transform="rotate(-90 376.40 430.34)">100</text>
<text x="376.40" y="396.28" font-size="4.9" text-anchor="middle" fill="#222" transform="rotate(-90 376.40 396.28)">200</text>
<text x="370.10" y="417.60" font-size="4.8" text-anchor="middle" fill="#222" transform="rotate(-90 370.10 417.60)">Count</text>
<line x1="434.00" y1="464.40" x2="434.00" y2="466.60" stroke="#444" stroke-width="0.5"/>
<text x="434.00" y="471.00" font-size="4.9" text-anchor="middle" fill="#222">10⁴</text>
<line x1="381.13" y1="464.40" x2="381.13" y2="465.70" stroke="#444" stroke-width="0.45"/>
<line x1="383.59" y1="464.40" x2="383.59" y2="465.70" stroke="#444" stroke-width="0.45"/>
<line x1="400.31" y1="464.40" x2="400.31" y2="465.70" stroke="#444" stroke-width="0.45"/>
<line x1="408.80" y1="464.40" x2="408.80" y2="465.70" stroke="#444" stroke-width="0.45"/>
<line x1="414.82" y1="464.40" x2="414.82" y2="465.70" stroke="#444" stroke-width="0.45"/>
<line x1="419.49" y1="464.40" x2="419.49" y2="465.70" stroke="#444" stroke-width="0.45"/>
<line x1="423.31" y1="464.40" x2="423.31" y2="465.70" stroke="#444" stroke-width="0.45"/>
<line x1="426.53" y1="464.40" x2="426.53" y2="465.70" stroke="#444" stroke-width="0.45"/>
<line x1="429.33" y1="464.40" x2="429.33" y2="465.70" stroke="#444" stroke-width="0.45"/>
<line x1="431.79" y1="464.40" x2="431.79" y2="465.70" stroke="#444" stroke-width="0.45"/>
<line x1="448.51" y1="464.40" x2="448.51" y2="465.70" stroke="#444" stroke-width="0.45"/>
<line x1="457.00" y1="464.40" x2="457.00" y2="465.70" stroke="#444" stroke-width="0.45"/>
<line x1="463.02" y1="464.40" x2="463.02" y2="465.70" stroke="#444" stroke-width="0.45"/>
<line x1="467.69" y1="464.40" x2="467.69" y2="465.70" stroke="#444" stroke-width="0.45"/>
<line x1="471.51" y1="464.40" x2="471.51" y2="465.70" stroke="#444" stroke-width="0.45"/>
<text x="430.20" y="480.56" font-size="7.1" text-anchor="middle" font-weight="normal" fill="#111">C11-BODIPY 581/591</text>
<text x="425.50" y="367.96" font-size="4.9" text-anchor="middle" font-weight="normal" fill="#222">Multi-sample : P1</text>
<rect x="479.00" y="378.60" width="4.6" height="5.42" fill="#f23c3c" stroke="#555" stroke-width="0.4"/>
<rect x="479.00" y="384.53" width="4.6" height="5.42" fill="#44ee1c" stroke="#555" stroke-width="0.4"/>
<rect x="479.00" y="390.45" width="4.6" height="5.42" fill="#f03cf0" stroke="#555" stroke-width="0.4"/>
<rect x="479.00" y="396.38" width="4.6" height="5.42" fill="#f08a2c" stroke="#555" stroke-width="0.4"/>
<rect x="479.00" y="402.30" width="4.6" height="5.42" fill="#80fcfc" stroke="#555" stroke-width="0.4"/>
<rect x="479.00" y="408.23" width="4.6" height="5.42" fill="#0a0af5" stroke="#555" stroke-width="0.4"/>
<rect x="479.00" y="414.15" width="4.6" height="5.42" fill="#8a1010" stroke="#555" stroke-width="0.4"/>
<rect x="479.00" y="420.07" width="4.6" height="5.42" fill="#2c8c24" stroke="#555" stroke-width="0.4"/>
<rect x="530.00" y="314.80" width="10.80" height="4.00" fill="#f23c3c"/>
<text x="543.60" y="319.36" font-size="7.1" text-anchor="start" font-weight="normal" fill="#000">Vector</text>
<rect x="601.90" y="314.80" width="10.90" height="4.00" fill="#80fcfc"/>
<text x="615.10" y="319.36" font-size="7.1" text-anchor="start" font-weight="normal" fill="#000">Vector+Erastin</text>
<rect x="530.00" y="323.20" width="10.80" height="4.00" fill="#44ee1c"/>
<text x="543.60" y="327.76" font-size="7.1" text-anchor="start" font-weight="normal" fill="#000">THRAP3</text>
<rect x="601.90" y="323.20" width="10.90" height="4.00" fill="#0a0af5"/>
<text x="615.10" y="327.76" font-size="7.1" text-anchor="start" font-weight="normal" fill="#000">THRAP3+Erastin</text>
<rect x="530.00" y="331.50" width="10.80" height="4.00" fill="#f03cf0"/>
<text x="543.60" y="336.06" font-size="7.1" text-anchor="start" font-weight="normal" fill="#000">Vector+Fer-1</text>
<rect x="601.90" y="331.50" width="10.90" height="4.00" fill="#8a1010"/>
<text x="615.10" y="336.06" font-size="7.1" text-anchor="start" font-weight="normal" fill="#000">Vector+RSL3</text>
<rect x="530.00" y="340.00" width="10.80" height="4.00" fill="#f08a2c"/>
<text x="543.60" y="344.56" font-size="7.1" text-anchor="start" font-weight="normal" fill="#000">THRAP3+Fer-1</text>
<rect x="601.90" y="340.00" width="10.90" height="4.00" fill="#2c8c24"/>
<text x="615.10" y="344.56" font-size="7.1" text-anchor="start" font-weight="normal" fill="#000">THRAP3+RSL3</text>
<rect x="536.90" y="458.49" width="10.60" height="5.61" fill="#f23c3c"/>
<rect x="554.90" y="459.05" width="10.60" height="5.05" fill="#44ee1c"/>
<rect x="572.40" y="457.79" width="10.60" height="6.31" fill="#f03cf0"/>
<rect x="590.10" y="460.17" width="10.60" height="3.93" fill="#f08a2c"/>
<rect x="608.40" y="391.87" width="10.60" height="72.23" fill="#80fcfc"/>
<rect x="625.60" y="436.75" width="10.60" height="27.35" fill="#0a0af5"/>
<rect x="643.70" y="375.32" width="10.60" height="88.78" fill="#8a1010"/>
<rect x="661.70" y="433.25" width="10.60" height="30.86" fill="#2c8c24"/>
<line x1="542.20" y1="458.07" x2="542.20" y2="458.91" stroke="#111" stroke-width="0.8"/>
<line x1="540.20" y1="458.07" x2="544.20" y2="458.07" stroke="#111" stroke-width="0.8"/>
<line x1="540.20" y1="458.91" x2="544.20" y2="458.91" stroke="#111" stroke-width="0.8"/>
<line x1="560.20" y1="458.49" x2="560.20" y2="459.61" stroke="#111" stroke-width="0.8"/>
<line x1="558.20" y1="458.49" x2="562.20" y2="458.49" stroke="#111" stroke-width="0.8"/>
<line x1="558.20" y1="459.61" x2="562.20" y2="459.61" stroke="#111" stroke-width="0.8"/>
<line x1="577.70" y1="457.37" x2="577.70" y2="458.21" stroke="#111" stroke-width="0.8"/>
<line x1="575.70" y1="457.37" x2="579.70" y2="457.37" stroke="#111" stroke-width="0.8"/>
<line x1="575.70" y1="458.21" x2="579.70" y2="458.21" stroke="#111" stroke-width="0.8"/>
<line x1="595.40" y1="457.37" x2="595.40" y2="462.98" stroke="#111" stroke-width="0.8"/>
<line x1="593.40" y1="457.37" x2="597.40" y2="457.37" stroke="#111" stroke-width="0.8"/>
<line x1="593.40" y1="462.98" x2="597.40" y2="462.98" stroke="#111" stroke-width="0.8"/>
<line x1="613.70" y1="390.19" x2="613.70" y2="393.55" stroke="#111" stroke-width="0.8"/>
<line x1="611.70" y1="390.19" x2="615.70" y2="390.19" stroke="#111" stroke-width="0.8"/>
<line x1="611.70" y1="393.55" x2="615.70" y2="393.55" stroke="#111" stroke-width="0.8"/>
<line x1="630.90" y1="435.91" x2="630.90" y2="437.59" stroke="#111" stroke-width="0.8"/>
<line x1="628.90" y1="435.91" x2="632.90" y2="435.91" stroke="#111" stroke-width="0.8"/>
<line x1="628.90" y1="437.59" x2="632.90" y2="437.59" stroke="#111" stroke-width="0.8"/>
<line x1="649.00" y1="373.64" x2="649.00" y2="377.00" stroke="#111" stroke-width="0.8"/>
<line x1="647.00" y1="373.64" x2="651.00" y2="373.64" stroke="#111" stroke-width="0.8"/>
<line x1="647.00" y1="377.00" x2="651.00" y2="377.00" stroke="#111" stroke-width="0.8"/>
<line x1="667.00" y1="432.54" x2="667.00" y2="433.95" stroke="#111" stroke-width="0.8"/>
<line x1="665.00" y1="432.54" x2="669.00" y2="432.54" stroke="#111" stroke-width="0.8"/>
<line x1="665.00" y1="433.95" x2="669.00" y2="433.95" stroke="#111" stroke-width="0.8"/>
<circle cx="538.20" cy="458.49" r="2.2" fill="#111" stroke="#111" stroke-width="0"/>
<circle cx="542.20" cy="458.21" r="2.2" fill="#111" stroke="#111" stroke-width="0"/>
<circle cx="546.20" cy="458.49" r="2.2" fill="#111" stroke="#111" stroke-width="0"/>
<rect x="554.00" y="457.41" width="4.4" height="4.4" fill="#111" stroke="#111" stroke-width="0"/>
<rect x="558.00" y="456.57" width="4.4" height="4.4" fill="#111" stroke="#111" stroke-width="0"/>
<rect x="562.00" y="456.57" width="4.4" height="4.4" fill="#111" stroke="#111" stroke-width="0"/>
<polygon points="573.70,455.12 571.28,459.41 576.12,459.41" fill="#111" stroke="#111" stroke-width="0"/>
<polygon points="577.70,454.84 575.28,459.13 580.12,459.13" fill="#111" stroke="#111" stroke-width="0"/>
<polygon points="581.70,455.12 579.28,459.41 584.12,459.41" fill="#111" stroke="#111" stroke-width="0"/>
<polygon points="591.40,462.14 588.98,457.85 593.82,457.85" fill="#111" stroke="#111" stroke-width="0"/>
<polygon points="595.40,459.90 592.98,455.61 597.82,455.61" fill="#111" stroke="#111" stroke-width="0"/>
<polygon points="599.40,464.53 596.98,460.24 601.82,460.24" fill="#111" stroke="#111" stroke-width="0"/>
<polygon points="609.70,389.87 611.68,392.29 609.70,394.71 607.72,392.29" fill="#111" stroke="#111" stroke-width="0"/>
<polygon points="613.70,387.91 615.68,390.33 613.70,392.75 611.72,390.33" fill="#111" stroke="#111" stroke-width="0"/>
<polygon points="617.70,389.59 619.68,392.01 617.70,394.43 615.72,392.01" fill="#111" stroke="#111" stroke-width="0"/>
<circle cx="626.90" cy="436.61" r="2.2" fill="#fff" stroke="#111" stroke-width="1.0"/>
<circle cx="630.90" cy="436.33" r="2.2" fill="#fff" stroke="#111" stroke-width="1.0"/>
<circle cx="634.90" cy="436.19" r="2.2" fill="#fff" stroke="#111" stroke-width="1.0"/>
<rect x="642.80" y="372.70" width="4.4" height="4.4" fill="#fff" stroke="#111" stroke-width="1.0"/>
<rect x="646.80" y="372.14" width="4.4" height="4.4" fill="#fff" stroke="#111" stroke-width="1.0"/>
<rect x="650.80" y="372.42" width="4.4" height="4.4" fill="#fff" stroke="#111" stroke-width="1.0"/>
<polygon points="663.00,430.72 660.58,435.00 665.42,435.00" fill="#fff" stroke="#111" stroke-width="1.0"/>
<polygon points="667.00,429.59 664.58,433.88 669.42,433.88" fill="#fff" stroke="#111" stroke-width="1.0"/>
<polygon points="671.00,430.15 668.58,434.44 673.42,434.44" fill="#fff" stroke="#111" stroke-width="1.0"/>
<line x1="530.30" y1="464.60" x2="530.30" y2="351.90" stroke="#333" stroke-width="0.9"/>
<line x1="526.30" y1="464.10" x2="530.30" y2="464.10" stroke="#333" stroke-width="0.9"/>
<text x="526.00" y="467.62" font-size="8.4" text-anchor="end" font-weight="normal" fill="#222">0</text>
<line x1="526.30" y1="436.05" x2="530.30" y2="436.05" stroke="#333" stroke-width="0.9"/>
<text x="526.00" y="439.57" font-size="8.4" text-anchor="end" font-weight="normal" fill="#222">20</text>
<line x1="526.30" y1="408.00" x2="530.30" y2="408.00" stroke="#333" stroke-width="0.9"/>
<text x="526.00" y="411.52" font-size="8.4" text-anchor="end" font-weight="normal" fill="#222">40</text>
<line x1="526.30" y1="379.95" x2="530.30" y2="379.95" stroke="#333" stroke-width="0.9"/>
<text x="526.00" y="383.47" font-size="8.4" text-anchor="end" font-weight="normal" fill="#222">60</text>
<line x1="526.30" y1="351.90" x2="530.30" y2="351.90" stroke="#333" stroke-width="0.9"/>
<text x="526.00" y="355.42" font-size="8.4" text-anchor="end" font-weight="normal" fill="#222">80</text>
<line x1="530.30" y1="464.10" x2="676.00" y2="464.10" stroke="#333" stroke-width="0.9"/>
<line x1="542.20" y1="464.10" x2="542.20" y2="468.10" stroke="#333" stroke-width="0.9"/>
<line x1="560.20" y1="464.10" x2="560.20" y2="468.10" stroke="#333" stroke-width="0.9"/>
<line x1="577.70" y1="464.10" x2="577.70" y2="468.10" stroke="#333" stroke-width="0.9"/>
<line x1="595.40" y1="464.10" x2="595.40" y2="468.10" stroke="#333" stroke-width="0.9"/>
<line x1="613.70" y1="464.10" x2="613.70" y2="468.10" stroke="#333" stroke-width="0.9"/>
<line x1="630.90" y1="464.10" x2="630.90" y2="468.10" stroke="#333" stroke-width="0.9"/>
<line x1="649.00" y1="464.10" x2="649.00" y2="468.10" stroke="#333" stroke-width="0.9"/>
<line x1="667.00" y1="464.10" x2="667.00" y2="468.10" stroke="#333" stroke-width="0.9"/>
<text x="508.90" y="414.80" font-size="10" text-anchor="middle" fill="#111" transform="rotate(-90 508.90 411.20)">Lipid ROS level (%)</text>
<text x="0" y="0" font-size="10.5" text-anchor="middle" font-weight="bold" fill="#000" transform="translate(608.50 480.78) scale(0.93 1)">HL-60</text>
<polyline points="613.70,383.00 613.70,379.00 630.90,379.00 630.90,429.00" fill="none" stroke="#555" stroke-width="0.8"/>
<text x="622.30" y="379.95" font-size="8.3" text-anchor="middle" fill="#222">***</text>
<polyline points="649.00,370.70 649.00,363.20 667.00,363.20 667.00,413.00" fill="none" stroke="#555" stroke-width="0.8"/>
<text x="658.00" y="363.95" font-size="8.3" text-anchor="middle" fill="#222">***</text>
<text x="11.30" y="507.00" font-size="15" font-weight="bold" fill="#000">D</text>
<rect x="107.80" y="592.59" width="11.20" height="27.21" fill="#f23c3c"/>
<rect x="125.90" y="584.57" width="11.20" height="35.23" fill="#44ee1c"/>
<rect x="144.10" y="592.59" width="11.20" height="27.21" fill="#f03cf0"/>
<rect x="162.20" y="595.94" width="11.20" height="23.86" fill="#f08a2c"/>
<rect x="180.40" y="586.80" width="11.20" height="33.00" fill="#80fcfc"/>
<rect x="198.80" y="531.72" width="11.20" height="88.08" fill="#0a0af5"/>
<rect x="217.10" y="578.54" width="11.20" height="41.25" fill="#8a1010"/>
<rect x="235.40" y="526.14" width="11.20" height="93.66" fill="#2c8c24"/>
<line x1="113.40" y1="591.48" x2="113.40" y2="593.71" stroke="#111" stroke-width="0.8"/>
<line x1="111.40" y1="591.48" x2="115.40" y2="591.48" stroke="#111" stroke-width="0.8"/>
<line x1="111.40" y1="593.71" x2="115.40" y2="593.71" stroke="#111" stroke-width="0.8"/>
<line x1="131.50" y1="582.34" x2="131.50" y2="586.80" stroke="#111" stroke-width="0.8"/>
<line x1="129.50" y1="582.34" x2="133.50" y2="582.34" stroke="#111" stroke-width="0.8"/>
<line x1="129.50" y1="586.80" x2="133.50" y2="586.80" stroke="#111" stroke-width="0.8"/>
<line x1="149.70" y1="587.02" x2="149.70" y2="598.17" stroke="#111" stroke-width="0.8"/>
<line x1="147.70" y1="587.02" x2="151.70" y2="587.02" stroke="#111" stroke-width="0.8"/>
<line x1="147.70" y1="598.17" x2="151.70" y2="598.17" stroke="#111" stroke-width="0.8"/>
<line x1="167.80" y1="591.48" x2="167.80" y2="600.40" stroke="#111" stroke-width="0.8"/>
<line x1="165.80" y1="591.48" x2="169.80" y2="591.48" stroke="#111" stroke-width="0.8"/>
<line x1="165.80" y1="600.40" x2="169.80" y2="600.40" stroke="#111" stroke-width="0.8"/>
<line x1="186.00" y1="585.68" x2="186.00" y2="587.91" stroke="#111" stroke-width="0.8"/>
<line x1="184.00" y1="585.68" x2="188.00" y2="585.68" stroke="#111" stroke-width="0.8"/>
<line x1="184.00" y1="587.91" x2="188.00" y2="587.91" stroke="#111" stroke-width="0.8"/>
<line x1="204.40" y1="525.02" x2="204.40" y2="538.40" stroke="#111" stroke-width="0.8"/>
<line x1="202.40" y1="525.02" x2="206.40" y2="525.02" stroke="#111" stroke-width="0.8"/>
<line x1="202.40" y1="538.40" x2="206.40" y2="538.40" stroke="#111" stroke-width="0.8"/>
<line x1="222.70" y1="573.64" x2="222.70" y2="583.45" stroke="#111" stroke-width="0.8"/>
<line x1="220.70" y1="573.64" x2="224.70" y2="573.64" stroke="#111" stroke-width="0.8"/>
<line x1="220.70" y1="583.45" x2="224.70" y2="583.45" stroke="#111" stroke-width="0.8"/>
<line x1="241.00" y1="519.45" x2="241.00" y2="532.83" stroke="#111" stroke-width="0.8"/>
<line x1="239.00" y1="519.45" x2="243.00" y2="519.45" stroke="#111" stroke-width="0.8"/>
<line x1="239.00" y1="532.83" x2="243.00" y2="532.83" stroke="#111" stroke-width="0.8"/>
<circle cx="109.40" cy="592.59" r="2.2" fill="#111" stroke="#111" stroke-width="0"/>
<circle cx="113.40" cy="591.48" r="2.2" fill="#111" stroke="#111" stroke-width="0"/>
<circle cx="117.40" cy="591.92" r="2.2" fill="#111" stroke="#111" stroke-width="0"/>
<rect x="125.30" y="583.03" width="4.4" height="4.4" fill="#111" stroke="#111" stroke-width="0"/>
<rect x="129.30" y="579.69" width="4.4" height="4.4" fill="#111" stroke="#111" stroke-width="0"/>
<rect x="133.30" y="581.25" width="4.4" height="4.4" fill="#111" stroke="#111" stroke-width="0"/>
<polygon points="146.70,588.28 144.28,592.57 149.12,592.57" fill="#111" stroke="#111" stroke-width="0"/>
<polygon points="149.70,594.97 147.28,599.26 152.12,599.26" fill="#111" stroke="#111" stroke-width="0"/>
<polygon points="152.70,588.28 150.28,592.57 155.12,592.57" fill="#111" stroke="#111" stroke-width="0"/>
<polygon points="163.80,598.91 161.38,594.62 166.22,594.62" fill="#111" stroke="#111" stroke-width="0"/>
<polygon points="167.80,593.79 165.38,589.50 170.22,589.50" fill="#111" stroke="#111" stroke-width="0"/>
<polygon points="171.80,597.80 169.38,593.51 174.22,593.51" fill="#111" stroke="#111" stroke-width="0"/>
<polygon points="182.00,585.04 183.98,587.46 182.00,589.88 180.02,587.46" fill="#111" stroke="#111" stroke-width="0"/>
<polygon points="186.00,583.48 187.98,585.90 186.00,588.32 184.02,585.90" fill="#111" stroke="#111" stroke-width="0"/>
<polygon points="190.00,584.60 191.98,587.02 190.00,589.44 188.02,587.02" fill="#111" stroke="#111" stroke-width="0"/>
<circle cx="200.40" cy="525.02" r="2.2" fill="#fff" stroke="#111" stroke-width="1.0"/>
<circle cx="204.40" cy="531.72" r="2.2" fill="#fff" stroke="#111" stroke-width="1.0"/>
<circle cx="208.40" cy="535.06" r="2.2" fill="#fff" stroke="#111" stroke-width="1.0"/>
<rect x="217.50" y="571.88" width="4.4" height="4.4" fill="#fff" stroke="#111" stroke-width="1.0"/>
<rect x="220.50" y="574.11" width="4.4" height="4.4" fill="#fff" stroke="#111" stroke-width="1.0"/>
<rect x="223.50" y="577.46" width="4.4" height="4.4" fill="#fff" stroke="#111" stroke-width="1.0"/>
<polygon points="237.00,518.04 234.58,522.33 239.42,522.33" fill="#fff" stroke="#111" stroke-width="1.0"/>
<polygon points="241.00,523.61 238.58,527.90 243.42,527.90" fill="#fff" stroke="#111" stroke-width="1.0"/>
<polygon points="245.00,528.07 242.58,532.36 247.42,532.36" fill="#fff" stroke="#111" stroke-width="1.0"/>
<line x1="101.40" y1="620.30" x2="101.40" y2="508.30" stroke="#333" stroke-width="0.9"/>
<line x1="96.90" y1="619.80" x2="101.40" y2="619.80" stroke="#333" stroke-width="0.9"/>
<text x="96.30" y="623.32" font-size="8.4" text-anchor="end" font-weight="normal" fill="#222">0</text>
<line x1="96.90" y1="597.50" x2="101.40" y2="597.50" stroke="#333" stroke-width="0.9"/>
<text x="96.30" y="601.02" font-size="8.4" text-anchor="end" font-weight="normal" fill="#222">1</text>
<line x1="96.90" y1="575.20" x2="101.40" y2="575.20" stroke="#333" stroke-width="0.9"/>
<text x="96.30" y="578.72" font-size="8.4" text-anchor="end" font-weight="normal" fill="#222">2</text>
<line x1="96.90" y1="552.90" x2="101.40" y2="552.90" stroke="#333" stroke-width="0.9"/>
<text x="96.30" y="556.42" font-size="8.4" text-anchor="end" font-weight="normal" fill="#222">3</text>
<line x1="96.90" y1="530.60" x2="101.40" y2="530.60" stroke="#333" stroke-width="0.9"/>
<text x="96.30" y="534.12" font-size="8.4" text-anchor="end" font-weight="normal" fill="#222">4</text>
<line x1="96.90" y1="508.30" x2="101.40" y2="508.30" stroke="#333" stroke-width="0.9"/>
<text x="96.30" y="511.82" font-size="8.4" text-anchor="end" font-weight="normal" fill="#222">5</text>
<line x1="101.40" y1="619.80" x2="253.00" y2="619.80" stroke="#333" stroke-width="0.9"/>
<line x1="113.40" y1="619.80" x2="113.40" y2="624.30" stroke="#333" stroke-width="0.9"/>
<line x1="131.50" y1="619.80" x2="131.50" y2="624.30" stroke="#333" stroke-width="0.9"/>
<line x1="149.70" y1="619.80" x2="149.70" y2="624.30" stroke="#333" stroke-width="0.9"/>
<line x1="167.80" y1="619.80" x2="167.80" y2="624.30" stroke="#333" stroke-width="0.9"/>
<line x1="186.00" y1="619.80" x2="186.00" y2="624.30" stroke="#333" stroke-width="0.9"/>
<line x1="204.40" y1="619.80" x2="204.40" y2="624.30" stroke="#333" stroke-width="0.9"/>
<line x1="222.70" y1="619.80" x2="222.70" y2="624.30" stroke="#333" stroke-width="0.9"/>
<line x1="241.00" y1="619.80" x2="241.00" y2="624.30" stroke="#333" stroke-width="0.9"/>
<text x="77.00" y="564.30" font-size="10" text-anchor="middle" fill="#111" transform="rotate(-90 77.00 560.70)">MDA level (fold change)</text>
<text x="0" y="0" font-size="10.5" text-anchor="middle" font-weight="bold" fill="#000" transform="translate(173.90 637.18) scale(0.9 1)">THP-1</text>
<polyline points="186.00,559.30 186.00,510.80 204.40,510.80 204.40,517.70" fill="none" stroke="#555" stroke-width="0.8"/>
<text x="195.80" y="511.45" font-size="8.3" text-anchor="middle" fill="#222">***</text>
<polyline points="222.70,558.00 222.70,508.00 241.00,508.00 241.00,515.00" fill="none" stroke="#555" stroke-width="0.8"/>
<text x="230.60" y="508.65" font-size="8.3" text-anchor="middle" fill="#222">***</text>
<rect x="260.40" y="506.90" width="10.80" height="4.00" fill="#f23c3c"/>
<text x="274.00" y="511.46" font-size="7.1" text-anchor="start" font-weight="normal" fill="#000">sgNC</text>
<rect x="260.40" y="515.43" width="10.80" height="4.00" fill="#44ee1c"/>
<text x="274.00" y="519.99" font-size="7.1" text-anchor="start" font-weight="normal" fill="#000">sgTHRAP3</text>
<rect x="260.40" y="523.96" width="10.80" height="4.00" fill="#f03cf0"/>
<text x="274.00" y="528.52" font-size="7.1" text-anchor="start" font-weight="normal" fill="#000">sgNC+Fer-1</text>
<rect x="260.40" y="532.49" width="10.80" height="4.00" fill="#f08a2c"/>
<text x="274.00" y="537.05" font-size="7.1" text-anchor="start" font-weight="normal" fill="#000">sgTHRAP3+Fer-1</text>
<rect x="260.40" y="541.02" width="10.80" height="4.00" fill="#80fcfc"/>
<text x="274.00" y="545.58" font-size="7.1" text-anchor="start" font-weight="normal" fill="#000">sgNC+Erastin</text>
<rect x="260.40" y="549.55" width="10.80" height="4.00" fill="#0a0af5"/>
<text x="274.00" y="554.11" font-size="7.1" text-anchor="start" font-weight="normal" fill="#000">sgTHRAP3+Erastin</text>
<rect x="260.40" y="558.08" width="10.80" height="4.00" fill="#8a1010"/>
<text x="274.00" y="562.64" font-size="7.1" text-anchor="start" font-weight="normal" fill="#000">sgNC+RSL3</text>
<rect x="260.40" y="566.61" width="10.80" height="4.00" fill="#2c8c24"/>
<text x="274.00" y="571.17" font-size="7.1" text-anchor="start" font-weight="normal" fill="#000">sgTHRAP3+RSL3</text>
<rect x="391.70" y="602.41" width="11.20" height="17.59" fill="#f23c3c"/>
<rect x="409.80" y="606.67" width="11.20" height="13.33" fill="#44ee1c"/>
<rect x="427.70" y="605.19" width="11.20" height="14.81" fill="#f03cf0"/>
<rect x="446.10" y="608.89" width="11.20" height="11.11" fill="#f08a2c"/>
<rect x="464.40" y="534.82" width="11.20" height="85.18" fill="#80fcfc"/>
<rect x="482.80" y="569.08" width="11.20" height="50.92" fill="#0a0af5"/>
<rect x="500.90" y="530.19" width="11.20" height="89.81" fill="#8a1010"/>
<rect x="519.10" y="574.82" width="11.20" height="45.18" fill="#2c8c24"/>
<line x1="397.30" y1="601.48" x2="397.30" y2="603.34" stroke="#111" stroke-width="0.8"/>
<line x1="395.30" y1="601.48" x2="399.30" y2="601.48" stroke="#111" stroke-width="0.8"/>
<line x1="395.30" y1="603.34" x2="399.30" y2="603.34" stroke="#111" stroke-width="0.8"/>
<line x1="415.40" y1="605.74" x2="415.40" y2="607.59" stroke="#111" stroke-width="0.8"/>
<line x1="413.40" y1="605.74" x2="417.40" y2="605.74" stroke="#111" stroke-width="0.8"/>
<line x1="413.40" y1="607.59" x2="417.40" y2="607.59" stroke="#111" stroke-width="0.8"/>
<line x1="433.30" y1="604.26" x2="433.30" y2="606.11" stroke="#111" stroke-width="0.8"/>
<line x1="431.30" y1="604.26" x2="435.30" y2="604.26" stroke="#111" stroke-width="0.8"/>
<line x1="431.30" y1="606.11" x2="435.30" y2="606.11" stroke="#111" stroke-width="0.8"/>
<line x1="451.70" y1="607.04" x2="451.70" y2="610.74" stroke="#111" stroke-width="0.8"/>
<line x1="449.70" y1="607.04" x2="453.70" y2="607.04" stroke="#111" stroke-width="0.8"/>
<line x1="449.70" y1="610.74" x2="453.70" y2="610.74" stroke="#111" stroke-width="0.8"/>
<line x1="470.00" y1="528.34" x2="470.00" y2="541.30" stroke="#111" stroke-width="0.8"/>
<line x1="468.00" y1="528.34" x2="472.00" y2="528.34" stroke="#111" stroke-width="0.8"/>
<line x1="468.00" y1="541.30" x2="472.00" y2="541.30" stroke="#111" stroke-width="0.8"/>
<line x1="488.40" y1="565.38" x2="488.40" y2="572.78" stroke="#111" stroke-width="0.8"/>
<line x1="486.40" y1="565.38" x2="490.40" y2="565.38" stroke="#111" stroke-width="0.8"/>
<line x1="486.40" y1="572.78" x2="490.40" y2="572.78" stroke="#111" stroke-width="0.8"/>
<line x1="506.50" y1="523.71" x2="506.50" y2="536.67" stroke="#111" stroke-width="0.8"/>
<line x1="504.50" y1="523.71" x2="508.50" y2="523.71" stroke="#111" stroke-width="0.8"/>
<line x1="504.50" y1="536.67" x2="508.50" y2="536.67" stroke="#111" stroke-width="0.8"/>
<line x1="524.70" y1="571.12" x2="524.70" y2="578.52" stroke="#111" stroke-width="0.8"/>
<line x1="522.70" y1="571.12" x2="526.70" y2="571.12" stroke="#111" stroke-width="0.8"/>
<line x1="522.70" y1="578.52" x2="526.70" y2="578.52" stroke="#111" stroke-width="0.8"/>
<circle cx="393.30" cy="603.34" r="2.2" fill="#111" stroke="#111" stroke-width="0"/>
<circle cx="397.30" cy="601.48" r="2.2" fill="#111" stroke="#111" stroke-width="0"/>
<circle cx="401.30" cy="602.41" r="2.2" fill="#111" stroke="#111" stroke-width="0"/>
<rect x="409.20" y="605.21" width="4.4" height="4.4" fill="#111" stroke="#111" stroke-width="0"/>
<rect x="413.20" y="603.91" width="4.4" height="4.4" fill="#111" stroke="#111" stroke-width="0"/>
<rect x="417.20" y="603.91" width="4.4" height="4.4" fill="#111" stroke="#111" stroke-width="0"/>
<polygon points="429.30,602.66 426.88,606.95 431.72,606.95" fill="#111" stroke="#111" stroke-width="0"/>
<polygon points="433.30,601.18 430.88,605.47 435.72,605.47" fill="#111" stroke="#111" stroke-width="0"/>
<polygon points="437.30,602.66 434.88,606.95 439.72,606.95" fill="#111" stroke="#111" stroke-width="0"/>
<polygon points="447.70,612.35 445.28,608.06 450.12,608.06" fill="#111" stroke="#111" stroke-width="0"/>
<polygon points="451.70,608.64 449.28,604.35 454.12,604.35" fill="#111" stroke="#111" stroke-width="0"/>
<polygon points="455.70,609.57 453.28,605.28 458.12,605.28" fill="#111" stroke="#111" stroke-width="0"/>
<polygon points="466.00,536.11 467.98,538.53 466.00,540.95 464.02,538.53" fill="#111" stroke="#111" stroke-width="0"/>
<polygon points="470.00,525.00 471.98,527.42 470.00,529.84 468.02,527.42" fill="#111" stroke="#111" stroke-width="0"/>
<polygon points="474.00,533.33 475.98,535.75 474.00,538.17 472.02,535.75" fill="#111" stroke="#111" stroke-width="0"/>
<circle cx="484.40" cy="569.63" r="2.2" fill="#fff" stroke="#111" stroke-width="1.0"/>
<circle cx="488.40" cy="565.38" r="2.2" fill="#fff" stroke="#111" stroke-width="1.0"/>
<circle cx="492.40" cy="567.23" r="2.2" fill="#fff" stroke="#111" stroke-width="1.0"/>
<rect x="500.30" y="530.77" width="4.4" height="4.4" fill="#fff" stroke="#111" stroke-width="1.0"/>
<rect x="504.30" y="521.51" width="4.4" height="4.4" fill="#fff" stroke="#111" stroke-width="1.0"/>
<rect x="508.30" y="528.92" width="4.4" height="4.4" fill="#fff" stroke="#111" stroke-width="1.0"/>
<polygon points="521.70,569.33 519.28,573.62 524.12,573.62" fill="#fff" stroke="#111" stroke-width="1.0"/>
<polygon points="524.70,574.88 522.28,579.17 527.12,579.17" fill="#fff" stroke="#111" stroke-width="1.0"/>
<polygon points="527.70,568.40 525.28,572.69 530.12,572.69" fill="#fff" stroke="#111" stroke-width="1.0"/>
<line x1="385.20" y1="620.50" x2="385.20" y2="508.90" stroke="#333" stroke-width="0.9"/>
<line x1="380.70" y1="620.00" x2="385.20" y2="620.00" stroke="#333" stroke-width="0.9"/>
<text x="380.10" y="623.52" font-size="8.4" text-anchor="end" font-weight="normal" fill="#222">0</text>
<line x1="380.70" y1="582.97" x2="385.20" y2="582.97" stroke="#333" stroke-width="0.9"/>
<text x="380.10" y="586.49" font-size="8.4" text-anchor="end" font-weight="normal" fill="#222">2</text>
<line x1="380.70" y1="545.93" x2="385.20" y2="545.93" stroke="#333" stroke-width="0.9"/>
<text x="380.10" y="549.46" font-size="8.4" text-anchor="end" font-weight="normal" fill="#222">4</text>
<line x1="380.70" y1="508.90" x2="385.20" y2="508.90" stroke="#333" stroke-width="0.9"/>
<text x="380.10" y="512.42" font-size="8.4" text-anchor="end" font-weight="normal" fill="#222">6</text>
<line x1="385.20" y1="620.00" x2="537.00" y2="620.00" stroke="#333" stroke-width="0.9"/>
<line x1="397.30" y1="620.00" x2="397.30" y2="624.50" stroke="#333" stroke-width="0.9"/>
<line x1="415.40" y1="620.00" x2="415.40" y2="624.50" stroke="#333" stroke-width="0.9"/>
<line x1="433.30" y1="620.00" x2="433.30" y2="624.50" stroke="#333" stroke-width="0.9"/>
<line x1="451.70" y1="620.00" x2="451.70" y2="624.50" stroke="#333" stroke-width="0.9"/>
<line x1="470.00" y1="620.00" x2="470.00" y2="624.50" stroke="#333" stroke-width="0.9"/>
<line x1="488.40" y1="620.00" x2="488.40" y2="624.50" stroke="#333" stroke-width="0.9"/>
<line x1="506.50" y1="620.00" x2="506.50" y2="624.50" stroke="#333" stroke-width="0.9"/>
<line x1="524.70" y1="620.00" x2="524.70" y2="624.50" stroke="#333" stroke-width="0.9"/>
<text x="367.60" y="570.40" font-size="10" text-anchor="middle" fill="#111" transform="rotate(-90 367.60 566.80)">MDA level (fold change)</text>
<text x="0" y="0" font-size="10.5" text-anchor="middle" font-weight="bold" fill="#000" transform="translate(462.20 637.18) scale(0.92 1)">HL-60</text>
<polyline points="470.00,520.00 470.00,515.00 488.40,515.00 488.40,557.00" fill="none" stroke="#555" stroke-width="0.8"/>
<text x="477.50" y="515.65" font-size="8.3" text-anchor="middle" fill="#222">***</text>
<polyline points="506.50,517.00 506.50,512.20 524.70,512.20 524.70,562.60" fill="none" stroke="#555" stroke-width="0.8"/>
<text x="514.50" y="512.85" font-size="8.3" text-anchor="middle" fill="#222">***</text>
<rect x="541.20" y="507.00" width="10.80" height="4.00" fill="#f23c3c"/>
<text x="555.00" y="511.56" font-size="7.1" text-anchor="start" font-weight="normal" fill="#000">Vector</text>
<rect x="541.20" y="515.53" width="10.80" height="4.00" fill="#44ee1c"/>
<text x="555.00" y="520.09" font-size="7.1" text-anchor="start" font-weight="normal" fill="#000">THRAP3</text>
<rect x="541.20" y="524.06" width="10.80" height="4.00" fill="#f03cf0"/>
<text x="555.00" y="528.62" font-size="7.1" text-anchor="start" font-weight="normal" fill="#000">Vector+Fer-1</text>
<rect x="541.20" y="532.59" width="10.80" height="4.00" fill="#f08a2c"/>
<text x="555.00" y="537.15" font-size="7.1" text-anchor="start" font-weight="normal" fill="#000">THRAP3+Fer-1</text>
<rect x="541.20" y="541.12" width="10.80" height="4.00" fill="#80fcfc"/>
<text x="555.00" y="545.68" font-size="7.1" text-anchor="start" font-weight="normal" fill="#000">Vector+Erastin</text>
<rect x="541.20" y="549.65" width="10.80" height="4.00" fill="#0a0af5"/>
<text x="555.00" y="554.21" font-size="7.1" text-anchor="start" font-weight="normal" fill="#000">THRAP3+Erastin</text>
<rect x="541.20" y="558.18" width="10.80" height="4.00" fill="#8a1010"/>
<text x="555.00" y="562.74" font-size="7.1" text-anchor="start" font-weight="normal" fill="#000">Vector+RSL3</text>
<rect x="541.20" y="566.71" width="10.80" height="4.00" fill="#2c8c24"/>
<text x="555.00" y="571.27" font-size="7.1" text-anchor="start" font-weight="normal" fill="#000">THRAP3+RSL3</text>
<text x="11.30" y="658.00" font-size="15" font-weight="bold" fill="#000">E</text>
<line x1="33.00" y1="650.30" x2="42.20" y2="650.30" stroke="#111111" stroke-width="1.0"/>
<circle cx="37.60" cy="650.30" r="2.5" fill="#111111" stroke="#111111" stroke-width="0"/>
<text x="47.60" y="653.36" font-size="8.5" text-anchor="start" font-weight="normal" fill="#000">sgNC</text>
<line x1="33.00" y1="660.32" x2="42.20" y2="660.32" stroke="#f23e3e" stroke-width="1.0"/>
<rect x="35.20" y="657.92" width="4.8" height="4.8" fill="#f23e3e" stroke="#f23e3e" stroke-width="0"/>
<text x="47.60" y="663.38" font-size="8.5" text-anchor="start" font-weight="normal" fill="#000">sgTHRAP3</text>
<line x1="33.00" y1="670.34" x2="42.20" y2="670.34" stroke="#6ff5b8" stroke-width="1.0"/>
<polygon points="37.60,667.35 34.74,672.42 40.46,672.42" fill="#6ff5b8" stroke="#6ff5b8" stroke-width="0"/>
<text x="47.60" y="673.40" font-size="8.5" text-anchor="start" font-weight="normal" fill="#000">sgNC+Fer-1</text>
<line x1="33.00" y1="680.36" x2="42.20" y2="680.36" stroke="#2020f5" stroke-width="1.0"/>
<polygon points="37.60,683.35 34.74,678.28 40.46,678.28" fill="#2020f5" stroke="#2020f5" stroke-width="0"/>
<text x="47.60" y="683.42" font-size="8.5" text-anchor="start" font-weight="normal" fill="#000">sgTHRAP3+Fer-1</text>
<line x1="33.00" y1="690.38" x2="42.20" y2="690.38" stroke="#f29a3c" stroke-width="1.0"/>
<polygon points="37.60,687.85 39.67,690.38 37.60,692.91 35.53,690.38" fill="#f29a3c" stroke="#f29a3c" stroke-width="0"/>
<text x="47.60" y="693.44" font-size="8.5" text-anchor="start" font-weight="normal" fill="#000">sgNC+RSL3</text>
<line x1="33.00" y1="700.40" x2="42.20" y2="700.40" stroke="#b44cf0" stroke-width="1.0"/>
<circle cx="37.60" cy="700.40" r="2.8" fill="#b44cf0" stroke="#b44cf0" stroke-width="0"/>
<text x="47.60" y="703.46" font-size="8.5" text-anchor="start" font-weight="normal" fill="#000">sgTHRAP3+RSL3</text>
<line x1="28.60" y1="795.80" x2="28.60" y2="706.40" stroke="#333" stroke-width="0.9"/>
<line x1="25.60" y1="795.30" x2="28.60" y2="795.30" stroke="#333" stroke-width="0.9"/>
<text x="0" y="0" font-size="9.1" text-anchor="end" font-weight="normal" fill="#222" transform="translate(25.60 799.08) scale(0.87 1)">0</text>
<line x1="25.60" y1="773.07" x2="28.60" y2="773.07" stroke="#333" stroke-width="0.9"/>
<text x="0" y="0" font-size="9.1" text-anchor="end" font-weight="normal" fill="#222" transform="translate(25.60 776.85) scale(0.87 1)">200</text>
<line x1="25.60" y1="750.85" x2="28.60" y2="750.85" stroke="#333" stroke-width="0.9"/>
<text x="0" y="0" font-size="9.1" text-anchor="end" font-weight="normal" fill="#222" transform="translate(25.60 754.63) scale(0.87 1)">400</text>
<line x1="25.60" y1="728.62" x2="28.60" y2="728.62" stroke="#333" stroke-width="0.9"/>
<text x="0" y="0" font-size="9.1" text-anchor="end" font-weight="normal" fill="#222" transform="translate(25.60 732.40) scale(0.87 1)">600</text>
<line x1="25.60" y1="706.40" x2="28.60" y2="706.40" stroke="#333" stroke-width="0.9"/>
<text x="0" y="0" font-size="9.1" text-anchor="end" font-weight="normal" fill="#222" transform="translate(25.60 710.18) scale(0.87 1)">800</text>
<line x1="28.60" y1="795.30" x2="163.00" y2="795.30" stroke="#333" stroke-width="0.9"/>
<line x1="28.60" y1="795.30" x2="28.60" y2="797.80" stroke="#333" stroke-width="0.9"/>
<text x="0" y="0" font-size="9.1" text-anchor="middle" font-weight="normal" fill="#222" transform="translate(28.60 805.78) scale(0.87 1)">0</text>
<line x1="51.00" y1="795.30" x2="51.00" y2="797.80" stroke="#333" stroke-width="0.9"/>
<text x="0" y="0" font-size="9.1" text-anchor="middle" font-weight="normal" fill="#222" transform="translate(51.00 805.78) scale(0.87 1)">5</text>
<line x1="73.40" y1="795.30" x2="73.40" y2="797.80" stroke="#333" stroke-width="0.9"/>
<text x="0" y="0" font-size="9.1" text-anchor="middle" font-weight="normal" fill="#222" transform="translate(73.40 805.78) scale(0.87 1)">10</text>
<line x1="95.80" y1="795.30" x2="95.80" y2="797.80" stroke="#333" stroke-width="0.9"/>
<text x="0" y="0" font-size="9.1" text-anchor="middle" font-weight="normal" fill="#222" transform="translate(95.80 805.78) scale(0.87 1)">15</text>
<line x1="118.20" y1="795.30" x2="118.20" y2="797.80" stroke="#333" stroke-width="0.9"/>
<text x="0" y="0" font-size="9.1" text-anchor="middle" font-weight="normal" fill="#222" transform="translate(118.20 805.78) scale(0.87 1)">20</text>
<line x1="140.60" y1="795.30" x2="140.60" y2="797.80" stroke="#333" stroke-width="0.9"/>
<text x="0" y="0" font-size="9.1" text-anchor="middle" font-weight="normal" fill="#222" transform="translate(140.60 805.78) scale(0.87 1)">25</text>
<line x1="163.00" y1="795.30" x2="163.00" y2="797.80" stroke="#333" stroke-width="0.9"/>
<text x="0" y="0" font-size="9.1" text-anchor="middle" font-weight="normal" fill="#222" transform="translate(163.00 805.78) scale(0.87 1)">30</text>
<polyline points="51.00,789.19 73.40,785.85 95.80,766.96 118.20,749.74 140.60,732.07" fill="none" stroke="#6ff5b8" stroke-width="0.9"/>
<line x1="51.00" y1="788.30" x2="51.00" y2="790.08" stroke="#6ff5b8" stroke-width="0.9"/>
<line x1="48.70" y1="788.30" x2="53.30" y2="788.30" stroke="#6ff5b8" stroke-width="0.9"/>
<line x1="48.70" y1="790.08" x2="53.30" y2="790.08" stroke="#6ff5b8" stroke-width="0.9"/>
<line x1="73.40" y1="784.19" x2="73.40" y2="787.52" stroke="#6ff5b8" stroke-width="0.9"/>
<line x1="71.10" y1="784.19" x2="75.70" y2="784.19" stroke="#6ff5b8" stroke-width="0.9"/>
<line x1="71.10" y1="787.52" x2="75.70" y2="787.52" stroke="#6ff5b8" stroke-width="0.9"/>
<line x1="95.80" y1="761.96" x2="95.80" y2="771.96" stroke="#6ff5b8" stroke-width="0.9"/>
<line x1="93.50" y1="761.96" x2="98.10" y2="761.96" stroke="#6ff5b8" stroke-width="0.9"/>
<line x1="93.50" y1="771.96" x2="98.10" y2="771.96" stroke="#6ff5b8" stroke-width="0.9"/>
<line x1="118.20" y1="741.96" x2="118.20" y2="757.52" stroke="#6ff5b8" stroke-width="0.9"/>
<line x1="115.90" y1="741.96" x2="120.50" y2="741.96" stroke="#6ff5b8" stroke-width="0.9"/>
<line x1="115.90" y1="757.52" x2="120.50" y2="757.52" stroke="#6ff5b8" stroke-width="0.9"/>
<line x1="140.60" y1="725.40" x2="140.60" y2="738.74" stroke="#6ff5b8" stroke-width="0.9"/>
<line x1="138.30" y1="725.40" x2="142.90" y2="725.40" stroke="#6ff5b8" stroke-width="0.9"/>
<line x1="138.30" y1="738.74" x2="142.90" y2="738.74" stroke="#6ff5b8" stroke-width="0.9"/>
<polygon points="51.00,786.20 48.14,791.27 53.86,791.27" fill="#6ff5b8" stroke="#6ff5b8" stroke-width="0"/>
<polygon points="73.40,782.86 70.54,787.93 76.26,787.93" fill="#6ff5b8" stroke="#6ff5b8" stroke-width="0"/>
<polygon points="95.80,763.97 92.94,769.04 98.66,769.04" fill="#6ff5b8" stroke="#6ff5b8" stroke-width="0"/>
<polygon points="118.20,746.75 115.34,751.82 121.06,751.82" fill="#6ff5b8" stroke="#6ff5b8" stroke-width="0"/>
<polygon points="140.60,729.08 137.74,734.15 143.46,734.15" fill="#6ff5b8" stroke="#6ff5b8" stroke-width="0"/>
<polyline points="51.00,793.08 73.40,792.30 95.80,786.19 118.20,781.63 140.60,774.74" fill="none" stroke="#b44cf0" stroke-width="0.9"/>
<line x1="51.00" y1="792.52" x2="51.00" y2="793.63" stroke="#b44cf0" stroke-width="0.9"/>
<line x1="48.70" y1="792.52" x2="53.30" y2="792.52" stroke="#b44cf0" stroke-width="0.9"/>
<line x1="48.70" y1="793.63" x2="53.30" y2="793.63" stroke="#b44cf0" stroke-width="0.9"/>
<line x1="73.40" y1="791.41" x2="73.40" y2="793.19" stroke="#b44cf0" stroke-width="0.9"/>
<line x1="71.10" y1="791.41" x2="75.70" y2="791.41" stroke="#b44cf0" stroke-width="0.9"/>
<line x1="71.10" y1="793.19" x2="75.70" y2="793.19" stroke="#b44cf0" stroke-width="0.9"/>
<line x1="95.80" y1="783.97" x2="95.80" y2="788.41" stroke="#b44cf0" stroke-width="0.9"/>
<line x1="93.50" y1="783.97" x2="98.10" y2="783.97" stroke="#b44cf0" stroke-width="0.9"/>
<line x1="93.50" y1="788.41" x2="98.10" y2="788.41" stroke="#b44cf0" stroke-width="0.9"/>
<line x1="118.20" y1="778.85" x2="118.20" y2="784.41" stroke="#b44cf0" stroke-width="0.9"/>
<line x1="115.90" y1="778.85" x2="120.50" y2="778.85" stroke="#b44cf0" stroke-width="0.9"/>
<line x1="115.90" y1="784.41" x2="120.50" y2="784.41" stroke="#b44cf0" stroke-width="0.9"/>
<line x1="140.60" y1="769.74" x2="140.60" y2="779.74" stroke="#b44cf0" stroke-width="0.9"/>
<line x1="138.30" y1="769.74" x2="142.90" y2="769.74" stroke="#b44cf0" stroke-width="0.9"/>
<line x1="138.30" y1="779.74" x2="142.90" y2="779.74" stroke="#b44cf0" stroke-width="0.9"/>
<circle cx="51.00" cy="793.08" r="2.8" fill="#b44cf0" stroke="#b44cf0" stroke-width="0"/>
<circle cx="73.40" cy="792.30" r="2.8" fill="#b44cf0" stroke="#b44cf0" stroke-width="0"/>
<circle cx="95.80" cy="786.19" r="2.8" fill="#b44cf0" stroke="#b44cf0" stroke-width="0"/>
<circle cx="118.20" cy="781.63" r="2.8" fill="#b44cf0" stroke="#b44cf0" stroke-width="0"/>
<circle cx="140.60" cy="774.74" r="2.8" fill="#b44cf0" stroke="#b44cf0" stroke-width="0"/>
<polyline points="51.00,792.30 73.40,789.85 95.80,782.19 118.20,773.85 140.60,763.85" fill="none" stroke="#f23e3e" stroke-width="0.9"/>
<line x1="51.00" y1="791.74" x2="51.00" y2="792.86" stroke="#f23e3e" stroke-width="0.9"/>
<line x1="48.70" y1="791.74" x2="53.30" y2="791.74" stroke="#f23e3e" stroke-width="0.9"/>
<line x1="48.70" y1="792.86" x2="53.30" y2="792.86" stroke="#f23e3e" stroke-width="0.9"/>
<line x1="73.40" y1="788.74" x2="73.40" y2="790.97" stroke="#f23e3e" stroke-width="0.9"/>
<line x1="71.10" y1="788.74" x2="75.70" y2="788.74" stroke="#f23e3e" stroke-width="0.9"/>
<line x1="71.10" y1="790.97" x2="75.70" y2="790.97" stroke="#f23e3e" stroke-width="0.9"/>
<line x1="95.80" y1="778.85" x2="95.80" y2="785.52" stroke="#f23e3e" stroke-width="0.9"/>
<line x1="93.50" y1="778.85" x2="98.10" y2="778.85" stroke="#f23e3e" stroke-width="0.9"/>
<line x1="93.50" y1="785.52" x2="98.10" y2="785.52" stroke="#f23e3e" stroke-width="0.9"/>
<line x1="118.20" y1="769.41" x2="118.20" y2="778.30" stroke="#f23e3e" stroke-width="0.9"/>
<line x1="115.90" y1="769.41" x2="120.50" y2="769.41" stroke="#f23e3e" stroke-width="0.9"/>
<line x1="115.90" y1="778.30" x2="120.50" y2="778.30" stroke="#f23e3e" stroke-width="0.9"/>
<line x1="140.60" y1="759.41" x2="140.60" y2="768.30" stroke="#f23e3e" stroke-width="0.9"/>
<line x1="138.30" y1="759.41" x2="142.90" y2="759.41" stroke="#f23e3e" stroke-width="0.9"/>
<line x1="138.30" y1="768.30" x2="142.90" y2="768.30" stroke="#f23e3e" stroke-width="0.9"/>
<rect x="48.60" y="789.90" width="4.8" height="4.8" fill="#f23e3e" stroke="#f23e3e" stroke-width="0"/>
<rect x="71.00" y="787.45" width="4.8" height="4.8" fill="#f23e3e" stroke="#f23e3e" stroke-width="0"/>
<rect x="93.40" y="779.79" width="4.8" height="4.8" fill="#f23e3e" stroke="#f23e3e" stroke-width="0"/>
<rect x="115.80" y="771.45" width="4.8" height="4.8" fill="#f23e3e" stroke="#f23e3e" stroke-width="0"/>
<rect x="138.20" y="761.45" width="4.8" height="4.8" fill="#f23e3e" stroke="#f23e3e" stroke-width="0"/>
<polyline points="51.00,790.85 73.40,786.97 95.80,775.52 118.20,766.63 140.60,755.41" fill="none" stroke="#f29a3c" stroke-width="0.9"/>
<line x1="51.00" y1="789.97" x2="51.00" y2="791.74" stroke="#f29a3c" stroke-width="0.9"/>
<line x1="48.70" y1="789.97" x2="53.30" y2="789.97" stroke="#f29a3c" stroke-width="0.9"/>
<line x1="48.70" y1="791.74" x2="53.30" y2="791.74" stroke="#f29a3c" stroke-width="0.9"/>
<line x1="73.40" y1="785.30" x2="73.40" y2="788.63" stroke="#f29a3c" stroke-width="0.9"/>
<line x1="71.10" y1="785.30" x2="75.70" y2="785.30" stroke="#f29a3c" stroke-width="0.9"/>
<line x1="71.10" y1="788.63" x2="75.70" y2="788.63" stroke="#f29a3c" stroke-width="0.9"/>
<line x1="95.80" y1="771.07" x2="95.80" y2="779.96" stroke="#f29a3c" stroke-width="0.9"/>
<line x1="93.50" y1="771.07" x2="98.10" y2="771.07" stroke="#f29a3c" stroke-width="0.9"/>
<line x1="93.50" y1="779.96" x2="98.10" y2="779.96" stroke="#f29a3c" stroke-width="0.9"/>
<line x1="118.20" y1="759.96" x2="118.20" y2="773.30" stroke="#f29a3c" stroke-width="0.9"/>
<line x1="115.90" y1="759.96" x2="120.50" y2="759.96" stroke="#f29a3c" stroke-width="0.9"/>
<line x1="115.90" y1="773.30" x2="120.50" y2="773.30" stroke="#f29a3c" stroke-width="0.9"/>
<line x1="140.60" y1="748.74" x2="140.60" y2="762.07" stroke="#f29a3c" stroke-width="0.9"/>
<line x1="138.30" y1="748.74" x2="142.90" y2="748.74" stroke="#f29a3c" stroke-width="0.9"/>
<line x1="138.30" y1="762.07" x2="142.90" y2="762.07" stroke="#f29a3c" stroke-width="0.9"/>
<polygon points="51.00,788.32 53.07,790.85 51.00,793.38 48.93,790.85" fill="#f29a3c" stroke="#f29a3c" stroke-width="0"/>
<polygon points="73.40,784.44 75.47,786.97 73.40,789.50 71.33,786.97" fill="#f29a3c" stroke="#f29a3c" stroke-width="0"/>
<polygon points="95.80,772.99 97.87,775.52 95.80,778.05 93.73,775.52" fill="#f29a3c" stroke="#f29a3c" stroke-width="0"/>
<polygon points="118.20,764.10 120.27,766.63 118.20,769.16 116.13,766.63" fill="#f29a3c" stroke="#f29a3c" stroke-width="0"/>
<polygon points="140.60,752.88 142.67,755.41 140.60,757.94 138.53,755.41" fill="#f29a3c" stroke="#f29a3c" stroke-width="0"/>
<polyline points="51.00,787.52 73.40,784.19 95.80,769.85 118.20,759.07 140.60,744.96" fill="none" stroke="#2020f5" stroke-width="0.9"/>
<line x1="51.00" y1="786.19" x2="51.00" y2="788.85" stroke="#2020f5" stroke-width="0.9"/>
<line x1="48.70" y1="786.19" x2="53.30" y2="786.19" stroke="#2020f5" stroke-width="0.9"/>
<line x1="48.70" y1="788.85" x2="53.30" y2="788.85" stroke="#2020f5" stroke-width="0.9"/>
<line x1="73.40" y1="782.52" x2="73.40" y2="785.85" stroke="#2020f5" stroke-width="0.9"/>
<line x1="71.10" y1="782.52" x2="75.70" y2="782.52" stroke="#2020f5" stroke-width="0.9"/>
<line x1="71.10" y1="785.85" x2="75.70" y2="785.85" stroke="#2020f5" stroke-width="0.9"/>
<line x1="95.80" y1="760.63" x2="95.80" y2="779.08" stroke="#2020f5" stroke-width="0.9"/>
<line x1="93.50" y1="760.63" x2="98.10" y2="760.63" stroke="#2020f5" stroke-width="0.9"/>
<line x1="93.50" y1="779.08" x2="98.10" y2="779.08" stroke="#2020f5" stroke-width="0.9"/>
<line x1="118.20" y1="747.96" x2="118.20" y2="770.19" stroke="#2020f5" stroke-width="0.9"/>
<line x1="115.90" y1="747.96" x2="120.50" y2="747.96" stroke="#2020f5" stroke-width="0.9"/>
<line x1="115.90" y1="770.19" x2="120.50" y2="770.19" stroke="#2020f5" stroke-width="0.9"/>
<line x1="140.60" y1="736.07" x2="140.60" y2="753.85" stroke="#2020f5" stroke-width="0.9"/>
<line x1="138.30" y1="736.07" x2="142.90" y2="736.07" stroke="#2020f5" stroke-width="0.9"/>
<line x1="138.30" y1="753.85" x2="142.90" y2="753.85" stroke="#2020f5" stroke-width="0.9"/>
<polygon points="51.00,790.51 48.14,785.44 53.86,785.44" fill="#2020f5" stroke="#2020f5" stroke-width="0"/>
<polygon points="73.40,787.18 70.54,782.11 76.26,782.11" fill="#2020f5" stroke="#2020f5" stroke-width="0"/>
<polygon points="95.80,772.84 92.94,767.77 98.66,767.77" fill="#2020f5" stroke="#2020f5" stroke-width="0"/>
<polygon points="118.20,762.06 115.34,756.99 121.06,756.99" fill="#2020f5" stroke="#2020f5" stroke-width="0"/>
<polygon points="140.60,747.95 137.74,742.88 143.46,742.88" fill="#2020f5" stroke="#2020f5" stroke-width="0"/>
<polyline points="51.00,788.30 73.40,783.19 95.80,767.85 118.20,751.07 140.60,726.96" fill="none" stroke="#111111" stroke-width="0.9"/>
<line x1="51.00" y1="787.19" x2="51.00" y2="789.41" stroke="#111111" stroke-width="0.9"/>
<line x1="48.70" y1="787.19" x2="53.30" y2="787.19" stroke="#111111" stroke-width="0.9"/>
<line x1="48.70" y1="789.41" x2="53.30" y2="789.41" stroke="#111111" stroke-width="0.9"/>
<line x1="73.40" y1="781.52" x2="73.40" y2="784.85" stroke="#111111" stroke-width="0.9"/>
<line x1="71.10" y1="781.52" x2="75.70" y2="781.52" stroke="#111111" stroke-width="0.9"/>
<line x1="71.10" y1="784.85" x2="75.70" y2="784.85" stroke="#111111" stroke-width="0.9"/>
<line x1="95.80" y1="763.41" x2="95.80" y2="772.30" stroke="#111111" stroke-width="0.9"/>
<line x1="93.50" y1="763.41" x2="98.10" y2="763.41" stroke="#111111" stroke-width="0.9"/>
<line x1="93.50" y1="772.30" x2="98.10" y2="772.30" stroke="#111111" stroke-width="0.9"/>
<line x1="118.20" y1="745.74" x2="118.20" y2="756.41" stroke="#111111" stroke-width="0.9"/>
<line x1="115.90" y1="745.74" x2="120.50" y2="745.74" stroke="#111111" stroke-width="0.9"/>
<line x1="115.90" y1="756.41" x2="120.50" y2="756.41" stroke="#111111" stroke-width="0.9"/>
<line x1="140.60" y1="718.40" x2="140.60" y2="735.51" stroke="#111111" stroke-width="0.9"/>
<line x1="138.30" y1="718.40" x2="142.90" y2="718.40" stroke="#111111" stroke-width="0.9"/>
<line x1="138.30" y1="735.51" x2="142.90" y2="735.51" stroke="#111111" stroke-width="0.9"/>
<circle cx="51.00" cy="788.30" r="2.5" fill="#111111" stroke="#111111" stroke-width="0"/>
<circle cx="73.40" cy="783.19" r="2.5" fill="#111111" stroke="#111111" stroke-width="0"/>
<circle cx="95.80" cy="767.85" r="2.5" fill="#111111" stroke="#111111" stroke-width="0"/>
<circle cx="118.20" cy="751.07" r="2.5" fill="#111111" stroke="#111111" stroke-width="0"/>
<circle cx="140.60" cy="726.96" r="2.5" fill="#111111" stroke="#111111" stroke-width="0"/>
<text x="4.70" y="753.70" font-size="8.9" text-anchor="middle" fill="#111" transform="rotate(-90 4.70 750.50)">Tumor volume (mm<tspan font-size="5.5" dy="-3">3</tspan><tspan dy="3">)</tspan></text>
<text x="96.80" y="813.12" font-size="8.1" text-anchor="middle" font-weight="normal" fill="#222">Time (d)</text>
<text x="0" y="0" font-size="11" text-anchor="start" font-weight="bold" fill="#000" transform="translate(38.30 715.96) scale(0.86 1)">THP-1</text>
<line x1="146.40" y1="727.10" x2="146.40" y2="763.50" stroke="#222" stroke-width="1.0"/>
<line x1="153.00" y1="743.60" x2="153.00" y2="763.70" stroke="#222" stroke-width="1.0"/>
<line x1="160.10" y1="754.40" x2="160.10" y2="773.70" stroke="#222" stroke-width="1.0"/>
<text x="150.40" y="748.45" font-size="8.3" text-anchor="middle" fill="#222" transform="rotate(90 150.40 744.30)">***</text>
<text x="156.40" y="757.75" font-size="8.3" text-anchor="middle" fill="#222" transform="rotate(90 156.40 753.60)">***</text>
<text x="163.40" y="767.15" font-size="8.3" text-anchor="middle" fill="#222" transform="rotate(90 163.40 763.00)">***</text>
<line x1="211.00" y1="650.50" x2="220.70" y2="650.50" stroke="#111111" stroke-width="1.0"/>
<circle cx="215.85" cy="650.50" r="2.5" fill="#111111" stroke="#111111" stroke-width="0"/>
<text x="224.90" y="653.56" font-size="8.5" text-anchor="start" font-weight="normal" fill="#000">Vector</text>
<line x1="211.00" y1="660.50" x2="220.70" y2="660.50" stroke="#f23e3e" stroke-width="1.0"/>
<rect x="213.45" y="658.10" width="4.8" height="4.8" fill="#f23e3e" stroke="#f23e3e" stroke-width="0"/>
<text x="224.90" y="663.56" font-size="8.5" text-anchor="start" font-weight="normal" fill="#000">THRAP3</text>
<line x1="211.00" y1="670.50" x2="220.70" y2="670.50" stroke="#6ff5b8" stroke-width="1.0"/>
<polygon points="215.85,667.51 212.99,672.58 218.71,672.58" fill="#6ff5b8" stroke="#6ff5b8" stroke-width="0"/>
<text x="224.90" y="673.56" font-size="8.5" text-anchor="start" font-weight="normal" fill="#000">Vector+Fer-1</text>
<line x1="211.00" y1="680.50" x2="220.70" y2="680.50" stroke="#2020f5" stroke-width="1.0"/>
<polygon points="215.85,683.49 212.99,678.42 218.71,678.42" fill="#2020f5" stroke="#2020f5" stroke-width="0"/>
<text x="224.90" y="683.56" font-size="8.5" text-anchor="start" font-weight="normal" fill="#000">THRAP3+Fer-1</text>
<line x1="211.00" y1="690.50" x2="220.70" y2="690.50" stroke="#f29a3c" stroke-width="1.0"/>
<polygon points="215.85,687.97 217.92,690.50 215.85,693.03 213.78,690.50" fill="#f29a3c" stroke="#f29a3c" stroke-width="0"/>
<text x="224.90" y="693.56" font-size="8.5" text-anchor="start" font-weight="normal" fill="#000">Vector+RSL3</text>
<line x1="211.00" y1="700.50" x2="220.70" y2="700.50" stroke="#b44cf0" stroke-width="1.0"/>
<circle cx="215.85" cy="700.50" r="2.8" fill="#b44cf0" stroke="#b44cf0" stroke-width="0"/>
<text x="224.90" y="703.56" font-size="8.5" text-anchor="start" font-weight="normal" fill="#000">THRAP3+RSL3</text>
<line x1="206.90" y1="797.00" x2="206.90" y2="703.20" stroke="#333" stroke-width="0.9"/>
<line x1="203.90" y1="796.50" x2="206.90" y2="796.50" stroke="#333" stroke-width="0.9"/>
<text x="0" y="0" font-size="9.1" text-anchor="end" font-weight="normal" fill="#222" transform="translate(203.90 800.28) scale(0.87 1)">0</text>
<line x1="203.90" y1="780.95" x2="206.90" y2="780.95" stroke="#333" stroke-width="0.9"/>
<text x="0" y="0" font-size="9.1" text-anchor="end" font-weight="normal" fill="#222" transform="translate(203.90 784.73) scale(0.87 1)">200</text>
<line x1="203.90" y1="765.40" x2="206.90" y2="765.40" stroke="#333" stroke-width="0.9"/>
<text x="0" y="0" font-size="9.1" text-anchor="end" font-weight="normal" fill="#222" transform="translate(203.90 769.18) scale(0.87 1)">400</text>
<line x1="203.90" y1="749.85" x2="206.90" y2="749.85" stroke="#333" stroke-width="0.9"/>
<text x="0" y="0" font-size="9.1" text-anchor="end" font-weight="normal" fill="#222" transform="translate(203.90 753.63) scale(0.87 1)">600</text>
<line x1="203.90" y1="734.30" x2="206.90" y2="734.30" stroke="#333" stroke-width="0.9"/>
<text x="0" y="0" font-size="9.1" text-anchor="end" font-weight="normal" fill="#222" transform="translate(203.90 738.08) scale(0.87 1)">800</text>
<line x1="203.90" y1="718.75" x2="206.90" y2="718.75" stroke="#333" stroke-width="0.9"/>
<text x="0" y="0" font-size="9.1" text-anchor="end" font-weight="normal" fill="#222" transform="translate(203.90 722.53) scale(0.87 1)">1000</text>
<line x1="203.90" y1="703.20" x2="206.90" y2="703.20" stroke="#333" stroke-width="0.9"/>
<text x="0" y="0" font-size="9.1" text-anchor="end" font-weight="normal" fill="#222" transform="translate(203.90 706.98) scale(0.87 1)">1200</text>
<line x1="206.90" y1="796.50" x2="337.10" y2="796.50" stroke="#333" stroke-width="0.9"/>
<line x1="206.90" y1="796.50" x2="206.90" y2="799.00" stroke="#333" stroke-width="0.9"/>
<text x="0" y="0" font-size="9.1" text-anchor="middle" font-weight="normal" fill="#222" transform="translate(206.90 806.98) scale(0.87 1)">0</text>
<line x1="228.60" y1="796.50" x2="228.60" y2="799.00" stroke="#333" stroke-width="0.9"/>
<text x="0" y="0" font-size="9.1" text-anchor="middle" font-weight="normal" fill="#222" transform="translate(228.60 806.98) scale(0.87 1)">5</text>
<line x1="250.30" y1="796.50" x2="250.30" y2="799.00" stroke="#333" stroke-width="0.9"/>
<text x="0" y="0" font-size="9.1" text-anchor="middle" font-weight="normal" fill="#222" transform="translate(250.30 806.98) scale(0.87 1)">10</text>
<line x1="272.00" y1="796.50" x2="272.00" y2="799.00" stroke="#333" stroke-width="0.9"/>
<text x="0" y="0" font-size="9.1" text-anchor="middle" font-weight="normal" fill="#222" transform="translate(272.00 806.98) scale(0.87 1)">15</text>
<line x1="293.70" y1="796.50" x2="293.70" y2="799.00" stroke="#333" stroke-width="0.9"/>
<text x="0" y="0" font-size="9.1" text-anchor="middle" font-weight="normal" fill="#222" transform="translate(293.70 806.98) scale(0.87 1)">20</text>
<line x1="315.40" y1="796.50" x2="315.40" y2="799.00" stroke="#333" stroke-width="0.9"/>
<text x="0" y="0" font-size="9.1" text-anchor="middle" font-weight="normal" fill="#222" transform="translate(315.40 806.98) scale(0.87 1)">25</text>
<line x1="337.10" y1="796.50" x2="337.10" y2="799.00" stroke="#333" stroke-width="0.9"/>
<text x="0" y="0" font-size="9.1" text-anchor="middle" font-weight="normal" fill="#222" transform="translate(337.10 806.98) scale(0.87 1)">30</text>
<polyline points="228.60,794.63 250.30,791.99 272.00,787.95 293.70,784.06 315.40,779.16" fill="none" stroke="#f29a3c" stroke-width="0.9"/>
<line x1="228.60" y1="794.25" x2="228.60" y2="795.02" stroke="#f29a3c" stroke-width="0.9"/>
<line x1="226.30" y1="794.25" x2="230.90" y2="794.25" stroke="#f29a3c" stroke-width="0.9"/>
<line x1="226.30" y1="795.02" x2="230.90" y2="795.02" stroke="#f29a3c" stroke-width="0.9"/>
<line x1="250.30" y1="791.21" x2="250.30" y2="792.77" stroke="#f29a3c" stroke-width="0.9"/>
<line x1="248.00" y1="791.21" x2="252.60" y2="791.21" stroke="#f29a3c" stroke-width="0.9"/>
<line x1="248.00" y1="792.77" x2="252.60" y2="792.77" stroke="#f29a3c" stroke-width="0.9"/>
<line x1="272.00" y1="786.78" x2="272.00" y2="789.11" stroke="#f29a3c" stroke-width="0.9"/>
<line x1="269.70" y1="786.78" x2="274.30" y2="786.78" stroke="#f29a3c" stroke-width="0.9"/>
<line x1="269.70" y1="789.11" x2="274.30" y2="789.11" stroke="#f29a3c" stroke-width="0.9"/>
<line x1="293.70" y1="782.12" x2="293.70" y2="786.00" stroke="#f29a3c" stroke-width="0.9"/>
<line x1="291.40" y1="782.12" x2="296.00" y2="782.12" stroke="#f29a3c" stroke-width="0.9"/>
<line x1="291.40" y1="786.00" x2="296.00" y2="786.00" stroke="#f29a3c" stroke-width="0.9"/>
<line x1="315.40" y1="775.66" x2="315.40" y2="782.66" stroke="#f29a3c" stroke-width="0.9"/>
<line x1="313.10" y1="775.66" x2="317.70" y2="775.66" stroke="#f29a3c" stroke-width="0.9"/>
<line x1="313.10" y1="782.66" x2="317.70" y2="782.66" stroke="#f29a3c" stroke-width="0.9"/>
<polygon points="228.60,792.10 230.67,794.63 228.60,797.16 226.53,794.63" fill="#f29a3c" stroke="#f29a3c" stroke-width="0"/>
<polygon points="250.30,789.46 252.37,791.99 250.30,794.52 248.23,791.99" fill="#f29a3c" stroke="#f29a3c" stroke-width="0"/>
<polygon points="272.00,785.42 274.07,787.95 272.00,790.48 269.93,787.95" fill="#f29a3c" stroke="#f29a3c" stroke-width="0"/>
<polygon points="293.70,781.53 295.77,784.06 293.70,786.59 291.63,784.06" fill="#f29a3c" stroke="#f29a3c" stroke-width="0"/>
<polygon points="315.40,776.63 317.47,779.16 315.40,781.69 313.33,779.16" fill="#f29a3c" stroke="#f29a3c" stroke-width="0"/>
<polyline points="228.60,791.99 250.30,785.77 272.00,779.71 293.70,771.00 315.40,760.81" fill="none" stroke="#b44cf0" stroke-width="0.9"/>
<line x1="228.60" y1="791.21" x2="228.60" y2="792.77" stroke="#b44cf0" stroke-width="0.9"/>
<line x1="226.30" y1="791.21" x2="230.90" y2="791.21" stroke="#b44cf0" stroke-width="0.9"/>
<line x1="226.30" y1="792.77" x2="230.90" y2="792.77" stroke="#b44cf0" stroke-width="0.9"/>
<line x1="250.30" y1="784.60" x2="250.30" y2="786.94" stroke="#b44cf0" stroke-width="0.9"/>
<line x1="248.00" y1="784.60" x2="252.60" y2="784.60" stroke="#b44cf0" stroke-width="0.9"/>
<line x1="248.00" y1="786.94" x2="252.60" y2="786.94" stroke="#b44cf0" stroke-width="0.9"/>
<line x1="272.00" y1="776.98" x2="272.00" y2="782.43" stroke="#b44cf0" stroke-width="0.9"/>
<line x1="269.70" y1="776.98" x2="274.30" y2="776.98" stroke="#b44cf0" stroke-width="0.9"/>
<line x1="269.70" y1="782.43" x2="274.30" y2="782.43" stroke="#b44cf0" stroke-width="0.9"/>
<line x1="293.70" y1="766.33" x2="293.70" y2="775.66" stroke="#b44cf0" stroke-width="0.9"/>
<line x1="291.40" y1="766.33" x2="296.00" y2="766.33" stroke="#b44cf0" stroke-width="0.9"/>
<line x1="291.40" y1="775.66" x2="296.00" y2="775.66" stroke="#b44cf0" stroke-width="0.9"/>
<line x1="315.40" y1="754.98" x2="315.40" y2="766.64" stroke="#b44cf0" stroke-width="0.9"/>
<line x1="313.10" y1="754.98" x2="317.70" y2="754.98" stroke="#b44cf0" stroke-width="0.9"/>
<line x1="313.10" y1="766.64" x2="317.70" y2="766.64" stroke="#b44cf0" stroke-width="0.9"/>
<circle cx="228.60" cy="791.99" r="2.8" fill="#b44cf0" stroke="#b44cf0" stroke-width="0"/>
<circle cx="250.30" cy="785.77" r="2.8" fill="#b44cf0" stroke="#b44cf0" stroke-width="0"/>
<circle cx="272.00" cy="779.71" r="2.8" fill="#b44cf0" stroke="#b44cf0" stroke-width="0"/>
<circle cx="293.70" cy="771.00" r="2.8" fill="#b44cf0" stroke="#b44cf0" stroke-width="0"/>
<circle cx="315.40" cy="760.81" r="2.8" fill="#b44cf0" stroke="#b44cf0" stroke-width="0"/>
<polyline points="228.60,791.06 250.30,784.06 272.00,774.73 293.70,764.78 315.40,752.57" fill="none" stroke="#6ff5b8" stroke-width="0.9"/>
<line x1="228.60" y1="790.28" x2="228.60" y2="791.84" stroke="#6ff5b8" stroke-width="0.9"/>
<line x1="226.30" y1="790.28" x2="230.90" y2="790.28" stroke="#6ff5b8" stroke-width="0.9"/>
<line x1="226.30" y1="791.84" x2="230.90" y2="791.84" stroke="#6ff5b8" stroke-width="0.9"/>
<line x1="250.30" y1="782.89" x2="250.30" y2="785.23" stroke="#6ff5b8" stroke-width="0.9"/>
<line x1="248.00" y1="782.89" x2="252.60" y2="782.89" stroke="#6ff5b8" stroke-width="0.9"/>
<line x1="248.00" y1="785.23" x2="252.60" y2="785.23" stroke="#6ff5b8" stroke-width="0.9"/>
<line x1="272.00" y1="771.62" x2="272.00" y2="777.84" stroke="#6ff5b8" stroke-width="0.9"/>
<line x1="269.70" y1="771.62" x2="274.30" y2="771.62" stroke="#6ff5b8" stroke-width="0.9"/>
<line x1="269.70" y1="777.84" x2="274.30" y2="777.84" stroke="#6ff5b8" stroke-width="0.9"/>
<line x1="293.70" y1="760.11" x2="293.70" y2="769.44" stroke="#6ff5b8" stroke-width="0.9"/>
<line x1="291.40" y1="760.11" x2="296.00" y2="760.11" stroke="#6ff5b8" stroke-width="0.9"/>
<line x1="291.40" y1="769.44" x2="296.00" y2="769.44" stroke="#6ff5b8" stroke-width="0.9"/>
<line x1="315.40" y1="746.35" x2="315.40" y2="758.79" stroke="#6ff5b8" stroke-width="0.9"/>
<line x1="313.10" y1="746.35" x2="317.70" y2="746.35" stroke="#6ff5b8" stroke-width="0.9"/>
<line x1="313.10" y1="758.79" x2="317.70" y2="758.79" stroke="#6ff5b8" stroke-width="0.9"/>
<polygon points="228.60,788.07 225.74,793.14 231.46,793.14" fill="#6ff5b8" stroke="#6ff5b8" stroke-width="0"/>
<polygon points="250.30,781.07 247.44,786.14 253.16,786.14" fill="#6ff5b8" stroke="#6ff5b8" stroke-width="0"/>
<polygon points="272.00,771.74 269.14,776.81 274.86,776.81" fill="#6ff5b8" stroke="#6ff5b8" stroke-width="0"/>
<polygon points="293.70,761.79 290.84,766.86 296.56,766.86" fill="#6ff5b8" stroke="#6ff5b8" stroke-width="0"/>
<polygon points="315.40,749.58 312.54,754.65 318.26,754.65" fill="#6ff5b8" stroke="#6ff5b8" stroke-width="0"/>
<polyline points="228.60,790.67 250.30,784.99 272.00,775.27 293.70,763.38 315.40,749.07" fill="none" stroke="#111111" stroke-width="0.9"/>
<line x1="228.60" y1="789.89" x2="228.60" y2="791.45" stroke="#111111" stroke-width="0.9"/>
<line x1="226.30" y1="789.89" x2="230.90" y2="789.89" stroke="#111111" stroke-width="0.9"/>
<line x1="226.30" y1="791.45" x2="230.90" y2="791.45" stroke="#111111" stroke-width="0.9"/>
<line x1="250.30" y1="783.83" x2="250.30" y2="786.16" stroke="#111111" stroke-width="0.9"/>
<line x1="248.00" y1="783.83" x2="252.60" y2="783.83" stroke="#111111" stroke-width="0.9"/>
<line x1="248.00" y1="786.16" x2="252.60" y2="786.16" stroke="#111111" stroke-width="0.9"/>
<line x1="272.00" y1="772.16" x2="272.00" y2="778.38" stroke="#111111" stroke-width="0.9"/>
<line x1="269.70" y1="772.16" x2="274.30" y2="772.16" stroke="#111111" stroke-width="0.9"/>
<line x1="269.70" y1="778.38" x2="274.30" y2="778.38" stroke="#111111" stroke-width="0.9"/>
<line x1="293.70" y1="758.71" x2="293.70" y2="768.04" stroke="#111111" stroke-width="0.9"/>
<line x1="291.40" y1="758.71" x2="296.00" y2="758.71" stroke="#111111" stroke-width="0.9"/>
<line x1="291.40" y1="768.04" x2="296.00" y2="768.04" stroke="#111111" stroke-width="0.9"/>
<line x1="315.40" y1="742.85" x2="315.40" y2="755.29" stroke="#111111" stroke-width="0.9"/>
<line x1="313.10" y1="742.85" x2="317.70" y2="742.85" stroke="#111111" stroke-width="0.9"/>
<line x1="313.10" y1="755.29" x2="317.70" y2="755.29" stroke="#111111" stroke-width="0.9"/>
<circle cx="228.60" cy="790.67" r="2.5" fill="#111111" stroke="#111111" stroke-width="0"/>
<circle cx="250.30" cy="784.99" r="2.5" fill="#111111" stroke="#111111" stroke-width="0"/>
<circle cx="272.00" cy="775.27" r="2.5" fill="#111111" stroke="#111111" stroke-width="0"/>
<circle cx="293.70" cy="763.38" r="2.5" fill="#111111" stroke="#111111" stroke-width="0"/>
<circle cx="315.40" cy="749.07" r="2.5" fill="#111111" stroke="#111111" stroke-width="0"/>
<polyline points="228.60,788.10 250.30,779.71 272.00,764.00 293.70,749.07 315.40,734.22" fill="none" stroke="#f23e3e" stroke-width="0.9"/>
<line x1="228.60" y1="786.94" x2="228.60" y2="789.27" stroke="#f23e3e" stroke-width="0.9"/>
<line x1="226.30" y1="786.94" x2="230.90" y2="786.94" stroke="#f23e3e" stroke-width="0.9"/>
<line x1="226.30" y1="789.27" x2="230.90" y2="789.27" stroke="#f23e3e" stroke-width="0.9"/>
<line x1="250.30" y1="777.37" x2="250.30" y2="782.04" stroke="#f23e3e" stroke-width="0.9"/>
<line x1="248.00" y1="777.37" x2="252.60" y2="777.37" stroke="#f23e3e" stroke-width="0.9"/>
<line x1="248.00" y1="782.04" x2="252.60" y2="782.04" stroke="#f23e3e" stroke-width="0.9"/>
<line x1="272.00" y1="757.78" x2="272.00" y2="770.22" stroke="#f23e3e" stroke-width="0.9"/>
<line x1="269.70" y1="757.78" x2="274.30" y2="757.78" stroke="#f23e3e" stroke-width="0.9"/>
<line x1="269.70" y1="770.22" x2="274.30" y2="770.22" stroke="#f23e3e" stroke-width="0.9"/>
<line x1="293.70" y1="737.64" x2="293.70" y2="760.50" stroke="#f23e3e" stroke-width="0.9"/>
<line x1="291.40" y1="737.64" x2="296.00" y2="737.64" stroke="#f23e3e" stroke-width="0.9"/>
<line x1="291.40" y1="760.50" x2="296.00" y2="760.50" stroke="#f23e3e" stroke-width="0.9"/>
<line x1="315.40" y1="726.45" x2="315.40" y2="742.00" stroke="#f23e3e" stroke-width="0.9"/>
<line x1="313.10" y1="726.45" x2="317.70" y2="726.45" stroke="#f23e3e" stroke-width="0.9"/>
<line x1="313.10" y1="742.00" x2="317.70" y2="742.00" stroke="#f23e3e" stroke-width="0.9"/>
<rect x="226.20" y="785.70" width="4.8" height="4.8" fill="#f23e3e" stroke="#f23e3e" stroke-width="0"/>
<rect x="247.90" y="777.31" width="4.8" height="4.8" fill="#f23e3e" stroke="#f23e3e" stroke-width="0"/>
<rect x="269.60" y="761.60" width="4.8" height="4.8" fill="#f23e3e" stroke="#f23e3e" stroke-width="0"/>
<rect x="291.30" y="746.67" width="4.8" height="4.8" fill="#f23e3e" stroke="#f23e3e" stroke-width="0"/>
<rect x="313.00" y="731.82" width="4.8" height="4.8" fill="#f23e3e" stroke="#f23e3e" stroke-width="0"/>
<polyline points="228.60,788.10 250.30,777.06 272.00,763.38 293.70,740.60 315.40,724.50" fill="none" stroke="#2020f5" stroke-width="0.9"/>
<line x1="228.60" y1="786.94" x2="228.60" y2="789.27" stroke="#2020f5" stroke-width="0.9"/>
<line x1="226.30" y1="786.94" x2="230.90" y2="786.94" stroke="#2020f5" stroke-width="0.9"/>
<line x1="226.30" y1="789.27" x2="230.90" y2="789.27" stroke="#2020f5" stroke-width="0.9"/>
<line x1="250.30" y1="773.95" x2="250.30" y2="780.17" stroke="#2020f5" stroke-width="0.9"/>
<line x1="248.00" y1="773.95" x2="252.60" y2="773.95" stroke="#2020f5" stroke-width="0.9"/>
<line x1="248.00" y1="780.17" x2="252.60" y2="780.17" stroke="#2020f5" stroke-width="0.9"/>
<line x1="272.00" y1="757.47" x2="272.00" y2="769.29" stroke="#2020f5" stroke-width="0.9"/>
<line x1="269.70" y1="757.47" x2="274.30" y2="757.47" stroke="#2020f5" stroke-width="0.9"/>
<line x1="269.70" y1="769.29" x2="274.30" y2="769.29" stroke="#2020f5" stroke-width="0.9"/>
<line x1="293.70" y1="732.43" x2="293.70" y2="748.76" stroke="#2020f5" stroke-width="0.9"/>
<line x1="291.40" y1="732.43" x2="296.00" y2="732.43" stroke="#2020f5" stroke-width="0.9"/>
<line x1="291.40" y1="748.76" x2="296.00" y2="748.76" stroke="#2020f5" stroke-width="0.9"/>
<line x1="315.40" y1="717.97" x2="315.40" y2="731.03" stroke="#2020f5" stroke-width="0.9"/>
<line x1="313.10" y1="717.97" x2="317.70" y2="717.97" stroke="#2020f5" stroke-width="0.9"/>
<line x1="313.10" y1="731.03" x2="317.70" y2="731.03" stroke="#2020f5" stroke-width="0.9"/>
<polygon points="228.60,791.09 225.74,786.02 231.46,786.02" fill="#2020f5" stroke="#2020f5" stroke-width="0"/>
<polygon points="250.30,780.05 247.44,774.98 253.16,774.98" fill="#2020f5" stroke="#2020f5" stroke-width="0"/>
<polygon points="272.00,766.37 269.14,761.30 274.86,761.30" fill="#2020f5" stroke="#2020f5" stroke-width="0"/>
<polygon points="293.70,743.59 290.84,738.52 296.56,738.52" fill="#2020f5" stroke="#2020f5" stroke-width="0"/>
<polygon points="315.40,727.49 312.54,722.42 318.26,722.42" fill="#2020f5" stroke="#2020f5" stroke-width="0"/>
<text x="181.30" y="753.80" font-size="8.9" text-anchor="middle" fill="#111" transform="rotate(-90 181.30 750.60)">Tumor volume (mm<tspan font-size="5.5" dy="-3">3</tspan><tspan dy="3">)</tspan></text>
<text x="280.60" y="813.12" font-size="8.1" text-anchor="middle" font-weight="normal" fill="#222">Time (d)</text>
<text x="0" y="0" font-size="11" text-anchor="start" font-weight="bold" fill="#000" transform="translate(213.50 717.66) scale(0.877 1)">HL-60</text>
<line x1="334.80" y1="723.70" x2="334.80" y2="733.30" stroke="#222" stroke-width="1.0"/>
<line x1="325.50" y1="734.20" x2="325.50" y2="749.10" stroke="#222" stroke-width="1.0"/>
<line x1="323.40" y1="760.40" x2="323.40" y2="777.10" stroke="#222" stroke-width="1.0"/>
<text x="337.60" y="732.65" font-size="8.3" text-anchor="middle" fill="#222" transform="rotate(90 337.60 728.50)">*</text>
<text x="329.20" y="745.75" font-size="8.3" text-anchor="middle" fill="#222" transform="rotate(90 329.20 741.60)">**</text>
<text x="327.60" y="773.35" font-size="8.3" text-anchor="middle" fill="#222" transform="rotate(90 327.60 769.20)">**</text>
<text x="341.00" y="658.00" font-size="15" font-weight="bold" fill="#000">F</text>
<rect x="382.30" y="645.60" width="11.00" height="4.60" fill="#92c1f0"/>
<text x="394.90" y="650.96" font-size="8.5" text-anchor="start" font-weight="normal" fill="#000">sgNC</text>
<rect x="382.30" y="656.10" width="11.00" height="4.60" fill="#f23e3e"/>
<text x="394.90" y="661.46" font-size="8.5" text-anchor="start" font-weight="normal" fill="#000">sgTHRAP3</text>
<rect x="382.30" y="666.60" width="11.00" height="4.60" fill="#6ff8c0"/>
<text x="394.90" y="671.96" font-size="8.5" text-anchor="start" font-weight="normal" fill="#000">sgNC+Fer-1</text>
<rect x="382.30" y="677.10" width="11.00" height="4.60" fill="#0a0af5"/>
<text x="394.90" y="682.46" font-size="8.5" text-anchor="start" font-weight="normal" fill="#000">sgTHRAP3+Fer-1</text>
<rect x="382.30" y="687.60" width="11.00" height="4.60" fill="#f0a04c"/>
<text x="394.90" y="692.96" font-size="8.5" text-anchor="start" font-weight="normal" fill="#000">sgNC+RSL3</text>
<rect x="382.30" y="698.10" width="11.00" height="4.60" fill="#b45cf0"/>
<text x="394.90" y="703.46" font-size="8.5" text-anchor="start" font-weight="normal" fill="#000">sgTHRAP3+RSL3</text>
<rect x="387.30" y="730.91" width="13.60" height="73.39" fill="#92c1f0"/>
<rect x="408.80" y="770.46" width="13.60" height="33.84" fill="#f23e3e"/>
<rect x="430.90" y="736.61" width="13.60" height="67.69" fill="#6ff8c0"/>
<rect x="452.70" y="750.39" width="13.60" height="53.91" fill="#0a0af5"/>
<rect x="474.40" y="760.60" width="13.60" height="43.70" fill="#f0a04c"/>
<rect x="496.20" y="782.21" width="13.60" height="22.09" fill="#b45cf0"/>
<line x1="394.10" y1="721.41" x2="394.10" y2="740.41" stroke="#111" stroke-width="0.8"/>
<line x1="392.10" y1="721.41" x2="396.10" y2="721.41" stroke="#111" stroke-width="0.8"/>
<line x1="392.10" y1="740.41" x2="396.10" y2="740.41" stroke="#111" stroke-width="0.8"/>
<line x1="415.60" y1="766.30" x2="415.60" y2="774.61" stroke="#111" stroke-width="0.8"/>
<line x1="413.60" y1="766.30" x2="417.60" y2="766.30" stroke="#111" stroke-width="0.8"/>
<line x1="413.60" y1="774.61" x2="417.60" y2="774.61" stroke="#111" stroke-width="0.8"/>
<line x1="437.70" y1="730.08" x2="437.70" y2="743.14" stroke="#111" stroke-width="0.8"/>
<line x1="435.70" y1="730.08" x2="439.70" y2="730.08" stroke="#111" stroke-width="0.8"/>
<line x1="435.70" y1="743.14" x2="439.70" y2="743.14" stroke="#111" stroke-width="0.8"/>
<line x1="459.50" y1="739.70" x2="459.50" y2="761.07" stroke="#111" stroke-width="0.8"/>
<line x1="457.50" y1="739.70" x2="461.50" y2="739.70" stroke="#111" stroke-width="0.8"/>
<line x1="457.50" y1="761.07" x2="461.50" y2="761.07" stroke="#111" stroke-width="0.8"/>
<line x1="481.20" y1="752.29" x2="481.20" y2="768.91" stroke="#111" stroke-width="0.8"/>
<line x1="479.20" y1="752.29" x2="483.20" y2="752.29" stroke="#111" stroke-width="0.8"/>
<line x1="479.20" y1="768.91" x2="483.20" y2="768.91" stroke="#111" stroke-width="0.8"/>
<line x1="503.00" y1="776.87" x2="503.00" y2="787.56" stroke="#111" stroke-width="0.8"/>
<line x1="501.00" y1="776.87" x2="505.00" y2="776.87" stroke="#111" stroke-width="0.8"/>
<line x1="501.00" y1="787.56" x2="505.00" y2="787.56" stroke="#111" stroke-width="0.8"/>
<circle cx="394.10" cy="720.11" r="2.2" fill="#111" stroke="#111" stroke-width="0"/>
<circle cx="388.40" cy="726.40" r="2.2" fill="#111" stroke="#111" stroke-width="0"/>
<circle cx="394.10" cy="726.40" r="2.2" fill="#111" stroke="#111" stroke-width="0"/>
<circle cx="399.60" cy="726.40" r="2.2" fill="#111" stroke="#111" stroke-width="0"/>
<circle cx="394.10" cy="734.47" r="2.2" fill="#111" stroke="#111" stroke-width="0"/>
<circle cx="394.10" cy="747.30" r="2.2" fill="#111" stroke="#111" stroke-width="0"/>
<rect x="407.90" y="763.51" width="4.4" height="4.4" fill="#111" stroke="#111" stroke-width="0"/>
<rect x="418.90" y="763.51" width="4.4" height="4.4" fill="#111" stroke="#111" stroke-width="0"/>
<rect x="413.40" y="766.47" width="4.4" height="4.4" fill="#111" stroke="#111" stroke-width="0"/>
<rect x="413.40" y="768.85" width="4.4" height="4.4" fill="#111" stroke="#111" stroke-width="0"/>
<rect x="407.90" y="771.22" width="4.4" height="4.4" fill="#111" stroke="#111" stroke-width="0"/>
<rect x="418.90" y="771.22" width="4.4" height="4.4" fill="#111" stroke="#111" stroke-width="0"/>
<polygon points="432.20,727.43 429.78,731.72 434.62,731.72" fill="#111" stroke="#111" stroke-width="0"/>
<polygon points="443.20,727.43 440.78,731.72 445.62,731.72" fill="#111" stroke="#111" stroke-width="0"/>
<polygon points="437.70,729.33 435.28,733.62 440.12,733.62" fill="#111" stroke="#111" stroke-width="0"/>
<polygon points="437.70,734.68 435.28,738.97 440.12,738.97" fill="#111" stroke="#111" stroke-width="0"/>
<polygon points="432.20,740.02 429.78,744.31 434.62,744.31" fill="#111" stroke="#111" stroke-width="0"/>
<polygon points="443.20,740.02 440.78,744.31 445.62,744.31" fill="#111" stroke="#111" stroke-width="0"/>
<polygon points="456.50,740.33 454.08,736.04 458.92,736.04" fill="#111" stroke="#111" stroke-width="0"/>
<polygon points="454.00,745.08 451.58,740.79 456.42,740.79" fill="#111" stroke="#111" stroke-width="0"/>
<polygon points="465.00,745.08 462.58,740.79 467.42,740.79" fill="#111" stroke="#111" stroke-width="0"/>
<polygon points="459.50,756.95 457.08,752.66 461.92,752.66" fill="#111" stroke="#111" stroke-width="0"/>
<polygon points="458.50,764.08 456.08,759.79 460.92,759.79" fill="#111" stroke="#111" stroke-width="0"/>
<polygon points="460.50,764.08 458.08,759.79 462.92,759.79" fill="#111" stroke="#111" stroke-width="0"/>
<polygon points="481.20,746.42 483.18,748.84 481.20,751.26 479.22,748.84" fill="#111" stroke="#111" stroke-width="0"/>
<polygon points="481.20,750.82 483.18,753.24 481.20,755.66 479.22,753.24" fill="#111" stroke="#111" stroke-width="0"/>
<polygon points="481.20,757.94 483.18,760.36 481.20,762.78 479.22,760.36" fill="#111" stroke="#111" stroke-width="0"/>
<polygon points="475.70,765.07 477.68,767.49 475.70,769.91 473.72,767.49" fill="#111" stroke="#111" stroke-width="0"/>
<polygon points="481.20,765.07 483.18,767.49 481.20,769.91 479.22,767.49" fill="#111" stroke="#111" stroke-width="0"/>
<polygon points="486.70,765.07 488.68,767.49 486.70,769.91 484.72,767.49" fill="#111" stroke="#111" stroke-width="0"/>
<circle cx="502.00" cy="772.47" r="2.2" fill="#fff" stroke="#111" stroke-width="1.0"/>
<circle cx="499.00" cy="777.70" r="2.2" fill="#fff" stroke="#111" stroke-width="1.0"/>
<circle cx="507.00" cy="777.70" r="2.2" fill="#fff" stroke="#111" stroke-width="1.0"/>
<circle cx="507.00" cy="781.74" r="2.2" fill="#fff" stroke="#111" stroke-width="1.0"/>
<circle cx="497.50" cy="786.96" r="2.2" fill="#fff" stroke="#111" stroke-width="1.0"/>
<circle cx="503.00" cy="786.96" r="2.2" fill="#fff" stroke="#111" stroke-width="1.0"/>
<circle cx="509.00" cy="786.96" r="2.2" fill="#fff" stroke="#111" stroke-width="1.0"/>
<line x1="379.40" y1="804.80" x2="379.40" y2="709.30" stroke="#333" stroke-width="0.9"/>
<line x1="376.40" y1="804.30" x2="379.40" y2="804.30" stroke="#333" stroke-width="0.9"/>
<text x="377.20" y="807.93" font-size="8.7" text-anchor="end" font-weight="normal" fill="#222">0.0</text>
<line x1="376.40" y1="780.55" x2="379.40" y2="780.55" stroke="#333" stroke-width="0.9"/>
<text x="377.20" y="784.18" font-size="8.7" text-anchor="end" font-weight="normal" fill="#222">0.2</text>
<line x1="376.40" y1="756.80" x2="379.40" y2="756.80" stroke="#333" stroke-width="0.9"/>
<text x="377.20" y="760.43" font-size="8.7" text-anchor="end" font-weight="normal" fill="#222">0.4</text>
<line x1="376.40" y1="733.05" x2="379.40" y2="733.05" stroke="#333" stroke-width="0.9"/>
<text x="377.20" y="736.68" font-size="8.7" text-anchor="end" font-weight="normal" fill="#222">0.6</text>
<line x1="376.40" y1="709.30" x2="379.40" y2="709.30" stroke="#333" stroke-width="0.9"/>
<text x="377.20" y="712.93" font-size="8.7" text-anchor="end" font-weight="normal" fill="#222">0.8</text>
<line x1="379.40" y1="804.30" x2="515.00" y2="804.30" stroke="#333" stroke-width="0.9"/>
<line x1="394.10" y1="804.30" x2="394.10" y2="807.30" stroke="#333" stroke-width="0.9"/>
<line x1="415.60" y1="804.30" x2="415.60" y2="807.30" stroke="#333" stroke-width="0.9"/>
<line x1="437.70" y1="804.30" x2="437.70" y2="807.30" stroke="#333" stroke-width="0.9"/>
<line x1="459.50" y1="804.30" x2="459.50" y2="807.30" stroke="#333" stroke-width="0.9"/>
<line x1="481.20" y1="804.30" x2="481.20" y2="807.30" stroke="#333" stroke-width="0.9"/>
<line x1="503.00" y1="804.30" x2="503.00" y2="807.30" stroke="#333" stroke-width="0.9"/>
<text x="359.00" y="762.00" font-size="10" text-anchor="middle" fill="#111" transform="rotate(-90 359.00 758.40)">Tumor weight (g)</text>
<text x="0" y="0" font-size="10.5" text-anchor="middle" font-weight="bold" fill="#000" transform="translate(448.90 816.68) scale(0.93 1)">THP-1</text>
<polyline points="394.10,717.50 394.10,711.50 415.60,711.50 415.60,747.20" fill="none" stroke="#555" stroke-width="0.8"/>
<text x="405.40" y="712.95" font-size="8.3" text-anchor="middle" fill="#222">***</text>
<polyline points="415.60,735.90 415.60,724.60 459.50,724.60 459.50,728.00" fill="none" stroke="#555" stroke-width="0.8"/>
<text x="440.00" y="725.65" font-size="8.3" text-anchor="middle" fill="#222">**</text>
<polyline points="481.20,750.40 481.20,743.00 503.00,743.00 503.00,771.40" fill="none" stroke="#555" stroke-width="0.8"/>
<text x="492.60" y="743.95" font-size="8.3" text-anchor="middle" fill="#222">***</text>
<rect x="548.40" y="645.60" width="11.00" height="4.60" fill="#92c1f0"/>
<text x="560.70" y="650.96" font-size="8.5" text-anchor="start" font-weight="normal" fill="#000">Vector</text>
<rect x="548.40" y="656.00" width="11.00" height="4.60" fill="#f23e3e"/>
<text x="560.70" y="661.36" font-size="8.5" text-anchor="start" font-weight="normal" fill="#000">THRAP3</text>
<rect x="548.40" y="666.40" width="11.00" height="4.60" fill="#6ff8c0"/>
<text x="560.70" y="671.76" font-size="8.5" text-anchor="start" font-weight="normal" fill="#000">Vector+Fer-1</text>
<rect x="548.40" y="676.80" width="11.00" height="4.60" fill="#0a0af5"/>
<text x="560.70" y="682.16" font-size="8.5" text-anchor="start" font-weight="normal" fill="#000">THRAP3+Fer-1</text>
<rect x="548.40" y="687.20" width="11.00" height="4.60" fill="#f0a04c"/>
<text x="560.70" y="692.56" font-size="8.5" text-anchor="start" font-weight="normal" fill="#000">Vector+RSL3</text>
<rect x="548.40" y="697.60" width="11.00" height="4.60" fill="#b45cf0"/>
<text x="560.70" y="702.96" font-size="8.5" text-anchor="start" font-weight="normal" fill="#000">THRAP3+RSL3</text>
<rect x="552.60" y="757.80" width="13.60" height="46.90" fill="#92c1f0"/>
<rect x="574.40" y="742.17" width="13.60" height="62.53" fill="#f23e3e"/>
<rect x="596.20" y="759.75" width="13.60" height="44.95" fill="#6ff8c0"/>
<rect x="617.70" y="732.40" width="13.60" height="72.30" fill="#0a0af5"/>
<rect x="639.60" y="787.50" width="13.60" height="17.20" fill="#f0a04c"/>
<rect x="661.10" y="768.35" width="13.60" height="36.35" fill="#b45cf0"/>
<line x1="559.40" y1="750.76" x2="559.40" y2="764.84" stroke="#111" stroke-width="0.8"/>
<line x1="557.40" y1="750.76" x2="561.40" y2="750.76" stroke="#111" stroke-width="0.8"/>
<line x1="557.40" y1="764.84" x2="561.40" y2="764.84" stroke="#111" stroke-width="0.8"/>
<line x1="581.20" y1="734.35" x2="581.20" y2="749.98" stroke="#111" stroke-width="0.8"/>
<line x1="579.20" y1="734.35" x2="583.20" y2="734.35" stroke="#111" stroke-width="0.8"/>
<line x1="579.20" y1="749.98" x2="583.20" y2="749.98" stroke="#111" stroke-width="0.8"/>
<line x1="603.00" y1="754.28" x2="603.00" y2="765.23" stroke="#111" stroke-width="0.8"/>
<line x1="601.00" y1="754.28" x2="605.00" y2="754.28" stroke="#111" stroke-width="0.8"/>
<line x1="601.00" y1="765.23" x2="605.00" y2="765.23" stroke="#111" stroke-width="0.8"/>
<line x1="624.50" y1="724.58" x2="624.50" y2="740.21" stroke="#111" stroke-width="0.8"/>
<line x1="622.50" y1="724.58" x2="626.50" y2="724.58" stroke="#111" stroke-width="0.8"/>
<line x1="622.50" y1="740.21" x2="626.50" y2="740.21" stroke="#111" stroke-width="0.8"/>
<line x1="646.40" y1="783.60" x2="646.40" y2="791.41" stroke="#111" stroke-width="0.8"/>
<line x1="644.40" y1="783.60" x2="648.40" y2="783.60" stroke="#111" stroke-width="0.8"/>
<line x1="644.40" y1="791.41" x2="648.40" y2="791.41" stroke="#111" stroke-width="0.8"/>
<line x1="667.90" y1="762.88" x2="667.90" y2="773.82" stroke="#111" stroke-width="0.8"/>
<line x1="665.90" y1="762.88" x2="669.90" y2="762.88" stroke="#111" stroke-width="0.8"/>
<line x1="665.90" y1="773.82" x2="669.90" y2="773.82" stroke="#111" stroke-width="0.8"/>
<circle cx="559.40" cy="746.08" r="2.2" fill="#111" stroke="#111" stroke-width="0"/>
<circle cx="554.40" cy="755.46" r="2.2" fill="#111" stroke="#111" stroke-width="0"/>
<circle cx="559.40" cy="756.24" r="2.2" fill="#111" stroke="#111" stroke-width="0"/>
<circle cx="564.40" cy="756.24" r="2.2" fill="#111" stroke="#111" stroke-width="0"/>
<circle cx="555.40" cy="759.36" r="2.2" fill="#111" stroke="#111" stroke-width="0"/>
<circle cx="559.40" cy="766.40" r="2.2" fill="#111" stroke="#111" stroke-width="0"/>
<rect x="574.00" y="732.15" width="4.4" height="4.4" fill="#111" stroke="#111" stroke-width="0"/>
<rect x="584.00" y="732.15" width="4.4" height="4.4" fill="#111" stroke="#111" stroke-width="0"/>
<rect x="587.00" y="738.40" width="4.4" height="4.4" fill="#111" stroke="#111" stroke-width="0"/>
<rect x="574.00" y="741.53" width="4.4" height="4.4" fill="#111" stroke="#111" stroke-width="0"/>
<rect x="579.00" y="747.78" width="4.4" height="4.4" fill="#111" stroke="#111" stroke-width="0"/>
<rect x="579.00" y="733.71" width="4.4" height="4.4" fill="#111" stroke="#111" stroke-width="0"/>
<polygon points="599.00,751.36 596.58,755.65 601.42,755.65" fill="#111" stroke="#111" stroke-width="0"/>
<polygon points="607.00,751.36 604.58,755.65 609.42,755.65" fill="#111" stroke="#111" stroke-width="0"/>
<polygon points="603.00,755.27 600.58,759.56 605.42,759.56" fill="#111" stroke="#111" stroke-width="0"/>
<polygon points="599.00,757.62 596.58,761.90 601.42,761.90" fill="#111" stroke="#111" stroke-width="0"/>
<polygon points="607.00,761.52 604.58,765.81 609.42,765.81" fill="#111" stroke="#111" stroke-width="0"/>
<polygon points="603.00,767.00 600.58,771.28 605.42,771.28" fill="#111" stroke="#111" stroke-width="0"/>
<polygon points="624.50,725.15 622.08,720.87 626.92,720.87" fill="#111" stroke="#111" stroke-width="0"/>
<polygon points="619.50,732.97 617.08,728.68 621.92,728.68" fill="#111" stroke="#111" stroke-width="0"/>
<polygon points="629.50,732.97 627.08,728.68 631.92,728.68" fill="#111" stroke="#111" stroke-width="0"/>
<polygon points="619.50,739.22 617.08,734.93 621.92,734.93" fill="#111" stroke="#111" stroke-width="0"/>
<polygon points="624.50,739.22 622.08,734.93 626.92,734.93" fill="#111" stroke="#111" stroke-width="0"/>
<polygon points="629.50,739.22 627.08,734.93 631.92,734.93" fill="#111" stroke="#111" stroke-width="0"/>
<polygon points="641.40,781.18 643.38,783.60 641.40,786.01 639.42,783.60" fill="#111" stroke="#111" stroke-width="0"/>
<polygon points="651.40,781.18 653.38,783.60 651.40,786.01 649.42,783.60" fill="#111" stroke="#111" stroke-width="0"/>
<polygon points="646.40,782.74 648.38,785.16 646.40,787.58 644.42,785.16" fill="#111" stroke="#111" stroke-width="0"/>
<polygon points="641.40,785.08 643.38,787.50 641.40,789.92 639.42,787.50" fill="#111" stroke="#111" stroke-width="0"/>
<polygon points="651.40,785.08 653.38,787.50 651.40,789.92 649.42,787.50" fill="#111" stroke="#111" stroke-width="0"/>
<polygon points="646.40,786.65 648.38,789.07 646.40,791.49 644.42,789.07" fill="#111" stroke="#111" stroke-width="0"/>
<circle cx="667.90" cy="760.93" r="2.2" fill="#fff" stroke="#111" stroke-width="1.0"/>
<circle cx="662.90" cy="765.62" r="2.2" fill="#fff" stroke="#111" stroke-width="1.0"/>
<circle cx="672.90" cy="765.62" r="2.2" fill="#fff" stroke="#111" stroke-width="1.0"/>
<circle cx="662.90" cy="771.09" r="2.2" fill="#fff" stroke="#111" stroke-width="1.0"/>
<circle cx="667.90" cy="771.09" r="2.2" fill="#fff" stroke="#111" stroke-width="1.0"/>
<circle cx="672.90" cy="771.09" r="2.2" fill="#fff" stroke="#111" stroke-width="1.0"/>
<line x1="544.40" y1="805.20" x2="544.40" y2="710.90" stroke="#333" stroke-width="0.9"/>
<line x1="541.40" y1="804.70" x2="544.40" y2="804.70" stroke="#333" stroke-width="0.9"/>
<text x="542.20" y="808.33" font-size="8.7" text-anchor="end" font-weight="normal" fill="#222">0.0</text>
<line x1="541.40" y1="789.07" x2="544.40" y2="789.07" stroke="#333" stroke-width="0.9"/>
<text x="542.20" y="792.70" font-size="8.7" text-anchor="end" font-weight="normal" fill="#222">0.2</text>
<line x1="541.40" y1="773.43" x2="544.40" y2="773.43" stroke="#333" stroke-width="0.9"/>
<text x="542.20" y="777.07" font-size="8.7" text-anchor="end" font-weight="normal" fill="#222">0.4</text>
<line x1="541.40" y1="757.80" x2="544.40" y2="757.80" stroke="#333" stroke-width="0.9"/>
<text x="542.20" y="761.43" font-size="8.7" text-anchor="end" font-weight="normal" fill="#222">0.6</text>
<line x1="541.40" y1="742.17" x2="544.40" y2="742.17" stroke="#333" stroke-width="0.9"/>
<text x="542.20" y="745.80" font-size="8.7" text-anchor="end" font-weight="normal" fill="#222">0.8</text>
<line x1="541.40" y1="726.53" x2="544.40" y2="726.53" stroke="#333" stroke-width="0.9"/>
<text x="542.20" y="730.17" font-size="8.7" text-anchor="end" font-weight="normal" fill="#222">1.0</text>
<line x1="541.40" y1="710.90" x2="544.40" y2="710.90" stroke="#333" stroke-width="0.9"/>
<text x="542.20" y="714.53" font-size="8.7" text-anchor="end" font-weight="normal" fill="#222">1.2</text>
<line x1="544.40" y1="804.70" x2="680.00" y2="804.70" stroke="#333" stroke-width="0.9"/>
<line x1="559.40" y1="804.70" x2="559.40" y2="807.70" stroke="#333" stroke-width="0.9"/>
<line x1="581.20" y1="804.70" x2="581.20" y2="807.70" stroke="#333" stroke-width="0.9"/>
<line x1="603.00" y1="804.70" x2="603.00" y2="807.70" stroke="#333" stroke-width="0.9"/>
<line x1="624.50" y1="804.70" x2="624.50" y2="807.70" stroke="#333" stroke-width="0.9"/>
<line x1="646.40" y1="804.70" x2="646.40" y2="807.70" stroke="#333" stroke-width="0.9"/>
<line x1="667.90" y1="804.70" x2="667.90" y2="807.70" stroke="#333" stroke-width="0.9"/>
<text x="523.40" y="757.90" font-size="10" text-anchor="middle" fill="#111" transform="rotate(-90 523.40 754.30)">Tumor weight (g)</text>
<text x="0" y="0" font-size="10.5" text-anchor="middle" font-weight="bold" fill="#000" transform="translate(614.00 816.68) scale(0.93 1)">HL-60</text>
<polyline points="559.40,732.00 559.40,721.40 581.20,721.40 581.20,724.60" fill="none" stroke="#555" stroke-width="0.8"/>
<text x="570.20" y="722.45" font-size="8.3" text-anchor="middle" fill="#222">**</text>
<polyline points="581.20,720.10 581.20,710.40 624.50,710.40 624.50,713.00" fill="none" stroke="#555" stroke-width="0.8"/>
<text x="603.50" y="711.95" font-size="8.3" text-anchor="middle" fill="#222">*</text>
<polyline points="646.40,763.50 646.40,748.20 667.90,748.20 667.90,753.00" fill="none" stroke="#555" stroke-width="0.8"/>
<text x="656.90" y="749.75" font-size="8.3" text-anchor="middle" fill="#222">***</text>
</svg>
</body></html>
